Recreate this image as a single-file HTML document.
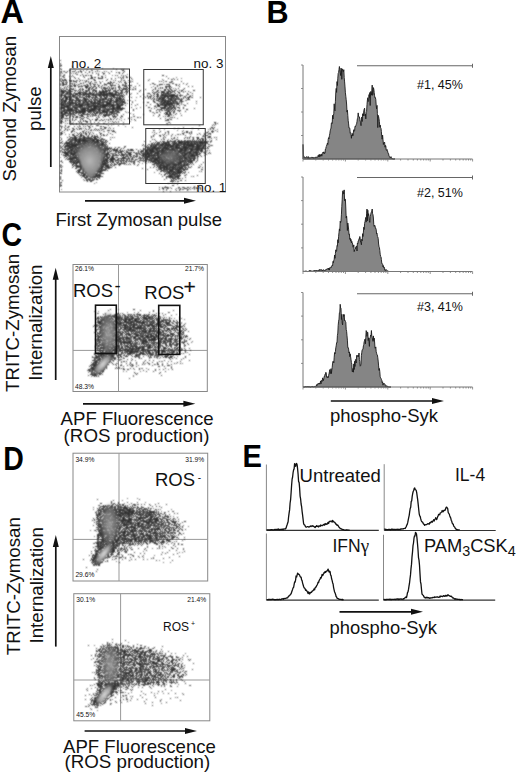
<!DOCTYPE html>
<html><head><meta charset="utf-8"><style>
html,body{margin:0;padding:0;background:#fff;}
svg{display:block;font-family:"Liberation Sans", sans-serif;}
</style></head><body>
<svg width="520" height="777" viewBox="0 0 520 777">
<rect x="59.5" y="36.5" width="166" height="155.5" stroke="#888" stroke-width="1" fill="none"/>
<rect x="73" y="264.5" width="134.3" height="127" stroke="#888" stroke-width="1" fill="none"/>
<line x1="118.5" y1="264.5" x2="118.5" y2="391.5" stroke="#999" stroke-width="1"/>
<line x1="73" y1="350.4" x2="207.3" y2="350.4" stroke="#999" stroke-width="1"/>
<rect x="73" y="453.2" width="134.7" height="127.8" stroke="#888" stroke-width="1" fill="none"/>
<line x1="119" y1="453.2" x2="119" y2="581.0" stroke="#999" stroke-width="1"/>
<line x1="73" y1="539.4" x2="207.7" y2="539.4" stroke="#999" stroke-width="1"/>
<rect x="73.8" y="593.7" width="136" height="127.1" stroke="#888" stroke-width="1" fill="none"/>
<line x1="120.6" y1="593.7" x2="120.6" y2="720.8000000000001" stroke="#999" stroke-width="1"/>
<line x1="73.8" y1="680" x2="209.8" y2="680" stroke="#999" stroke-width="1"/>
<defs><filter id="b25" x="-50%" y="-50%" width="200%" height="200%"><feGaussianBlur stdDeviation="2.5"/></filter><filter id="b2" x="-50%" y="-50%" width="200%" height="200%"><feGaussianBlur stdDeviation="2"/></filter><filter id="b15" x="-50%" y="-50%" width="200%" height="200%"><feGaussianBlur stdDeviation="1.5"/></filter><filter id="b1" x="-50%" y="-50%" width="200%" height="200%"><feGaussianBlur stdDeviation="0.8"/></filter><filter id="bdot" x="-5%" y="-5%" width="110%" height="110%"><feConvolveMatrix order="3" kernelMatrix="1 2 1 2 6 2 1 2 1" divisor="18" preserveAlpha="false"/></filter><radialGradient id="g0" cx="0.5" cy="0.5" r="0.5"><stop offset="0" stop-color="#b6b6b6"/><stop offset="0.65" stop-color="#8c8c8c" stop-opacity="0.95"/><stop offset="1" stop-color="#8c8c8c" stop-opacity="0"/></radialGradient><radialGradient id="g1" cx="0.5" cy="0.5" r="0.5"><stop offset="0" stop-color="#8a8a8a"/><stop offset="0.65" stop-color="#666666" stop-opacity="0.7"/><stop offset="1" stop-color="#666666" stop-opacity="0"/></radialGradient><radialGradient id="g2" cx="0.5" cy="0.5" r="0.5"><stop offset="0" stop-color="#a4a4a4"/><stop offset="0.65" stop-color="#7a7a7a" stop-opacity="0.8"/><stop offset="1" stop-color="#7a7a7a" stop-opacity="0"/></radialGradient><radialGradient id="g3" cx="0.5" cy="0.5" r="0.5"><stop offset="0" stop-color="#e0e0e0"/><stop offset="0.65" stop-color="#9a9a9a" stop-opacity="0.95"/><stop offset="1" stop-color="#9a9a9a" stop-opacity="0"/></radialGradient><radialGradient id="g4" cx="0.5" cy="0.5" r="0.5"><stop offset="0" stop-color="#a2a2a2"/><stop offset="0.65" stop-color="#7c7c7c" stop-opacity="0.75"/><stop offset="1" stop-color="#7c7c7c" stop-opacity="0"/></radialGradient><radialGradient id="g5" cx="0.5" cy="0.5" r="0.5"><stop offset="0" stop-color="#e0e0e0"/><stop offset="0.65" stop-color="#a0a0a0" stop-opacity="0.95"/><stop offset="1" stop-color="#a0a0a0" stop-opacity="0"/></radialGradient></defs>
<g filter="url(#bdot)"><path d="M60 64.5h1M99 65.5h1M73 68.5h1M102 68.5h1M113 68.5h1M60 69.5h1M87 69.5h1M91 69.5h1M86 70.5h1M91 70.5h1M63 71.5h1M73 71.5h1M97 71.5h1M99 71.5h1M106 71.5h1M60 72.5h2M65 72.5h1M70 72.5h1M78 72.5h1M108 72.5h1M118 72.5h1M62 73.5h1M71 73.5h1M73 73.5h1M87 73.5h1M92 73.5h1M98 73.5h1M60 74.5h1M64 74.5h1M76 74.5h1M103 74.5h1M127 74.5h1M63 75.5h1M72 75.5h1M83 75.5h1M105 75.5h1M112 75.5h1M123 75.5h1M125 75.5h1M60 76.5h1M63 76.5h1M69 76.5h1M73 76.5h1M129 76.5h1M63 77.5h1M122 77.5h2M176 77.5h1M60 78.5h2M88 78.5h1M173 78.5h1M181 78.5h1M79 79.5h1M93 79.5h1M111 79.5h1M121 79.5h1M132 79.5h1M149 79.5h1M162 79.5h1M172 79.5h1M64 80.5h1M76 80.5h2M84 80.5h1M113 80.5h1M121 80.5h1M123 80.5h1M130 80.5h1M60 81.5h1M63 81.5h1M66 81.5h1M76 81.5h1M85 81.5h1M99 81.5h1M102 81.5h1M125 81.5h1M165 81.5h1M66 82.5h2M83 82.5h1M85 82.5h1M88 82.5h1M94 82.5h2M114 82.5h1M119 82.5h1M121 82.5h1M128 82.5h1M163 82.5h1M171 82.5h1M71 83.5h1M104 83.5h1M116 83.5h1M137 83.5h1M187 83.5h1M62 84.5h1M72 84.5h1M76 84.5h1M79 84.5h1M86 84.5h1M112 84.5h1M122 84.5h2M150 84.5h1M155 84.5h1M164 84.5h1M175 84.5h1M68 85.5h1M70 85.5h2M73 85.5h1M77 85.5h1M81 85.5h1M83 85.5h1M88 85.5h1M94 85.5h1M99 85.5h1M104 85.5h1M106 85.5h1M113 85.5h1M119 85.5h1M123 85.5h3M159 85.5h1M178 85.5h1M65 86.5h1M72 86.5h1M80 86.5h1M88 86.5h1M93 86.5h1M129 86.5h1M153 86.5h1M66 87.5h1M68 87.5h1M78 87.5h1M92 87.5h1M101 87.5h1M105 87.5h1M107 87.5h1M111 87.5h1M119 87.5h2M123 87.5h1M126 87.5h1M151 87.5h1M165 87.5h1M60 88.5h1M66 88.5h1M75 88.5h1M91 88.5h1M104 88.5h1M170 88.5h1M173 88.5h1M175 88.5h1M61 89.5h1M63 89.5h1M80 89.5h1M94 89.5h1M104 89.5h1M115 89.5h1M124 89.5h1M126 89.5h1M168 89.5h1M171 89.5h1M176 89.5h1M60 90.5h1M63 90.5h1M76 90.5h1M87 90.5h1M89 90.5h1M92 90.5h1M99 90.5h1M107 90.5h1M113 90.5h2M160 90.5h1M169 90.5h1M172 90.5h1M64 91.5h1M67 91.5h3M75 91.5h1M77 91.5h1M79 91.5h2M85 91.5h1M92 91.5h2M101 91.5h1M114 91.5h1M122 91.5h1M127 91.5h2M153 91.5h1M156 91.5h1M164 91.5h1M166 91.5h2M173 91.5h2M183 91.5h1M60 92.5h2M66 92.5h1M69 92.5h1M83 92.5h1M86 92.5h1M98 92.5h1M105 92.5h1M108 92.5h1M111 92.5h1M121 92.5h1M126 92.5h1M154 92.5h1M156 92.5h1M159 92.5h1M166 92.5h1M172 92.5h1M183 92.5h1M60 93.5h2M65 93.5h1M68 93.5h2M73 93.5h2M82 93.5h1M84 93.5h1M87 93.5h1M92 93.5h1M94 93.5h1M97 93.5h3M102 93.5h1M105 93.5h1M113 93.5h2M116 93.5h1M119 93.5h1M122 93.5h1M131 93.5h1M147 93.5h1M154 93.5h1M164 93.5h1M169 93.5h1M62 94.5h1M64 94.5h2M67 94.5h1M69 94.5h1M72 94.5h1M82 94.5h1M89 94.5h1M91 94.5h1M94 94.5h1M97 94.5h1M108 94.5h1M117 94.5h2M121 94.5h1M164 94.5h1M166 94.5h2M169 94.5h2M180 94.5h1M187 94.5h1M68 95.5h1M77 95.5h1M79 95.5h2M82 95.5h1M91 95.5h1M96 95.5h2M101 95.5h1M108 95.5h3M115 95.5h1M119 95.5h1M158 95.5h1M160 95.5h1M168 95.5h1M176 95.5h1M181 95.5h1M190 95.5h1M67 96.5h1M71 96.5h1M74 96.5h4M80 96.5h1M82 96.5h1M93 96.5h1M100 96.5h1M111 96.5h1M117 96.5h1M120 96.5h2M144 96.5h1M151 96.5h1M161 96.5h3M174 96.5h1M185 96.5h1M60 97.5h1M64 97.5h1M68 97.5h1M70 97.5h1M74 97.5h2M80 97.5h1M82 97.5h1M94 97.5h1M107 97.5h1M118 97.5h1M124 97.5h1M129 97.5h1M136 97.5h1M160 97.5h1M170 97.5h1M173 97.5h1M177 97.5h1M191 97.5h1M86 98.5h2M89 98.5h1M94 98.5h1M97 98.5h5M104 98.5h1M114 98.5h1M117 98.5h1M156 98.5h3M161 98.5h1M166 98.5h2M172 98.5h1M174 98.5h1M176 98.5h4M186 98.5h1M63 99.5h1M68 99.5h1M71 99.5h1M77 99.5h1M79 99.5h1M82 99.5h2M94 99.5h1M97 99.5h1M101 99.5h1M107 99.5h1M113 99.5h1M118 99.5h1M121 99.5h1M124 99.5h1M151 99.5h1M153 99.5h1M156 99.5h1M160 99.5h1M164 99.5h1M169 99.5h1M172 99.5h3M177 99.5h1M180 99.5h1M182 99.5h1M60 100.5h1M62 100.5h1M73 100.5h1M80 100.5h1M82 100.5h2M88 100.5h1M93 100.5h1M95 100.5h2M98 100.5h1M101 100.5h1M103 100.5h2M115 100.5h1M119 100.5h1M121 100.5h1M127 100.5h1M130 100.5h1M135 100.5h1M160 100.5h2M169 100.5h1M173 100.5h1M185 100.5h2M61 101.5h1M63 101.5h1M76 101.5h1M82 101.5h1M84 101.5h1M87 101.5h1M103 101.5h1M113 101.5h1M118 101.5h1M120 101.5h1M132 101.5h1M158 101.5h1M160 101.5h1M163 101.5h1M166 101.5h1M174 101.5h1M177 101.5h1M180 101.5h1M183 101.5h1M60 102.5h1M63 102.5h1M68 102.5h1M74 102.5h1M76 102.5h1M78 102.5h2M82 102.5h1M85 102.5h1M88 102.5h1M92 102.5h1M96 102.5h1M98 102.5h1M104 102.5h2M111 102.5h2M114 102.5h1M117 102.5h3M121 102.5h1M125 102.5h1M143 102.5h1M155 102.5h1M160 102.5h1M162 102.5h1M169 102.5h1M172 102.5h1M174 102.5h3M179 102.5h1M62 103.5h1M64 103.5h1M66 103.5h1M69 103.5h1M80 103.5h2M84 103.5h3M89 103.5h2M100 103.5h3M111 103.5h1M118 103.5h1M120 103.5h2M124 103.5h1M127 103.5h1M156 103.5h1M159 103.5h3M165 103.5h1M175 103.5h1M179 103.5h1M181 103.5h1M196 103.5h1M64 104.5h1M66 104.5h3M71 104.5h3M83 104.5h2M90 104.5h3M94 104.5h1M101 104.5h1M114 104.5h2M119 104.5h2M163 104.5h1M174 104.5h1M176 104.5h1M181 104.5h1M183 104.5h1M60 105.5h1M65 105.5h1M70 105.5h1M72 105.5h2M78 105.5h1M85 105.5h2M89 105.5h2M98 105.5h2M108 105.5h1M110 105.5h1M115 105.5h2M155 105.5h1M160 105.5h2M167 105.5h1M170 105.5h2M176 105.5h1M60 106.5h1M62 106.5h2M69 106.5h1M72 106.5h1M74 106.5h4M84 106.5h1M87 106.5h1M92 106.5h1M101 106.5h1M107 106.5h1M109 106.5h1M114 106.5h1M157 106.5h1M167 106.5h1M174 106.5h1M176 106.5h1M65 107.5h1M71 107.5h2M78 107.5h1M81 107.5h1M83 107.5h1M85 107.5h3M90 107.5h1M97 107.5h1M99 107.5h1M107 107.5h1M110 107.5h1M115 107.5h1M140 107.5h1M167 107.5h1M170 107.5h2M175 107.5h1M179 107.5h1M69 108.5h1M77 108.5h1M81 108.5h1M90 108.5h1M97 108.5h2M102 108.5h3M106 108.5h5M115 108.5h1M166 108.5h1M169 108.5h2M63 109.5h1M66 109.5h1M73 109.5h3M80 109.5h1M96 109.5h1M102 109.5h2M105 109.5h1M116 109.5h1M119 109.5h1M158 109.5h2M164 109.5h1M167 109.5h4M60 110.5h3M65 110.5h1M80 110.5h1M88 110.5h1M95 110.5h2M100 110.5h1M105 110.5h2M109 110.5h1M117 110.5h5M149 110.5h1M159 110.5h1M161 110.5h1M164 110.5h1M167 110.5h1M169 110.5h2M179 110.5h1M61 111.5h1M65 111.5h1M67 111.5h1M69 111.5h2M72 111.5h1M78 111.5h1M92 111.5h1M94 111.5h1M96 111.5h1M98 111.5h1M100 111.5h1M108 111.5h2M116 111.5h1M125 111.5h1M173 111.5h1M67 112.5h1M70 112.5h1M72 112.5h1M75 112.5h1M90 112.5h2M98 112.5h2M113 112.5h2M116 112.5h1M126 112.5h1M152 112.5h2M160 112.5h1M174 112.5h1M63 113.5h1M69 113.5h1M72 113.5h1M78 113.5h2M84 113.5h1M101 113.5h2M104 113.5h1M113 113.5h1M173 113.5h1M180 113.5h1M60 114.5h2M65 114.5h1M71 114.5h2M82 114.5h1M91 114.5h2M101 114.5h1M104 114.5h1M107 114.5h2M114 114.5h1M116 114.5h1M143 114.5h1M169 114.5h1M171 114.5h1M72 115.5h1M74 115.5h2M87 115.5h1M90 115.5h1M92 115.5h2M100 115.5h1M121 115.5h1M171 115.5h1M173 115.5h1M61 116.5h1M70 116.5h1M102 116.5h1M108 116.5h1M112 116.5h1M116 116.5h1M133 116.5h1M163 116.5h1M169 116.5h1M60 117.5h1M69 117.5h1M98 117.5h2M103 117.5h1M109 117.5h1M129 117.5h1M138 117.5h1M170 117.5h2M62 118.5h1M64 118.5h1M68 118.5h1M82 118.5h1M88 118.5h1M114 118.5h1M117 118.5h1M121 118.5h1M169 118.5h1M177 118.5h1M76 119.5h1M119 119.5h1M124 119.5h1M80 120.5h1M100 120.5h1M103 120.5h1M121 120.5h1M167 120.5h1M65 121.5h1M90 121.5h1M110 121.5h1M115 121.5h1M118 121.5h1M130 121.5h1M63 122.5h1M70 122.5h1M73 122.5h1M86 122.5h1M114 122.5h1M118 122.5h1M168 122.5h1M65 123.5h1M79 123.5h1M91 123.5h1M97 123.5h1M99 123.5h1M111 123.5h1M166 123.5h2M170 123.5h1M73 124.5h1M76 124.5h1M113 124.5h1M167 124.5h1M213 124.5h1M90 125.5h1M111 125.5h1M214 125.5h1M61 126.5h2M65 126.5h1M69 126.5h1M77 126.5h1M79 126.5h2M125 126.5h1M64 127.5h1M68 127.5h1M78 127.5h1M89 127.5h2M106 127.5h1M109 127.5h1M61 128.5h1M83 128.5h1M95 128.5h1M104 128.5h1M108 128.5h1M212 128.5h1M73 129.5h1M81 129.5h1M91 129.5h1M102 129.5h1M164 129.5h1M208 129.5h1M213 129.5h1M217 129.5h1M73 130.5h1M93 130.5h1M95 130.5h1M154 130.5h1M177 130.5h1M183 130.5h1M212 130.5h1M88 131.5h1M103 131.5h2M167 131.5h1M64 132.5h1M76 132.5h1M92 132.5h1M152 132.5h1M159 132.5h1M60 133.5h1M74 133.5h1M165 133.5h1M168 133.5h1M206 133.5h1M208 133.5h1M65 134.5h1M85 134.5h1M91 134.5h1M96 134.5h1M162 134.5h1M168 134.5h1M177 134.5h1M190 134.5h1M200 134.5h1M208 134.5h1M60 135.5h1M72 135.5h1M82 135.5h1M86 135.5h1M97 135.5h1M166 135.5h1M171 135.5h1M175 135.5h1M78 136.5h2M87 136.5h1M100 136.5h1M164 136.5h1M171 136.5h1M202 136.5h1M204 136.5h1M208 136.5h1M73 137.5h1M77 137.5h1M79 137.5h2M82 137.5h1M86 137.5h2M89 137.5h3M100 137.5h1M110 137.5h1M114 137.5h1M192 137.5h1M196 137.5h1M205 137.5h1M207 137.5h1M210 137.5h1M61 138.5h1M69 138.5h2M73 138.5h1M78 138.5h1M82 138.5h1M85 138.5h1M99 138.5h1M101 138.5h1M163 138.5h1M173 138.5h1M203 138.5h1M70 139.5h1M73 139.5h1M81 139.5h1M86 139.5h4M91 139.5h1M100 139.5h1M102 139.5h1M163 139.5h1M168 139.5h1M176 139.5h1M192 139.5h1M209 139.5h1M67 140.5h1M71 140.5h1M73 140.5h1M77 140.5h1M90 140.5h1M101 140.5h1M103 140.5h1M155 140.5h1M174 140.5h1M179 140.5h1M188 140.5h2M72 141.5h1M74 141.5h1M81 141.5h1M88 141.5h2M91 141.5h1M103 141.5h1M169 141.5h2M185 141.5h1M189 141.5h1M197 141.5h1M203 141.5h1M207 141.5h1M211 141.5h1M65 142.5h1M70 142.5h1M72 142.5h2M83 142.5h1M86 142.5h1M90 142.5h1M93 142.5h1M102 142.5h1M105 142.5h1M153 142.5h1M161 142.5h1M164 142.5h1M169 142.5h1M172 142.5h2M175 142.5h1M183 142.5h1M190 142.5h1M192 142.5h2M195 142.5h1M198 142.5h1M207 142.5h1M210 142.5h1M70 143.5h1M73 143.5h1M75 143.5h1M77 143.5h1M79 143.5h1M87 143.5h1M89 143.5h1M92 143.5h1M96 143.5h1M98 143.5h3M105 143.5h1M156 143.5h1M158 143.5h1M161 143.5h1M167 143.5h1M171 143.5h2M177 143.5h1M182 143.5h1M186 143.5h1M189 143.5h1M193 143.5h1M196 143.5h1M198 143.5h1M204 143.5h1M206 143.5h1M66 144.5h1M68 144.5h1M81 144.5h2M85 144.5h2M89 144.5h3M98 144.5h1M100 144.5h1M105 144.5h1M148 144.5h1M152 144.5h2M155 144.5h1M159 144.5h1M164 144.5h1M172 144.5h1M175 144.5h1M179 144.5h2M199 144.5h1M201 144.5h1M203 144.5h2M209 144.5h1M70 145.5h1M78 145.5h3M83 145.5h1M87 145.5h1M93 145.5h1M103 145.5h2M107 145.5h1M144 145.5h1M152 145.5h1M154 145.5h1M157 145.5h3M163 145.5h1M174 145.5h1M181 145.5h1M185 145.5h1M194 145.5h1M202 145.5h1M210 145.5h1M212 145.5h1M64 146.5h1M78 146.5h1M80 146.5h1M84 146.5h1M101 146.5h2M104 146.5h1M106 146.5h1M124 146.5h1M152 146.5h1M158 146.5h1M160 146.5h2M163 146.5h1M166 146.5h1M169 146.5h1M174 146.5h1M178 146.5h1M187 146.5h1M201 146.5h2M206 146.5h1M60 147.5h1M67 147.5h2M73 147.5h1M75 147.5h1M90 147.5h1M92 147.5h2M96 147.5h1M102 147.5h1M105 147.5h2M111 147.5h1M149 147.5h1M151 147.5h1M156 147.5h1M159 147.5h1M161 147.5h2M168 147.5h1M172 147.5h1M174 147.5h1M180 147.5h3M189 147.5h3M194 147.5h2M200 147.5h2M204 147.5h1M65 148.5h2M71 148.5h1M74 148.5h1M76 148.5h1M85 148.5h1M91 148.5h1M94 148.5h1M101 148.5h3M148 148.5h1M150 148.5h1M161 148.5h1M169 148.5h1M174 148.5h1M188 148.5h1M193 148.5h2M206 148.5h2M63 149.5h1M66 149.5h1M73 149.5h2M77 149.5h1M79 149.5h1M81 149.5h1M87 149.5h1M97 149.5h1M104 149.5h1M106 149.5h1M110 149.5h1M115 149.5h1M127 149.5h1M140 149.5h1M154 149.5h1M158 149.5h1M164 149.5h1M175 149.5h2M179 149.5h1M183 149.5h1M187 149.5h1M189 149.5h1M200 149.5h1M204 149.5h1M61 150.5h1M67 150.5h2M73 150.5h1M75 150.5h1M80 150.5h1M83 150.5h3M89 150.5h1M92 150.5h1M94 150.5h3M98 150.5h1M102 150.5h1M106 150.5h1M126 150.5h1M129 150.5h1M142 150.5h1M148 150.5h1M154 150.5h2M158 150.5h1M166 150.5h1M168 150.5h1M176 150.5h1M178 150.5h1M187 150.5h2M193 150.5h3M199 150.5h1M206 150.5h2M209 150.5h1M64 151.5h1M67 151.5h1M70 151.5h1M72 151.5h1M75 151.5h1M81 151.5h1M84 151.5h1M90 151.5h3M97 151.5h1M101 151.5h3M109 151.5h1M111 151.5h1M113 151.5h1M116 151.5h2M123 151.5h1M127 151.5h1M148 151.5h1M155 151.5h2M160 151.5h1M165 151.5h1M168 151.5h4M176 151.5h2M182 151.5h2M186 151.5h3M192 151.5h1M194 151.5h1M197 151.5h1M204 151.5h1M206 151.5h1M60 152.5h1M69 152.5h1M72 152.5h2M78 152.5h1M81 152.5h1M87 152.5h1M90 152.5h2M95 152.5h1M102 152.5h1M105 152.5h1M109 152.5h1M115 152.5h1M129 152.5h1M136 152.5h1M140 152.5h1M143 152.5h3M149 152.5h1M154 152.5h1M159 152.5h1M172 152.5h6M181 152.5h1M185 152.5h2M191 152.5h2M199 152.5h1M201 152.5h1M203 152.5h1M206 152.5h1M68 153.5h2M76 153.5h2M80 153.5h1M83 153.5h1M95 153.5h1M104 153.5h2M110 153.5h1M112 153.5h4M122 153.5h1M137 153.5h2M141 153.5h1M145 153.5h1M152 153.5h1M168 153.5h1M171 153.5h1M173 153.5h2M183 153.5h1M188 153.5h1M192 153.5h1M194 153.5h1M204 153.5h1M63 154.5h1M75 154.5h3M81 154.5h1M85 154.5h1M88 154.5h1M93 154.5h1M98 154.5h1M100 154.5h1M102 154.5h2M112 154.5h2M115 154.5h1M125 154.5h1M127 154.5h2M137 154.5h1M142 154.5h1M150 154.5h1M152 154.5h1M155 154.5h2M159 154.5h1M163 154.5h1M165 154.5h1M168 154.5h1M171 154.5h1M173 154.5h3M178 154.5h2M181 154.5h1M183 154.5h1M187 154.5h2M190 154.5h1M194 154.5h2M66 155.5h1M69 155.5h1M74 155.5h1M77 155.5h1M82 155.5h2M95 155.5h1M97 155.5h2M100 155.5h1M102 155.5h4M110 155.5h1M121 155.5h1M124 155.5h1M126 155.5h2M136 155.5h2M144 155.5h1M147 155.5h1M159 155.5h1M161 155.5h5M167 155.5h1M179 155.5h1M181 155.5h1M186 155.5h2M189 155.5h1M68 156.5h2M71 156.5h3M75 156.5h1M79 156.5h1M81 156.5h2M84 156.5h1M86 156.5h3M90 156.5h1M94 156.5h1M100 156.5h1M102 156.5h2M111 156.5h1M113 156.5h1M121 156.5h1M128 156.5h1M133 156.5h1M142 156.5h1M145 156.5h1M150 156.5h1M152 156.5h1M154 156.5h1M160 156.5h3M165 156.5h2M170 156.5h1M177 156.5h1M182 156.5h1M185 156.5h3M189 156.5h1M195 156.5h1M60 157.5h1M69 157.5h1M71 157.5h1M80 157.5h1M84 157.5h1M87 157.5h1M94 157.5h1M96 157.5h2M102 157.5h1M106 157.5h1M115 157.5h1M125 157.5h1M130 157.5h1M133 157.5h1M136 157.5h1M139 157.5h1M145 157.5h1M150 157.5h2M154 157.5h1M156 157.5h1M162 157.5h2M167 157.5h1M171 157.5h1M175 157.5h1M181 157.5h1M183 157.5h1M187 157.5h1M190 157.5h4M195 157.5h1M68 158.5h1M77 158.5h1M79 158.5h1M84 158.5h2M88 158.5h2M96 158.5h3M100 158.5h1M102 158.5h1M104 158.5h1M106 158.5h1M119 158.5h1M126 158.5h2M131 158.5h1M139 158.5h1M142 158.5h1M144 158.5h2M149 158.5h1M160 158.5h1M162 158.5h3M166 158.5h2M169 158.5h1M178 158.5h1M183 158.5h1M187 158.5h2M65 159.5h1M73 159.5h2M89 159.5h1M94 159.5h1M96 159.5h1M99 159.5h1M102 159.5h1M104 159.5h1M115 159.5h1M126 159.5h1M133 159.5h1M137 159.5h1M140 159.5h1M143 159.5h1M150 159.5h1M152 159.5h2M158 159.5h1M163 159.5h1M165 159.5h1M169 159.5h1M175 159.5h1M181 159.5h1M185 159.5h1M188 159.5h2M191 159.5h1M197 159.5h1M61 160.5h1M71 160.5h1M73 160.5h1M77 160.5h1M84 160.5h2M91 160.5h1M95 160.5h1M99 160.5h1M102 160.5h1M108 160.5h1M113 160.5h1M118 160.5h2M121 160.5h1M127 160.5h1M131 160.5h1M134 160.5h2M143 160.5h1M145 160.5h1M148 160.5h1M152 160.5h1M160 160.5h1M164 160.5h1M169 160.5h1M171 160.5h2M176 160.5h3M181 160.5h1M186 160.5h2M60 161.5h1M72 161.5h1M74 161.5h1M76 161.5h1M83 161.5h2M88 161.5h1M92 161.5h1M95 161.5h1M105 161.5h1M109 161.5h1M111 161.5h1M129 161.5h1M132 161.5h1M137 161.5h1M148 161.5h1M150 161.5h1M156 161.5h1M160 161.5h1M166 161.5h3M174 161.5h1M176 161.5h3M184 161.5h1M186 161.5h1M189 161.5h1M192 161.5h1M71 162.5h1M75 162.5h1M83 162.5h1M88 162.5h3M100 162.5h1M103 162.5h1M106 162.5h1M123 162.5h2M131 162.5h1M133 162.5h1M148 162.5h1M154 162.5h1M157 162.5h1M166 162.5h1M169 162.5h1M174 162.5h1M176 162.5h1M182 162.5h2M185 162.5h1M195 162.5h1M71 163.5h1M81 163.5h1M83 163.5h1M89 163.5h1M96 163.5h2M100 163.5h2M107 163.5h1M125 163.5h1M129 163.5h1M134 163.5h1M142 163.5h1M146 163.5h1M160 163.5h1M164 163.5h1M167 163.5h1M176 163.5h2M183 163.5h1M185 163.5h2M188 163.5h1M192 163.5h1M60 164.5h1M75 164.5h1M79 164.5h1M82 164.5h1M91 164.5h1M94 164.5h4M99 164.5h1M106 164.5h2M124 164.5h1M157 164.5h1M159 164.5h1M162 164.5h1M164 164.5h2M171 164.5h1M180 164.5h1M182 164.5h1M185 164.5h1M188 164.5h1M191 164.5h1M61 165.5h1M75 165.5h1M78 165.5h2M85 165.5h2M88 165.5h1M92 165.5h1M100 165.5h1M102 165.5h1M104 165.5h1M113 165.5h1M154 165.5h1M157 165.5h2M165 165.5h1M170 165.5h3M177 165.5h1M179 165.5h1M182 165.5h1M188 165.5h1M199 165.5h1M62 166.5h1M75 166.5h1M83 166.5h1M88 166.5h1M91 166.5h1M95 166.5h1M98 166.5h2M109 166.5h1M112 166.5h1M158 166.5h1M161 166.5h2M168 166.5h2M171 166.5h1M174 166.5h1M176 166.5h3M180 166.5h1M184 166.5h2M200 166.5h1M60 167.5h1M77 167.5h1M79 167.5h1M82 167.5h1M85 167.5h1M87 167.5h1M92 167.5h1M94 167.5h1M98 167.5h1M100 167.5h1M103 167.5h1M105 167.5h2M168 167.5h1M176 167.5h1M189 167.5h1M82 168.5h1M89 168.5h1M93 168.5h2M106 168.5h2M109 168.5h1M158 168.5h2M162 168.5h1M165 168.5h1M168 168.5h1M170 168.5h2M174 168.5h1M176 168.5h1M178 168.5h1M78 169.5h1M81 169.5h2M85 169.5h1M90 169.5h1M93 169.5h1M95 169.5h1M97 169.5h1M100 169.5h1M102 169.5h1M104 169.5h1M106 169.5h1M156 169.5h1M158 169.5h1M181 169.5h2M60 170.5h1M82 170.5h1M84 170.5h3M99 170.5h1M164 170.5h3M173 170.5h1M176 170.5h1M180 170.5h1M82 171.5h1M84 171.5h1M90 171.5h4M102 171.5h1M164 171.5h1M166 171.5h1M175 171.5h1M199 171.5h1M82 172.5h1M91 172.5h1M98 172.5h1M101 172.5h1M154 172.5h1M164 172.5h1M166 172.5h2M170 172.5h1M172 172.5h1M176 172.5h1M184 172.5h2M78 173.5h1M84 173.5h1M86 173.5h1M91 173.5h1M99 173.5h2M165 173.5h1M167 173.5h1M171 173.5h1M174 173.5h1M81 174.5h1M87 174.5h1M89 174.5h1M94 174.5h1M97 174.5h1M100 174.5h1M167 174.5h1M170 174.5h1M176 174.5h1M81 175.5h1M85 175.5h1M87 175.5h1M89 175.5h4M94 175.5h1M168 175.5h1M172 175.5h2M175 175.5h2M184 175.5h1M82 176.5h1M88 176.5h1M91 176.5h1M98 176.5h1M101 176.5h1M173 176.5h2M191 176.5h1M81 177.5h1M168 177.5h1M173 177.5h2M176 177.5h1M86 178.5h1M89 178.5h2M94 178.5h1M170 178.5h1M175 178.5h1M180 178.5h1M83 179.5h1M87 179.5h1M93 179.5h1M178 179.5h1M90 180.5h1M93 180.5h1M172 180.5h3M172 181.5h1M96 182.5h1M172 182.5h1M60 183.5h1M94 183.5h1M177 184.5h1M165 186.5h1M168 187.5h1M170 187.5h1M184 187.5h1M193 187.5h1M200 187.5h1M168 188.5h1M176 188.5h1M178 188.5h1M189 188.5h1M198 188.5h1M61 189.5h1M175 189.5h1M179 189.5h1M183 189.5h1M188 189.5h1M190 189.5h1M194 189.5h1M166 190.5h1" stroke="#6a6a6a" stroke-width="1" fill="none"/><path d="M60 60.5h1M60 63.5h1M60 65.5h2M60 66.5h1M72 66.5h1M60 68.5h1M61 69.5h1M116 69.5h1M121 69.5h1M123 69.5h1M69 70.5h2M75 70.5h1M80 70.5h1M83 70.5h1M92 70.5h1M97 70.5h1M122 70.5h2M60 71.5h2M64 71.5h1M67 71.5h1M72 71.5h1M74 71.5h1M78 71.5h1M80 71.5h2M89 71.5h1M95 71.5h1M104 71.5h1M111 71.5h1M124 71.5h1M66 72.5h1M76 72.5h1M81 72.5h1M85 72.5h1M89 72.5h1M92 72.5h1M102 72.5h1M116 72.5h1M119 72.5h1M123 72.5h1M60 73.5h1M75 73.5h1M96 73.5h1M103 73.5h2M109 73.5h1M119 73.5h1M122 73.5h1M77 74.5h1M82 74.5h1M98 74.5h1M60 75.5h1M64 75.5h1M80 75.5h1M85 75.5h2M88 75.5h1M90 75.5h2M98 75.5h1M115 75.5h1M117 75.5h1M121 75.5h1M162 75.5h2M62 76.5h1M71 76.5h1M83 76.5h1M91 76.5h1M101 76.5h2M123 76.5h1M126 76.5h1M166 76.5h1M64 77.5h1M74 77.5h1M84 77.5h1M91 77.5h2M94 77.5h2M98 77.5h1M102 77.5h1M105 77.5h1M118 77.5h1M120 77.5h1M126 77.5h2M130 77.5h1M70 78.5h1M75 78.5h1M78 78.5h1M90 78.5h3M98 78.5h5M111 78.5h1M115 78.5h1M121 78.5h1M123 78.5h1M131 78.5h1M168 78.5h1M60 79.5h1M62 79.5h1M64 79.5h2M88 79.5h1M94 79.5h1M107 79.5h1M171 79.5h1M174 79.5h1M177 79.5h1M60 80.5h1M62 80.5h2M65 80.5h2M69 80.5h3M73 80.5h1M80 80.5h1M82 80.5h1M86 80.5h1M94 80.5h2M106 80.5h1M115 80.5h1M124 80.5h1M128 80.5h1M148 80.5h1M163 80.5h1M61 81.5h1M70 81.5h2M73 81.5h3M79 81.5h1M86 81.5h1M88 81.5h1M91 81.5h1M110 81.5h1M118 81.5h1M120 81.5h1M130 81.5h1M132 81.5h1M159 81.5h1M161 81.5h1M166 81.5h1M171 81.5h2M181 81.5h1M62 82.5h2M65 82.5h1M76 82.5h1M90 82.5h1M96 82.5h1M100 82.5h1M108 82.5h1M110 82.5h2M113 82.5h1M124 82.5h2M130 82.5h1M169 82.5h2M60 83.5h1M62 83.5h2M66 83.5h1M70 83.5h1M72 83.5h1M74 83.5h1M80 83.5h2M83 83.5h1M89 83.5h2M92 83.5h1M100 83.5h1M107 83.5h4M112 83.5h1M125 83.5h2M152 83.5h2M172 83.5h2M183 83.5h1M60 84.5h1M63 84.5h4M74 84.5h1M78 84.5h1M87 84.5h1M90 84.5h1M93 84.5h3M97 84.5h1M104 84.5h3M110 84.5h1M118 84.5h1M125 84.5h1M154 84.5h1M159 84.5h4M166 84.5h4M176 84.5h1M179 84.5h1M186 84.5h1M60 85.5h1M62 85.5h2M74 85.5h2M84 85.5h2M87 85.5h1M90 85.5h1M98 85.5h1M102 85.5h1M110 85.5h3M114 85.5h2M122 85.5h1M126 85.5h1M128 85.5h4M139 85.5h1M157 85.5h1M169 85.5h1M176 85.5h1M67 86.5h1M70 86.5h2M74 86.5h2M78 86.5h2M81 86.5h2M85 86.5h3M91 86.5h1M94 86.5h2M98 86.5h1M101 86.5h1M108 86.5h1M111 86.5h1M118 86.5h2M124 86.5h3M135 86.5h1M157 86.5h1M165 86.5h6M179 86.5h1M188 86.5h1M192 86.5h1M60 87.5h1M64 87.5h1M85 87.5h3M89 87.5h2M93 87.5h1M96 87.5h1M99 87.5h1M103 87.5h2M109 87.5h1M113 87.5h1M115 87.5h1M118 87.5h1M127 87.5h1M130 87.5h1M133 87.5h1M155 87.5h1M160 87.5h1M162 87.5h1M166 87.5h1M169 87.5h1M171 87.5h1M62 88.5h1M64 88.5h1M70 88.5h2M73 88.5h1M80 88.5h1M82 88.5h1M86 88.5h1M88 88.5h2M92 88.5h1M95 88.5h2M101 88.5h1M103 88.5h1M105 88.5h3M109 88.5h1M111 88.5h3M115 88.5h1M119 88.5h1M121 88.5h1M123 88.5h4M128 88.5h2M135 88.5h1M155 88.5h1M158 88.5h1M160 88.5h1M162 88.5h1M166 88.5h1M169 88.5h1M178 88.5h1M184 88.5h1M60 89.5h1M66 89.5h2M69 89.5h1M71 89.5h3M79 89.5h1M82 89.5h2M88 89.5h2M91 89.5h1M93 89.5h1M102 89.5h1M105 89.5h1M108 89.5h1M110 89.5h1M112 89.5h1M119 89.5h1M122 89.5h2M125 89.5h1M127 89.5h1M130 89.5h1M132 89.5h2M135 89.5h1M145 89.5h1M153 89.5h1M155 89.5h1M164 89.5h2M167 89.5h1M170 89.5h1M183 89.5h1M61 90.5h2M64 90.5h2M68 90.5h3M74 90.5h2M78 90.5h1M80 90.5h1M82 90.5h1M85 90.5h2M88 90.5h1M93 90.5h4M102 90.5h2M105 90.5h2M108 90.5h3M115 90.5h1M117 90.5h2M120 90.5h3M126 90.5h1M128 90.5h1M140 90.5h1M152 90.5h1M157 90.5h2M164 90.5h2M168 90.5h1M171 90.5h1M174 90.5h2M179 90.5h1M181 90.5h2M193 90.5h2M60 91.5h4M65 91.5h2M70 91.5h3M83 91.5h1M86 91.5h2M89 91.5h1M95 91.5h2M99 91.5h2M102 91.5h6M109 91.5h1M113 91.5h1M115 91.5h2M121 91.5h1M125 91.5h2M139 91.5h1M157 91.5h1M161 91.5h3M168 91.5h3M172 91.5h1M177 91.5h1M181 91.5h1M185 91.5h1M188 91.5h1M62 92.5h3M67 92.5h2M70 92.5h1M74 92.5h1M78 92.5h5M84 92.5h2M89 92.5h2M92 92.5h1M94 92.5h1M96 92.5h1M99 92.5h6M106 92.5h1M109 92.5h2M112 92.5h1M115 92.5h4M120 92.5h1M122 92.5h1M124 92.5h1M127 92.5h1M152 92.5h1M155 92.5h1M158 92.5h1M161 92.5h4M167 92.5h2M170 92.5h2M174 92.5h1M178 92.5h2M190 92.5h1M62 93.5h2M66 93.5h2M70 93.5h2M75 93.5h6M83 93.5h1M85 93.5h2M88 93.5h4M93 93.5h1M96 93.5h1M100 93.5h2M103 93.5h2M106 93.5h7M115 93.5h1M118 93.5h1M120 93.5h2M126 93.5h1M129 93.5h1M137 93.5h1M148 93.5h2M153 93.5h1M157 93.5h1M161 93.5h1M163 93.5h1M165 93.5h4M170 93.5h1M175 93.5h1M179 93.5h1M187 93.5h1M192 93.5h1M60 94.5h2M66 94.5h1M68 94.5h1M70 94.5h2M73 94.5h1M75 94.5h3M79 94.5h3M83 94.5h6M90 94.5h1M92 94.5h2M95 94.5h2M98 94.5h10M109 94.5h8M119 94.5h1M123 94.5h1M126 94.5h1M130 94.5h1M143 94.5h1M150 94.5h1M154 94.5h1M156 94.5h3M161 94.5h3M165 94.5h1M168 94.5h1M171 94.5h4M177 94.5h1M188 94.5h1M60 95.5h6M70 95.5h1M72 95.5h4M78 95.5h1M83 95.5h2M86 95.5h1M88 95.5h2M92 95.5h4M98 95.5h3M102 95.5h6M111 95.5h4M116 95.5h3M120 95.5h3M124 95.5h1M147 95.5h1M151 95.5h1M153 95.5h1M157 95.5h1M161 95.5h7M169 95.5h7M177 95.5h1M179 95.5h2M182 95.5h1M186 95.5h1M192 95.5h1M60 96.5h2M64 96.5h3M68 96.5h3M72 96.5h2M79 96.5h1M85 96.5h6M95 96.5h2M99 96.5h1M101 96.5h1M103 96.5h2M106 96.5h2M109 96.5h2M112 96.5h3M119 96.5h1M122 96.5h2M129 96.5h1M140 96.5h1M147 96.5h1M149 96.5h2M154 96.5h1M156 96.5h3M160 96.5h1M164 96.5h10M175 96.5h3M180 96.5h1M184 96.5h1M189 96.5h2M61 97.5h1M63 97.5h1M65 97.5h3M69 97.5h1M71 97.5h1M73 97.5h1M76 97.5h2M79 97.5h1M81 97.5h1M83 97.5h2M86 97.5h1M88 97.5h2M91 97.5h3M95 97.5h3M100 97.5h2M104 97.5h3M111 97.5h1M113 97.5h5M119 97.5h2M122 97.5h1M131 97.5h1M145 97.5h1M148 97.5h1M150 97.5h1M153 97.5h1M157 97.5h1M159 97.5h1M161 97.5h5M167 97.5h2M171 97.5h2M174 97.5h1M176 97.5h1M178 97.5h1M183 97.5h1M185 97.5h1M187 97.5h3M192 97.5h1M200 97.5h1M60 98.5h1M62 98.5h2M65 98.5h3M69 98.5h3M75 98.5h4M83 98.5h3M92 98.5h1M95 98.5h1M102 98.5h2M105 98.5h2M108 98.5h5M116 98.5h1M118 98.5h4M123 98.5h1M143 98.5h1M148 98.5h1M150 98.5h1M152 98.5h1M154 98.5h1M159 98.5h2M162 98.5h3M168 98.5h4M173 98.5h1M175 98.5h1M181 98.5h1M183 98.5h1M188 98.5h1M60 99.5h3M65 99.5h3M69 99.5h2M72 99.5h2M76 99.5h1M78 99.5h1M80 99.5h1M84 99.5h5M90 99.5h2M93 99.5h1M95 99.5h2M99 99.5h2M102 99.5h5M108 99.5h1M110 99.5h2M115 99.5h3M119 99.5h2M122 99.5h2M154 99.5h1M158 99.5h2M161 99.5h3M165 99.5h1M168 99.5h1M170 99.5h2M175 99.5h2M178 99.5h2M181 99.5h1M187 99.5h3M61 100.5h1M63 100.5h4M69 100.5h4M74 100.5h6M81 100.5h1M84 100.5h3M89 100.5h1M91 100.5h1M94 100.5h1M97 100.5h1M99 100.5h2M102 100.5h1M107 100.5h7M116 100.5h3M120 100.5h1M122 100.5h1M124 100.5h1M129 100.5h1M153 100.5h1M156 100.5h3M162 100.5h7M170 100.5h3M174 100.5h2M180 100.5h2M60 101.5h1M62 101.5h1M64 101.5h3M68 101.5h2M71 101.5h2M75 101.5h1M78 101.5h3M83 101.5h1M85 101.5h2M88 101.5h5M94 101.5h2M97 101.5h4M102 101.5h1M104 101.5h4M109 101.5h3M114 101.5h4M119 101.5h1M121 101.5h4M153 101.5h2M159 101.5h1M161 101.5h2M164 101.5h2M167 101.5h4M172 101.5h2M175 101.5h2M179 101.5h1M181 101.5h2M196 101.5h1M61 102.5h2M64 102.5h2M67 102.5h1M69 102.5h5M75 102.5h1M77 102.5h1M80 102.5h1M83 102.5h2M86 102.5h2M90 102.5h2M93 102.5h3M97 102.5h1M99 102.5h5M106 102.5h5M113 102.5h1M115 102.5h2M120 102.5h1M122 102.5h3M132 102.5h1M147 102.5h2M154 102.5h1M161 102.5h1M163 102.5h6M170 102.5h2M173 102.5h1M177 102.5h1M181 102.5h1M60 103.5h2M63 103.5h1M65 103.5h1M67 103.5h2M70 103.5h7M78 103.5h2M82 103.5h2M87 103.5h2M91 103.5h9M103 103.5h1M106 103.5h5M113 103.5h1M116 103.5h2M119 103.5h1M122 103.5h1M125 103.5h1M157 103.5h1M162 103.5h3M166 103.5h9M176 103.5h3M187 103.5h1M60 104.5h4M65 104.5h1M69 104.5h2M75 104.5h8M85 104.5h5M93 104.5h1M95 104.5h1M97 104.5h4M102 104.5h12M116 104.5h3M121 104.5h3M131 104.5h1M137 104.5h1M150 104.5h1M157 104.5h2M160 104.5h3M164 104.5h9M177 104.5h2M61 105.5h4M66 105.5h4M71 105.5h1M74 105.5h4M79 105.5h6M87 105.5h2M91 105.5h7M100 105.5h8M109 105.5h1M111 105.5h4M117 105.5h6M125 105.5h1M135 105.5h1M146 105.5h1M157 105.5h3M162 105.5h5M168 105.5h2M172 105.5h3M179 105.5h1M184 105.5h2M61 106.5h1M64 106.5h5M73 106.5h1M78 106.5h5M86 106.5h1M88 106.5h4M93 106.5h8M102 106.5h5M108 106.5h1M110 106.5h4M116 106.5h5M154 106.5h2M158 106.5h2M164 106.5h3M169 106.5h3M173 106.5h1M60 107.5h5M66 107.5h4M73 107.5h5M79 107.5h2M82 107.5h1M84 107.5h1M88 107.5h2M91 107.5h1M93 107.5h4M98 107.5h1M100 107.5h6M109 107.5h1M112 107.5h3M116 107.5h5M122 107.5h1M131 107.5h1M148 107.5h2M156 107.5h1M160 107.5h6M168 107.5h2M172 107.5h3M177 107.5h2M183 107.5h1M60 108.5h5M67 108.5h2M70 108.5h3M74 108.5h3M80 108.5h1M82 108.5h7M91 108.5h6M99 108.5h2M105 108.5h1M111 108.5h4M116 108.5h9M136 108.5h1M151 108.5h1M154 108.5h1M161 108.5h5M167 108.5h2M171 108.5h2M174 108.5h2M179 108.5h1M183 108.5h1M194 108.5h1M60 109.5h2M64 109.5h2M67 109.5h6M76 109.5h3M81 109.5h5M87 109.5h9M97 109.5h4M104 109.5h1M106 109.5h10M117 109.5h2M120 109.5h3M133 109.5h1M157 109.5h1M160 109.5h2M166 109.5h1M171 109.5h1M173 109.5h1M175 109.5h1M186 109.5h2M63 110.5h2M66 110.5h11M78 110.5h2M81 110.5h7M89 110.5h6M98 110.5h2M101 110.5h4M107 110.5h2M112 110.5h2M115 110.5h2M133 110.5h1M150 110.5h1M156 110.5h1M162 110.5h1M165 110.5h2M168 110.5h1M172 110.5h1M174 110.5h1M177 110.5h2M180 110.5h1M60 111.5h1M62 111.5h3M66 111.5h1M68 111.5h1M71 111.5h1M73 111.5h1M75 111.5h3M79 111.5h7M87 111.5h5M93 111.5h1M95 111.5h1M97 111.5h1M99 111.5h1M102 111.5h6M110 111.5h6M117 111.5h2M150 111.5h1M159 111.5h1M167 111.5h3M171 111.5h1M174 111.5h1M179 111.5h1M185 111.5h1M60 112.5h3M64 112.5h3M69 112.5h1M73 112.5h2M76 112.5h10M88 112.5h2M93 112.5h2M96 112.5h2M100 112.5h8M109 112.5h4M117 112.5h3M128 112.5h1M156 112.5h2M165 112.5h3M169 112.5h2M173 112.5h1M60 113.5h3M64 113.5h5M70 113.5h2M73 113.5h1M75 113.5h2M80 113.5h1M82 113.5h2M87 113.5h1M90 113.5h1M92 113.5h1M94 113.5h4M99 113.5h2M106 113.5h2M109 113.5h1M111 113.5h2M114 113.5h3M130 113.5h1M154 113.5h1M164 113.5h1M166 113.5h2M169 113.5h2M176 113.5h1M62 114.5h3M68 114.5h1M70 114.5h1M73 114.5h2M78 114.5h1M81 114.5h1M83 114.5h7M93 114.5h1M95 114.5h1M99 114.5h1M103 114.5h1M105 114.5h2M109 114.5h3M113 114.5h1M117 114.5h1M123 114.5h1M133 114.5h1M159 114.5h1M165 114.5h4M170 114.5h1M175 114.5h1M60 115.5h4M65 115.5h4M70 115.5h1M79 115.5h4M94 115.5h3M98 115.5h1M103 115.5h7M112 115.5h1M114 115.5h1M117 115.5h1M153 115.5h1M159 115.5h1M168 115.5h2M181 115.5h1M60 116.5h1M62 116.5h2M66 116.5h1M72 116.5h2M76 116.5h2M81 116.5h3M87 116.5h2M90 116.5h1M92 116.5h1M98 116.5h1M104 116.5h2M113 116.5h3M121 116.5h2M134 116.5h1M158 116.5h1M165 116.5h1M167 116.5h2M61 117.5h3M73 117.5h1M75 117.5h3M79 117.5h2M84 117.5h1M86 117.5h1M96 117.5h1M113 117.5h1M115 117.5h1M120 117.5h1M131 117.5h1M137 117.5h1M140 117.5h1M172 117.5h1M174 117.5h1M60 118.5h2M65 118.5h3M72 118.5h1M81 118.5h1M83 118.5h1M87 118.5h1M97 118.5h1M110 118.5h1M128 118.5h2M160 118.5h1M165 118.5h1M60 119.5h1M62 119.5h1M72 119.5h1M75 119.5h1M80 119.5h1M82 119.5h1M89 119.5h1M92 119.5h1M95 119.5h3M101 119.5h1M104 119.5h1M106 119.5h1M108 119.5h1M110 119.5h2M113 119.5h1M116 119.5h1M131 119.5h1M134 119.5h1M167 119.5h2M170 119.5h2M60 120.5h2M65 120.5h1M67 120.5h1M69 120.5h1M72 120.5h1M74 120.5h1M83 120.5h1M85 120.5h1M90 120.5h1M95 120.5h2M99 120.5h1M102 120.5h1M108 120.5h1M135 120.5h1M165 120.5h2M168 120.5h1M60 121.5h3M70 121.5h1M78 121.5h1M80 121.5h1M83 121.5h1M85 121.5h3M105 121.5h1M112 121.5h1M60 122.5h2M79 122.5h1M81 122.5h1M87 122.5h1M90 122.5h1M94 122.5h1M98 122.5h1M108 122.5h1M113 122.5h1M116 122.5h1M123 122.5h1M169 122.5h1M214 122.5h2M60 123.5h2M67 123.5h1M69 123.5h1M71 123.5h2M76 123.5h1M81 123.5h1M103 123.5h2M215 123.5h1M217 123.5h1M70 124.5h1M82 124.5h2M85 124.5h1M91 124.5h1M106 124.5h1M123 124.5h1M215 124.5h1M60 125.5h1M65 125.5h1M79 125.5h1M87 125.5h1M96 125.5h3M108 125.5h1M118 125.5h1M199 125.5h1M212 125.5h1M60 126.5h1M68 126.5h1M74 126.5h1M83 126.5h1M85 126.5h1M88 126.5h2M92 126.5h1M100 126.5h2M103 126.5h1M61 127.5h1M67 127.5h1M104 127.5h2M132 127.5h1M183 127.5h1M211 127.5h2M214 127.5h1M65 128.5h1M72 128.5h2M76 128.5h1M79 128.5h3M85 128.5h1M89 128.5h1M100 128.5h2M105 128.5h1M110 128.5h1M113 128.5h1M174 128.5h1M178 128.5h1M192 128.5h1M210 128.5h1M213 128.5h1M60 129.5h1M65 129.5h1M67 129.5h1M69 129.5h1M74 129.5h1M77 129.5h1M79 129.5h1M86 129.5h1M88 129.5h1M94 129.5h1M96 129.5h1M98 129.5h1M103 129.5h1M159 129.5h1M198 129.5h1M210 129.5h1M60 130.5h1M64 130.5h1M67 130.5h1M72 130.5h1M84 130.5h1M90 130.5h2M97 130.5h1M99 130.5h1M101 130.5h1M107 130.5h3M111 130.5h1M113 130.5h1M153 130.5h1M215 130.5h1M62 131.5h1M71 131.5h2M74 131.5h1M82 131.5h2M86 131.5h1M112 131.5h3M160 131.5h1M168 131.5h1M182 131.5h1M186 131.5h2M191 131.5h1M208 131.5h1M211 131.5h3M217 131.5h1M60 132.5h2M71 132.5h1M80 132.5h1M83 132.5h1M85 132.5h1M88 132.5h1M90 132.5h1M99 132.5h1M108 132.5h1M115 132.5h1M154 132.5h1M165 132.5h1M168 132.5h1M184 132.5h1M186 132.5h2M189 132.5h1M191 132.5h1M206 132.5h2M212 132.5h1M61 133.5h2M77 133.5h1M79 133.5h1M81 133.5h1M83 133.5h1M85 133.5h2M89 133.5h1M93 133.5h1M100 133.5h2M110 133.5h1M156 133.5h1M182 133.5h2M189 133.5h1M191 133.5h1M199 133.5h1M204 133.5h1M209 133.5h2M60 134.5h2M69 134.5h1M72 134.5h2M78 134.5h1M80 134.5h2M86 134.5h1M89 134.5h1M100 134.5h1M103 134.5h1M107 134.5h1M112 134.5h1M154 134.5h1M164 134.5h1M172 134.5h1M178 134.5h1M180 134.5h1M183 134.5h1M197 134.5h1M204 134.5h1M210 134.5h1M73 135.5h2M76 135.5h2M80 135.5h2M83 135.5h1M88 135.5h1M92 135.5h1M94 135.5h1M101 135.5h1M103 135.5h2M106 135.5h1M153 135.5h1M159 135.5h2M163 135.5h1M185 135.5h1M203 135.5h1M205 135.5h3M69 136.5h1M74 136.5h2M80 136.5h2M83 136.5h2M88 136.5h1M91 136.5h2M94 136.5h4M151 136.5h1M153 136.5h1M160 136.5h1M190 136.5h1M203 136.5h1M209 136.5h2M60 137.5h1M67 137.5h1M70 137.5h3M74 137.5h3M83 137.5h3M88 137.5h1M93 137.5h3M97 137.5h2M112 137.5h1M151 137.5h1M163 137.5h1M165 137.5h1M174 137.5h1M177 137.5h1M185 137.5h1M187 137.5h1M189 137.5h1M193 137.5h1M197 137.5h2M208 137.5h2M214 137.5h1M216 137.5h1M72 138.5h1M74 138.5h3M79 138.5h3M83 138.5h2M86 138.5h7M94 138.5h3M102 138.5h1M171 138.5h1M174 138.5h1M184 138.5h1M187 138.5h1M189 138.5h1M193 138.5h1M197 138.5h2M201 138.5h2M205 138.5h1M211 138.5h1M61 139.5h1M68 139.5h2M71 139.5h2M74 139.5h7M82 139.5h4M90 139.5h1M92 139.5h7M101 139.5h1M103 139.5h2M110 139.5h1M152 139.5h1M154 139.5h1M161 139.5h1M164 139.5h1M172 139.5h1M177 139.5h1M193 139.5h1M197 139.5h1M199 139.5h2M202 139.5h2M206 139.5h1M216 139.5h1M60 140.5h1M68 140.5h1M70 140.5h1M72 140.5h1M74 140.5h3M78 140.5h12M91 140.5h4M96 140.5h5M105 140.5h2M167 140.5h1M170 140.5h1M175 140.5h1M178 140.5h1M181 140.5h1M184 140.5h2M187 140.5h1M190 140.5h1M192 140.5h1M194 140.5h1M196 140.5h1M198 140.5h1M200 140.5h1M202 140.5h2M205 140.5h1M211 140.5h1M62 141.5h1M66 141.5h1M69 141.5h3M75 141.5h6M82 141.5h6M90 141.5h1M92 141.5h7M100 141.5h3M105 141.5h1M107 141.5h1M144 141.5h1M150 141.5h1M156 141.5h1M160 141.5h1M162 141.5h3M167 141.5h2M171 141.5h5M177 141.5h8M186 141.5h3M190 141.5h7M198 141.5h5M204 141.5h3M208 141.5h1M210 141.5h1M60 142.5h2M66 142.5h4M71 142.5h1M74 142.5h2M77 142.5h4M82 142.5h1M84 142.5h2M87 142.5h3M91 142.5h2M94 142.5h6M101 142.5h1M103 142.5h2M106 142.5h1M155 142.5h1M157 142.5h3M163 142.5h1M165 142.5h4M174 142.5h1M176 142.5h1M178 142.5h5M184 142.5h6M191 142.5h1M194 142.5h1M196 142.5h2M199 142.5h8M60 143.5h1M62 143.5h1M64 143.5h6M71 143.5h2M74 143.5h1M76 143.5h1M78 143.5h1M80 143.5h7M88 143.5h1M90 143.5h2M93 143.5h3M97 143.5h1M101 143.5h3M109 143.5h1M151 143.5h2M154 143.5h1M157 143.5h1M159 143.5h1M162 143.5h5M168 143.5h2M173 143.5h4M178 143.5h4M183 143.5h3M187 143.5h2M190 143.5h3M194 143.5h2M197 143.5h1M199 143.5h5M205 143.5h1M207 143.5h1M64 144.5h1M67 144.5h1M69 144.5h12M83 144.5h2M87 144.5h2M92 144.5h3M96 144.5h2M99 144.5h1M101 144.5h4M106 144.5h1M143 144.5h1M149 144.5h1M151 144.5h1M154 144.5h1M156 144.5h3M160 144.5h4M165 144.5h6M173 144.5h2M176 144.5h3M181 144.5h18M200 144.5h1M202 144.5h1M205 144.5h1M208 144.5h1M60 145.5h1M63 145.5h1M65 145.5h5M71 145.5h7M81 145.5h2M84 145.5h3M88 145.5h5M94 145.5h9M105 145.5h1M142 145.5h1M147 145.5h1M150 145.5h2M153 145.5h1M155 145.5h2M160 145.5h3M164 145.5h10M175 145.5h6M183 145.5h2M186 145.5h8M196 145.5h6M203 145.5h3M211 145.5h1M60 146.5h1M62 146.5h1M65 146.5h12M79 146.5h1M81 146.5h3M85 146.5h5M91 146.5h9M103 146.5h1M105 146.5h1M107 146.5h1M125 146.5h1M144 146.5h1M146 146.5h1M148 146.5h1M150 146.5h2M153 146.5h4M159 146.5h1M162 146.5h1M164 146.5h2M167 146.5h2M170 146.5h4M175 146.5h3M179 146.5h1M181 146.5h6M188 146.5h13M203 146.5h2M208 146.5h2M61 147.5h1M64 147.5h2M69 147.5h4M74 147.5h1M76 147.5h12M91 147.5h1M94 147.5h2M97 147.5h5M104 147.5h1M107 147.5h1M109 147.5h1M115 147.5h1M118 147.5h2M124 147.5h1M146 147.5h3M150 147.5h1M152 147.5h4M157 147.5h2M160 147.5h1M163 147.5h5M169 147.5h3M173 147.5h1M175 147.5h5M183 147.5h6M192 147.5h2M196 147.5h4M202 147.5h2M207 147.5h1M60 148.5h1M62 148.5h1M67 148.5h4M72 148.5h2M75 148.5h1M77 148.5h4M82 148.5h3M86 148.5h5M92 148.5h2M95 148.5h1M97 148.5h4M104 148.5h8M114 148.5h1M117 148.5h1M121 148.5h1M123 148.5h1M143 148.5h2M147 148.5h1M149 148.5h1M151 148.5h10M162 148.5h7M171 148.5h3M175 148.5h13M189 148.5h4M195 148.5h11M208 148.5h1M62 149.5h1M64 149.5h2M67 149.5h2M70 149.5h3M75 149.5h2M78 149.5h1M80 149.5h1M82 149.5h5M88 149.5h6M95 149.5h2M98 149.5h6M105 149.5h1M107 149.5h2M112 149.5h3M116 149.5h2M120 149.5h1M128 149.5h1M130 149.5h3M136 149.5h1M143 149.5h2M146 149.5h8M155 149.5h3M159 149.5h1M161 149.5h3M165 149.5h10M177 149.5h1M180 149.5h3M184 149.5h3M188 149.5h1M190 149.5h10M201 149.5h2M60 150.5h1M64 150.5h1M66 150.5h1M69 150.5h4M74 150.5h1M76 150.5h4M81 150.5h2M86 150.5h3M90 150.5h2M93 150.5h1M97 150.5h1M99 150.5h3M103 150.5h3M107 150.5h1M109 150.5h1M111 150.5h1M113 150.5h5M119 150.5h2M122 150.5h1M124 150.5h1M128 150.5h1M130 150.5h4M138 150.5h1M141 150.5h1M143 150.5h1M145 150.5h3M149 150.5h5M156 150.5h2M159 150.5h7M167 150.5h1M169 150.5h7M177 150.5h1M179 150.5h8M190 150.5h3M196 150.5h3M200 150.5h3M60 151.5h1M62 151.5h1M65 151.5h1M68 151.5h2M71 151.5h1M73 151.5h2M76 151.5h5M82 151.5h2M86 151.5h4M93 151.5h4M98 151.5h3M104 151.5h2M107 151.5h1M110 151.5h1M115 151.5h1M118 151.5h1M120 151.5h3M126 151.5h1M138 151.5h1M140 151.5h4M145 151.5h3M149 151.5h6M157 151.5h3M161 151.5h4M166 151.5h1M172 151.5h1M174 151.5h2M178 151.5h4M184 151.5h2M189 151.5h3M193 151.5h1M195 151.5h2M198 151.5h1M200 151.5h3M62 152.5h7M70 152.5h2M74 152.5h4M79 152.5h2M82 152.5h5M92 152.5h3M98 152.5h4M103 152.5h2M107 152.5h2M116 152.5h1M118 152.5h4M124 152.5h1M126 152.5h3M130 152.5h2M133 152.5h2M138 152.5h1M141 152.5h1M146 152.5h3M150 152.5h4M155 152.5h4M160 152.5h12M178 152.5h3M182 152.5h3M187 152.5h4M193 152.5h6M204 152.5h1M209 152.5h1M64 153.5h4M70 153.5h6M78 153.5h1M81 153.5h2M84 153.5h1M86 153.5h9M96 153.5h4M101 153.5h3M106 153.5h3M111 153.5h1M118 153.5h1M121 153.5h1M125 153.5h1M128 153.5h3M135 153.5h2M139 153.5h1M142 153.5h3M146 153.5h6M154 153.5h6M161 153.5h7M169 153.5h2M172 153.5h1M175 153.5h4M180 153.5h3M184 153.5h4M189 153.5h3M193 153.5h1M195 153.5h3M199 153.5h2M205 153.5h1M208 153.5h1M210 153.5h1M61 154.5h1M65 154.5h4M70 154.5h5M78 154.5h3M83 154.5h2M86 154.5h2M89 154.5h1M91 154.5h2M94 154.5h4M99 154.5h1M101 154.5h1M104 154.5h6M116 154.5h1M119 154.5h1M121 154.5h4M126 154.5h1M129 154.5h3M136 154.5h1M139 154.5h2M143 154.5h7M151 154.5h1M153 154.5h2M157 154.5h2M160 154.5h3M164 154.5h1M166 154.5h2M169 154.5h2M172 154.5h1M176 154.5h2M182 154.5h1M184 154.5h3M189 154.5h1M191 154.5h3M196 154.5h4M206 154.5h1M63 155.5h3M67 155.5h2M70 155.5h1M72 155.5h2M75 155.5h2M78 155.5h4M84 155.5h11M99 155.5h1M101 155.5h1M106 155.5h2M109 155.5h1M112 155.5h7M120 155.5h1M122 155.5h2M129 155.5h2M133 155.5h2M141 155.5h3M145 155.5h2M148 155.5h11M160 155.5h1M166 155.5h1M168 155.5h11M180 155.5h1M182 155.5h4M188 155.5h1M190 155.5h8M200 155.5h1M204 155.5h1M65 156.5h2M70 156.5h1M74 156.5h1M76 156.5h1M78 156.5h1M80 156.5h1M83 156.5h1M85 156.5h1M89 156.5h1M91 156.5h3M95 156.5h4M101 156.5h1M104 156.5h4M109 156.5h1M112 156.5h1M123 156.5h1M125 156.5h3M130 156.5h2M135 156.5h3M139 156.5h1M143 156.5h2M146 156.5h4M151 156.5h1M153 156.5h1M155 156.5h1M157 156.5h3M163 156.5h2M167 156.5h3M171 156.5h6M178 156.5h4M183 156.5h2M188 156.5h1M190 156.5h5M197 156.5h2M201 156.5h1M64 157.5h1M67 157.5h1M70 157.5h1M72 157.5h8M82 157.5h2M85 157.5h2M88 157.5h6M95 157.5h1M98 157.5h4M103 157.5h2M107 157.5h3M111 157.5h3M116 157.5h2M122 157.5h3M128 157.5h1M132 157.5h1M134 157.5h1M140 157.5h1M142 157.5h1M144 157.5h1M146 157.5h4M152 157.5h2M155 157.5h1M157 157.5h5M164 157.5h2M168 157.5h3M172 157.5h3M176 157.5h5M182 157.5h1M184 157.5h3M188 157.5h2M194 157.5h1M197 157.5h1M66 158.5h1M69 158.5h8M78 158.5h1M80 158.5h4M86 158.5h2M90 158.5h1M92 158.5h4M99 158.5h1M101 158.5h1M103 158.5h1M105 158.5h1M107 158.5h2M110 158.5h5M118 158.5h1M120 158.5h6M128 158.5h2M132 158.5h1M138 158.5h1M140 158.5h2M143 158.5h1M146 158.5h2M150 158.5h10M161 158.5h1M165 158.5h1M170 158.5h1M172 158.5h6M179 158.5h4M184 158.5h3M189 158.5h7M197 158.5h1M67 159.5h6M76 159.5h9M86 159.5h3M90 159.5h4M95 159.5h1M97 159.5h2M100 159.5h2M103 159.5h1M105 159.5h3M109 159.5h6M117 159.5h2M121 159.5h1M123 159.5h1M127 159.5h1M129 159.5h1M131 159.5h2M135 159.5h2M145 159.5h5M151 159.5h1M154 159.5h4M159 159.5h4M164 159.5h1M166 159.5h3M170 159.5h5M176 159.5h5M182 159.5h1M184 159.5h1M186 159.5h2M190 159.5h1M193 159.5h2M70 160.5h1M72 160.5h1M74 160.5h3M78 160.5h6M86 160.5h5M92 160.5h3M96 160.5h2M100 160.5h2M103 160.5h5M110 160.5h3M115 160.5h3M120 160.5h1M122 160.5h3M126 160.5h1M129 160.5h1M139 160.5h4M144 160.5h1M146 160.5h1M149 160.5h3M153 160.5h7M161 160.5h3M165 160.5h4M170 160.5h1M173 160.5h3M179 160.5h2M182 160.5h4M188 160.5h7M197 160.5h1M61 161.5h1M69 161.5h3M73 161.5h1M75 161.5h1M77 161.5h6M85 161.5h1M87 161.5h1M90 161.5h2M93 161.5h2M96 161.5h2M99 161.5h1M101 161.5h4M106 161.5h2M110 161.5h1M112 161.5h2M115 161.5h1M118 161.5h1M120 161.5h2M123 161.5h1M125 161.5h2M128 161.5h1M130 161.5h2M133 161.5h2M138 161.5h1M143 161.5h1M145 161.5h2M151 161.5h5M157 161.5h3M161 161.5h5M169 161.5h5M175 161.5h1M179 161.5h5M185 161.5h1M187 161.5h2M190 161.5h2M196 161.5h1M62 162.5h1M70 162.5h1M72 162.5h3M76 162.5h7M84 162.5h4M91 162.5h9M101 162.5h2M104 162.5h2M107 162.5h2M110 162.5h1M112 162.5h2M116 162.5h3M121 162.5h1M126 162.5h1M134 162.5h1M139 162.5h1M145 162.5h1M150 162.5h1M152 162.5h2M155 162.5h2M158 162.5h8M167 162.5h2M170 162.5h4M177 162.5h5M184 162.5h1M186 162.5h1M188 162.5h5M203 162.5h1M73 163.5h5M79 163.5h2M82 163.5h1M84 163.5h5M90 163.5h6M98 163.5h2M102 163.5h5M111 163.5h1M114 163.5h1M117 163.5h1M119 163.5h6M133 163.5h1M154 163.5h6M161 163.5h3M165 163.5h2M168 163.5h8M178 163.5h4M184 163.5h1M187 163.5h1M190 163.5h1M72 164.5h2M76 164.5h1M80 164.5h2M83 164.5h8M92 164.5h2M100 164.5h6M108 164.5h1M110 164.5h1M112 164.5h1M114 164.5h3M118 164.5h3M126 164.5h1M128 164.5h1M130 164.5h1M134 164.5h1M138 164.5h1M152 164.5h3M156 164.5h1M158 164.5h1M160 164.5h2M163 164.5h1M166 164.5h5M172 164.5h8M181 164.5h1M183 164.5h2M186 164.5h2M189 164.5h1M193 164.5h1M201 164.5h1M60 165.5h1M72 165.5h1M74 165.5h1M76 165.5h2M80 165.5h5M87 165.5h1M89 165.5h3M94 165.5h4M99 165.5h1M101 165.5h1M103 165.5h1M105 165.5h4M110 165.5h2M114 165.5h1M119 165.5h1M137 165.5h1M156 165.5h1M159 165.5h6M166 165.5h4M173 165.5h4M178 165.5h1M180 165.5h2M183 165.5h5M60 166.5h1M73 166.5h1M76 166.5h7M84 166.5h4M89 166.5h2M92 166.5h3M96 166.5h2M100 166.5h4M105 166.5h4M154 166.5h1M157 166.5h1M159 166.5h2M163 166.5h5M170 166.5h1M172 166.5h2M175 166.5h1M179 166.5h1M181 166.5h3M188 166.5h1M191 166.5h1M61 167.5h1M72 167.5h1M76 167.5h1M78 167.5h1M80 167.5h2M83 167.5h2M86 167.5h1M88 167.5h3M93 167.5h1M95 167.5h3M99 167.5h1M101 167.5h2M104 167.5h1M107 167.5h5M115 167.5h1M150 167.5h1M153 167.5h1M156 167.5h1M158 167.5h10M169 167.5h7M177 167.5h6M184 167.5h3M188 167.5h1M190 167.5h1M198 167.5h2M202 167.5h1M75 168.5h2M80 168.5h2M83 168.5h6M90 168.5h2M95 168.5h8M105 168.5h1M108 168.5h1M142 168.5h1M160 168.5h2M163 168.5h2M166 168.5h2M169 168.5h1M172 168.5h2M175 168.5h1M177 168.5h1M179 168.5h5M185 168.5h1M187 168.5h1M61 169.5h1M79 169.5h2M83 169.5h2M86 169.5h2M89 169.5h1M91 169.5h2M94 169.5h1M96 169.5h1M98 169.5h2M101 169.5h1M103 169.5h1M105 169.5h1M147 169.5h1M159 169.5h3M163 169.5h18M183 169.5h5M201 169.5h2M61 170.5h1M77 170.5h4M83 170.5h1M87 170.5h12M100 170.5h6M107 170.5h1M157 170.5h1M161 170.5h3M167 170.5h1M169 170.5h4M175 170.5h1M177 170.5h3M181 170.5h1M183 170.5h2M61 171.5h1M76 171.5h1M78 171.5h2M83 171.5h1M85 171.5h5M94 171.5h8M160 171.5h2M163 171.5h1M165 171.5h1M167 171.5h8M176 171.5h7M185 171.5h1M201 171.5h1M60 172.5h1M77 172.5h5M83 172.5h1M85 172.5h6M92 172.5h3M97 172.5h1M99 172.5h2M168 172.5h2M171 172.5h1M173 172.5h3M177 172.5h5M183 172.5h1M188 172.5h1M60 173.5h2M81 173.5h3M85 173.5h1M87 173.5h4M92 173.5h6M101 173.5h3M159 173.5h1M166 173.5h1M168 173.5h3M172 173.5h2M175 173.5h6M182 173.5h1M184 173.5h1M79 174.5h1M83 174.5h3M88 174.5h1M90 174.5h4M95 174.5h2M98 174.5h2M161 174.5h1M164 174.5h2M169 174.5h1M171 174.5h5M177 174.5h1M179 174.5h1M186 174.5h1M80 175.5h1M82 175.5h3M86 175.5h1M88 175.5h1M93 175.5h1M95 175.5h6M164 175.5h1M169 175.5h3M174 175.5h1M177 175.5h4M185 175.5h1M197 175.5h1M60 176.5h1M83 176.5h2M86 176.5h2M89 176.5h2M92 176.5h6M99 176.5h2M102 176.5h1M162 176.5h1M166 176.5h7M175 176.5h5M193 176.5h1M60 177.5h1M84 177.5h4M90 177.5h6M97 177.5h3M166 177.5h1M169 177.5h4M175 177.5h1M177 177.5h2M185 177.5h1M60 178.5h1M85 178.5h1M88 178.5h1M92 178.5h1M96 178.5h1M99 178.5h1M166 178.5h1M172 178.5h3M177 178.5h3M182 178.5h1M60 179.5h1M86 179.5h1M88 179.5h3M92 179.5h1M94 179.5h1M96 179.5h2M164 179.5h1M171 179.5h1M173 179.5h1M175 179.5h2M62 180.5h1M84 180.5h1M86 180.5h2M89 180.5h1M91 180.5h2M171 180.5h1M180 180.5h2M185 180.5h1M87 181.5h1M90 181.5h2M170 181.5h2M173 181.5h1M175 181.5h1M177 181.5h2M60 182.5h2M168 183.5h1M174 183.5h1M177 183.5h1M60 184.5h1M60 185.5h2M172 185.5h2M199 185.5h1M60 186.5h1M194 186.5h1M159 187.5h1M162 187.5h1M164 187.5h4M178 187.5h2M182 187.5h2M187 187.5h2M190 187.5h1M194 187.5h1M196 187.5h1M199 187.5h1M162 188.5h2M167 188.5h1M171 188.5h1M180 188.5h1M184 188.5h3M192 188.5h1M194 188.5h1M196 188.5h2M200 188.5h1M159 189.5h1M163 189.5h1M166 189.5h1M180 189.5h1M182 189.5h1M187 189.5h1M200 189.5h1M176 190.5h1M179 190.5h1M187 190.5h1M197 190.5h1M163 191.5h1M170 191.5h1" stroke="#323232" stroke-width="1" fill="none"/></g>
<polygon points="72.0,140.5 107.5,140.5 100.0,167.0 91.0,181.5 82.0,167.0" fill="url(#g0)" opacity="1.0" filter="url(#b1)"/>
<ellipse cx="170.5" cy="157" rx="13" ry="9" transform="rotate(0 170.5 157)" fill="url(#g1)" opacity="0.8" filter="url(#b1)"/>
<g filter="url(#bdot)"><path d="M118 309.5h1M94 311.5h1M98 311.5h1M127 312.5h1M134 312.5h1M169 312.5h1M98 313.5h1M120 313.5h1M137 313.5h1M105 314.5h1M110 314.5h1M114 314.5h1M124 314.5h1M127 314.5h1M129 314.5h2M133 314.5h1M146 314.5h1M176 314.5h1M105 315.5h1M107 315.5h1M110 315.5h1M113 315.5h1M117 315.5h1M120 315.5h1M137 315.5h1M142 315.5h1M146 315.5h1M148 315.5h1M151 315.5h1M155 315.5h1M98 316.5h1M102 316.5h1M105 316.5h1M107 316.5h1M115 316.5h1M119 316.5h1M122 316.5h1M124 316.5h1M126 316.5h1M128 316.5h2M134 316.5h1M138 316.5h1M143 316.5h1M149 316.5h3M153 316.5h1M160 316.5h1M102 317.5h2M105 317.5h1M113 317.5h1M121 317.5h1M125 317.5h2M130 317.5h2M137 317.5h1M151 317.5h1M156 317.5h1M162 317.5h1M166 317.5h1M96 318.5h1M99 318.5h1M101 318.5h3M105 318.5h1M108 318.5h1M120 318.5h1M122 318.5h1M127 318.5h2M130 318.5h1M134 318.5h1M138 318.5h1M150 318.5h2M156 318.5h1M158 318.5h1M174 318.5h1M101 319.5h1M105 319.5h1M108 319.5h1M120 319.5h1M124 319.5h1M137 319.5h1M143 319.5h2M149 319.5h1M152 319.5h1M158 319.5h1M161 319.5h1M164 319.5h1M166 319.5h1M184 319.5h1M97 320.5h1M100 320.5h1M114 320.5h1M116 320.5h2M119 320.5h2M133 320.5h1M137 320.5h2M144 320.5h1M146 320.5h1M148 320.5h1M154 320.5h1M157 320.5h1M164 320.5h1M166 320.5h2M169 320.5h1M97 321.5h1M102 321.5h1M112 321.5h1M118 321.5h1M122 321.5h1M127 321.5h1M129 321.5h1M133 321.5h1M144 321.5h1M146 321.5h2M149 321.5h1M153 321.5h1M159 321.5h1M165 321.5h1M96 322.5h1M101 322.5h1M108 322.5h1M111 322.5h2M115 322.5h1M119 322.5h1M122 322.5h1M129 322.5h1M134 322.5h1M145 322.5h2M150 322.5h1M152 322.5h1M154 322.5h2M161 322.5h1M164 322.5h1M171 322.5h2M175 322.5h1M177 322.5h1M181 322.5h1M107 323.5h1M112 323.5h1M122 323.5h1M127 323.5h1M135 323.5h1M138 323.5h3M146 323.5h1M149 323.5h1M151 323.5h1M154 323.5h1M159 323.5h1M165 323.5h1M181 323.5h1M185 323.5h1M97 324.5h1M99 324.5h1M101 324.5h1M111 324.5h2M117 324.5h1M121 324.5h1M129 324.5h2M135 324.5h1M141 324.5h1M146 324.5h3M154 324.5h1M162 324.5h2M168 324.5h2M174 324.5h1M97 325.5h1M99 325.5h1M105 325.5h1M107 325.5h2M113 325.5h2M116 325.5h2M119 325.5h2M132 325.5h1M137 325.5h2M144 325.5h2M150 325.5h1M157 325.5h2M161 325.5h1M163 325.5h1M172 325.5h1M97 326.5h1M102 326.5h2M106 326.5h2M114 326.5h2M117 326.5h3M122 326.5h1M126 326.5h1M129 326.5h1M139 326.5h1M143 326.5h1M145 326.5h1M151 326.5h1M157 326.5h1M172 326.5h1M96 327.5h1M98 327.5h1M101 327.5h1M104 327.5h1M111 327.5h1M121 327.5h1M128 327.5h1M142 327.5h1M144 327.5h1M147 327.5h1M153 327.5h1M156 327.5h1M165 327.5h1M167 327.5h1M171 327.5h1M177 327.5h1M180 327.5h2M98 328.5h1M101 328.5h1M108 328.5h1M112 328.5h1M117 328.5h1M126 328.5h1M128 328.5h1M134 328.5h1M144 328.5h1M149 328.5h1M156 328.5h1M179 328.5h1M183 328.5h1M95 329.5h1M98 329.5h2M101 329.5h1M110 329.5h1M112 329.5h3M117 329.5h1M127 329.5h1M134 329.5h3M140 329.5h1M147 329.5h1M151 329.5h1M161 329.5h1M104 330.5h1M107 330.5h1M113 330.5h1M117 330.5h1M123 330.5h2M127 330.5h1M131 330.5h1M144 330.5h1M147 330.5h2M151 330.5h1M154 330.5h1M156 330.5h1M161 330.5h1M163 330.5h2M174 330.5h1M180 330.5h1M182 330.5h1M184 330.5h1M101 331.5h1M105 331.5h1M107 331.5h1M109 331.5h1M112 331.5h2M119 331.5h3M126 331.5h1M133 331.5h1M135 331.5h1M137 331.5h2M141 331.5h1M156 331.5h1M158 331.5h1M165 331.5h1M170 331.5h1M99 332.5h1M101 332.5h1M112 332.5h1M115 332.5h2M126 332.5h1M136 332.5h1M142 332.5h2M147 332.5h1M150 332.5h1M152 332.5h1M162 332.5h1M167 332.5h1M170 332.5h1M177 332.5h1M101 333.5h1M105 333.5h1M116 333.5h1M119 333.5h1M133 333.5h1M136 333.5h2M142 333.5h1M144 333.5h3M148 333.5h3M157 333.5h1M159 333.5h1M161 333.5h1M166 333.5h1M177 333.5h1M179 333.5h2M97 334.5h1M101 334.5h1M104 334.5h1M108 334.5h2M121 334.5h1M127 334.5h1M131 334.5h1M133 334.5h1M141 334.5h2M147 334.5h1M153 334.5h2M161 334.5h1M173 334.5h1M183 334.5h1M103 335.5h1M105 335.5h1M108 335.5h1M111 335.5h2M121 335.5h1M135 335.5h1M141 335.5h1M143 335.5h1M161 335.5h1M165 335.5h1M170 335.5h1M176 335.5h1M178 335.5h1M181 335.5h1M97 336.5h1M101 336.5h1M103 336.5h3M110 336.5h1M114 336.5h2M124 336.5h1M127 336.5h1M131 336.5h1M133 336.5h1M138 336.5h1M145 336.5h1M149 336.5h1M155 336.5h1M163 336.5h1M165 336.5h2M174 336.5h1M178 336.5h1M180 336.5h1M97 337.5h1M100 337.5h1M102 337.5h1M105 337.5h1M107 337.5h1M110 337.5h2M113 337.5h1M119 337.5h1M121 337.5h1M129 337.5h2M140 337.5h2M143 337.5h1M156 337.5h1M177 337.5h1M100 338.5h1M102 338.5h1M110 338.5h2M113 338.5h1M117 338.5h1M122 338.5h1M125 338.5h1M130 338.5h2M136 338.5h1M138 338.5h1M142 338.5h1M145 338.5h1M148 338.5h2M163 338.5h1M172 338.5h1M177 338.5h2M187 338.5h1M96 339.5h1M101 339.5h1M103 339.5h1M106 339.5h1M110 339.5h2M114 339.5h1M125 339.5h1M127 339.5h2M130 339.5h2M133 339.5h1M136 339.5h1M138 339.5h1M142 339.5h1M144 339.5h1M157 339.5h1M164 339.5h1M169 339.5h1M172 339.5h1M96 340.5h2M99 340.5h2M108 340.5h2M112 340.5h2M119 340.5h1M124 340.5h1M127 340.5h4M136 340.5h1M141 340.5h1M161 340.5h1M164 340.5h2M168 340.5h2M171 340.5h1M173 340.5h3M178 340.5h1M96 341.5h1M98 341.5h1M100 341.5h1M102 341.5h1M104 341.5h3M113 341.5h1M116 341.5h1M121 341.5h2M126 341.5h2M132 341.5h2M140 341.5h2M149 341.5h1M154 341.5h1M158 341.5h1M161 341.5h2M174 341.5h1M176 341.5h1M180 341.5h1M182 341.5h1M185 341.5h1M192 341.5h1M98 342.5h1M104 342.5h2M107 342.5h2M110 342.5h2M115 342.5h1M118 342.5h2M134 342.5h2M139 342.5h1M141 342.5h1M144 342.5h1M148 342.5h4M153 342.5h1M157 342.5h1M159 342.5h1M164 342.5h1M166 342.5h1M169 342.5h2M174 342.5h2M191 342.5h1M98 343.5h2M101 343.5h1M103 343.5h1M107 343.5h1M109 343.5h1M112 343.5h1M125 343.5h1M128 343.5h1M133 343.5h2M136 343.5h2M145 343.5h2M152 343.5h1M157 343.5h1M164 343.5h1M166 343.5h1M97 344.5h1M101 344.5h1M105 344.5h1M114 344.5h1M118 344.5h1M122 344.5h1M127 344.5h1M134 344.5h1M136 344.5h3M144 344.5h2M149 344.5h1M152 344.5h5M158 344.5h1M172 344.5h4M178 344.5h1M180 344.5h1M95 345.5h3M99 345.5h2M105 345.5h2M110 345.5h1M114 345.5h1M123 345.5h2M130 345.5h1M132 345.5h2M135 345.5h1M140 345.5h1M142 345.5h1M147 345.5h2M151 345.5h3M159 345.5h1M161 345.5h1M165 345.5h1M167 345.5h1M170 345.5h1M184 345.5h1M101 346.5h1M105 346.5h1M109 346.5h1M112 346.5h2M124 346.5h2M140 346.5h1M147 346.5h1M154 346.5h1M159 346.5h1M163 346.5h1M106 347.5h1M108 347.5h1M115 347.5h1M117 347.5h1M124 347.5h1M133 347.5h1M137 347.5h1M141 347.5h1M144 347.5h1M156 347.5h1M160 347.5h1M167 347.5h1M180 347.5h1M96 348.5h1M105 348.5h2M119 348.5h1M123 348.5h1M126 348.5h2M135 348.5h1M140 348.5h2M144 348.5h1M147 348.5h1M150 348.5h1M153 348.5h1M155 348.5h1M157 348.5h2M161 348.5h1M168 348.5h1M172 348.5h1M99 349.5h2M104 349.5h4M112 349.5h1M117 349.5h2M122 349.5h1M130 349.5h1M134 349.5h1M137 349.5h1M148 349.5h1M150 349.5h1M152 349.5h1M158 349.5h1M164 349.5h2M167 349.5h1M169 349.5h1M171 349.5h1M174 349.5h1M177 349.5h1M185 349.5h1M105 350.5h1M118 350.5h1M126 350.5h1M129 350.5h1M133 350.5h2M136 350.5h1M144 350.5h1M173 350.5h1M176 350.5h1M184 350.5h1M99 351.5h1M103 351.5h1M107 351.5h2M110 351.5h1M116 351.5h2M119 351.5h1M124 351.5h2M138 351.5h1M142 351.5h1M144 351.5h1M146 351.5h1M152 351.5h1M154 351.5h1M168 351.5h1M171 351.5h2M95 352.5h1M97 352.5h1M104 352.5h1M106 352.5h1M112 352.5h1M117 352.5h2M125 352.5h2M133 352.5h1M135 352.5h1M138 352.5h1M142 352.5h1M145 352.5h1M155 352.5h1M163 352.5h1M167 352.5h1M176 352.5h1M187 352.5h1M98 353.5h1M103 353.5h1M108 353.5h1M111 353.5h1M116 353.5h2M122 353.5h1M132 353.5h1M136 353.5h1M144 353.5h1M147 353.5h1M151 353.5h3M158 353.5h1M166 353.5h1M168 353.5h2M171 353.5h1M173 353.5h1M95 354.5h1M97 354.5h1M99 354.5h1M104 354.5h2M113 354.5h2M124 354.5h1M128 354.5h1M132 354.5h1M135 354.5h1M149 354.5h1M155 354.5h1M157 354.5h1M163 354.5h1M171 354.5h1M99 355.5h1M102 355.5h1M105 355.5h1M114 355.5h1M116 355.5h1M119 355.5h1M128 355.5h1M137 355.5h2M146 355.5h1M151 355.5h1M154 355.5h1M156 355.5h2M159 355.5h4M166 355.5h1M92 356.5h1M95 356.5h1M100 356.5h1M102 356.5h1M104 356.5h1M109 356.5h1M135 356.5h1M138 356.5h2M156 356.5h2M162 356.5h1M177 356.5h1M93 357.5h2M98 357.5h1M103 357.5h2M109 357.5h1M112 357.5h1M114 357.5h1M117 357.5h1M123 357.5h1M138 357.5h1M150 357.5h1M157 357.5h1M95 358.5h1M97 358.5h2M105 358.5h1M108 358.5h1M110 358.5h4M124 358.5h1M131 358.5h1M149 358.5h1M157 358.5h1M159 358.5h1M95 359.5h1M97 359.5h1M101 359.5h1M103 359.5h1M105 359.5h3M112 359.5h1M115 359.5h1M120 359.5h1M95 360.5h1M99 360.5h1M105 360.5h1M109 360.5h2M112 360.5h1M135 360.5h1M94 361.5h1M97 361.5h1M101 361.5h1M105 361.5h2M108 361.5h1M113 361.5h1M117 361.5h1M121 361.5h1M144 361.5h1M161 361.5h2M168 361.5h1M91 362.5h1M98 362.5h1M104 362.5h1M107 362.5h1M92 363.5h1M94 363.5h1M101 363.5h1M103 363.5h4M116 363.5h1M136 363.5h1M143 363.5h1M145 363.5h1M149 363.5h1M162 363.5h1M176 363.5h1M182 363.5h1M102 364.5h1M105 364.5h1M121 364.5h1M129 364.5h1M131 364.5h1M136 364.5h1M144 364.5h1M155 364.5h1M91 365.5h2M98 365.5h2M101 365.5h1M133 365.5h1M138 365.5h1M97 366.5h2M101 366.5h2M104 366.5h1M131 366.5h2M171 366.5h1M94 367.5h1M96 367.5h1M98 367.5h3M105 367.5h1M119 367.5h1M102 368.5h2M141 368.5h2M146 368.5h1M171 368.5h1M90 369.5h2M95 369.5h2M102 369.5h1M134 369.5h1M168 369.5h1M87 370.5h2M90 370.5h2M93 370.5h1M90 371.5h2M94 371.5h1M98 371.5h1M101 371.5h1M123 371.5h1M126 371.5h1M140 371.5h1M88 372.5h1M92 372.5h2M98 372.5h1M92 373.5h2M97 373.5h1M100 373.5h1M93 374.5h1M96 374.5h2M102 374.5h1M98 375.5h1M133 375.5h1M91 376.5h1M133 376.5h1" stroke="#6a6a6a" stroke-width="1" fill="none"/><path d="M110 309.5h1M133 309.5h2M108 310.5h1M140 310.5h1M153 310.5h1M173 310.5h1M153 311.5h1M138 312.5h1M149 312.5h1M168 312.5h1M97 313.5h1M105 313.5h1M117 313.5h2M122 313.5h1M156 313.5h1M159 313.5h1M162 313.5h1M103 314.5h1M115 314.5h3M119 314.5h1M123 314.5h1M128 314.5h1M131 314.5h1M134 314.5h1M136 314.5h5M144 314.5h1M148 314.5h2M152 314.5h1M154 314.5h1M165 314.5h1M108 315.5h2M112 315.5h1M114 315.5h3M119 315.5h1M122 315.5h1M124 315.5h2M128 315.5h1M130 315.5h1M132 315.5h1M134 315.5h1M139 315.5h2M143 315.5h3M147 315.5h1M153 315.5h2M156 315.5h1M163 315.5h1M171 315.5h1M100 316.5h1M104 316.5h1M106 316.5h1M108 316.5h7M116 316.5h3M120 316.5h1M125 316.5h1M127 316.5h1M130 316.5h3M135 316.5h3M141 316.5h1M144 316.5h1M146 316.5h3M152 316.5h1M155 316.5h1M158 316.5h2M97 317.5h2M100 317.5h2M104 317.5h1M106 317.5h3M111 317.5h1M114 317.5h7M122 317.5h1M124 317.5h1M127 317.5h2M132 317.5h2M138 317.5h1M140 317.5h1M142 317.5h5M148 317.5h3M152 317.5h1M154 317.5h1M158 317.5h1M160 317.5h1M164 317.5h1M169 317.5h1M179 317.5h1M97 318.5h2M104 318.5h1M106 318.5h2M109 318.5h4M115 318.5h5M121 318.5h1M124 318.5h3M129 318.5h1M131 318.5h3M135 318.5h3M139 318.5h1M141 318.5h1M143 318.5h7M152 318.5h2M155 318.5h1M157 318.5h1M159 318.5h2M163 318.5h1M169 318.5h1M171 318.5h1M181 318.5h1M96 319.5h1M98 319.5h1M100 319.5h1M102 319.5h3M106 319.5h2M109 319.5h2M112 319.5h2M115 319.5h5M121 319.5h3M125 319.5h8M134 319.5h3M138 319.5h2M142 319.5h1M145 319.5h3M150 319.5h2M154 319.5h1M156 319.5h2M159 319.5h1M163 319.5h1M165 319.5h1M167 319.5h1M169 319.5h1M179 319.5h1M98 320.5h1M101 320.5h9M111 320.5h1M115 320.5h1M118 320.5h1M121 320.5h1M123 320.5h4M128 320.5h3M132 320.5h1M134 320.5h3M140 320.5h2M143 320.5h1M147 320.5h1M149 320.5h1M152 320.5h2M156 320.5h1M158 320.5h2M161 320.5h3M165 320.5h1M168 320.5h1M170 320.5h1M173 320.5h1M176 320.5h1M98 321.5h4M104 321.5h8M113 321.5h5M119 321.5h2M124 321.5h3M128 321.5h1M130 321.5h3M134 321.5h7M142 321.5h2M145 321.5h1M148 321.5h1M150 321.5h3M154 321.5h1M157 321.5h2M160 321.5h4M166 321.5h1M169 321.5h2M173 321.5h2M177 321.5h1M97 322.5h4M102 322.5h1M104 322.5h4M109 322.5h2M113 322.5h1M116 322.5h3M120 322.5h2M123 322.5h6M130 322.5h4M136 322.5h9M147 322.5h1M149 322.5h1M151 322.5h1M153 322.5h1M157 322.5h4M163 322.5h1M165 322.5h5M176 322.5h1M178 322.5h1M98 323.5h8M108 323.5h2M111 323.5h1M113 323.5h2M116 323.5h6M123 323.5h1M126 323.5h1M128 323.5h4M133 323.5h2M136 323.5h1M141 323.5h4M147 323.5h1M150 323.5h1M152 323.5h2M156 323.5h3M160 323.5h1M162 323.5h1M166 323.5h4M172 323.5h2M176 323.5h2M179 323.5h1M96 324.5h1M100 324.5h1M102 324.5h6M109 324.5h1M113 324.5h4M118 324.5h3M123 324.5h4M128 324.5h1M131 324.5h4M136 324.5h2M139 324.5h1M142 324.5h1M144 324.5h2M149 324.5h4M155 324.5h7M164 324.5h1M166 324.5h2M170 324.5h1M177 324.5h1M180 324.5h1M184 324.5h1M94 325.5h3M98 325.5h1M101 325.5h4M106 325.5h1M109 325.5h1M112 325.5h1M115 325.5h1M118 325.5h1M121 325.5h7M129 325.5h3M133 325.5h4M139 325.5h5M146 325.5h4M151 325.5h4M156 325.5h1M159 325.5h2M164 325.5h2M167 325.5h5M175 325.5h3M179 325.5h1M183 325.5h1M93 326.5h1M96 326.5h1M99 326.5h3M105 326.5h1M108 326.5h1M110 326.5h1M113 326.5h1M116 326.5h1M120 326.5h1M124 326.5h2M127 326.5h2M130 326.5h1M132 326.5h3M137 326.5h2M140 326.5h2M144 326.5h1M147 326.5h3M152 326.5h5M159 326.5h5M165 326.5h2M173 326.5h2M176 326.5h7M184 326.5h1M99 327.5h2M102 327.5h1M105 327.5h1M109 327.5h2M112 327.5h7M120 327.5h1M122 327.5h6M129 327.5h13M143 327.5h1M145 327.5h1M150 327.5h1M152 327.5h1M154 327.5h1M160 327.5h3M164 327.5h1M173 327.5h1M175 327.5h2M178 327.5h1M100 328.5h1M102 328.5h1M104 328.5h1M107 328.5h1M109 328.5h2M113 328.5h4M120 328.5h2M124 328.5h2M127 328.5h1M129 328.5h3M133 328.5h1M135 328.5h9M145 328.5h2M148 328.5h1M150 328.5h6M157 328.5h1M159 328.5h1M163 328.5h2M166 328.5h4M171 328.5h6M182 328.5h1M185 328.5h1M96 329.5h2M100 329.5h1M102 329.5h4M107 329.5h1M109 329.5h1M115 329.5h2M118 329.5h3M122 329.5h5M128 329.5h6M137 329.5h1M139 329.5h1M141 329.5h1M143 329.5h3M149 329.5h2M153 329.5h2M156 329.5h1M158 329.5h3M164 329.5h1M167 329.5h3M171 329.5h2M174 329.5h1M176 329.5h2M179 329.5h1M183 329.5h1M186 329.5h1M96 330.5h1M100 330.5h4M105 330.5h2M108 330.5h1M110 330.5h3M114 330.5h2M119 330.5h1M126 330.5h1M128 330.5h3M132 330.5h4M137 330.5h1M139 330.5h1M141 330.5h3M145 330.5h2M149 330.5h2M152 330.5h2M155 330.5h1M157 330.5h1M159 330.5h1M162 330.5h1M165 330.5h3M169 330.5h2M173 330.5h1M175 330.5h1M177 330.5h2M181 330.5h1M185 330.5h1M96 331.5h1M99 331.5h2M102 331.5h1M104 331.5h1M106 331.5h1M108 331.5h1M110 331.5h2M116 331.5h3M122 331.5h1M124 331.5h2M127 331.5h2M130 331.5h3M134 331.5h1M136 331.5h1M139 331.5h2M142 331.5h5M148 331.5h8M157 331.5h1M159 331.5h2M162 331.5h2M166 331.5h1M168 331.5h1M171 331.5h1M175 331.5h1M179 331.5h3M183 331.5h1M188 331.5h1M94 332.5h1M97 332.5h1M100 332.5h1M102 332.5h3M106 332.5h2M109 332.5h3M114 332.5h1M117 332.5h4M122 332.5h2M125 332.5h1M128 332.5h1M131 332.5h1M133 332.5h1M135 332.5h1M137 332.5h3M141 332.5h1M144 332.5h3M148 332.5h2M154 332.5h1M156 332.5h6M163 332.5h1M169 332.5h1M174 332.5h1M176 332.5h1M178 332.5h3M182 332.5h2M97 333.5h4M102 333.5h3M107 333.5h8M117 333.5h1M120 333.5h3M124 333.5h1M126 333.5h4M131 333.5h2M134 333.5h2M139 333.5h3M143 333.5h1M147 333.5h1M151 333.5h4M156 333.5h1M158 333.5h1M160 333.5h1M163 333.5h3M170 333.5h4M178 333.5h1M181 333.5h1M183 333.5h1M96 334.5h1M99 334.5h1M102 334.5h2M105 334.5h1M107 334.5h1M112 334.5h1M114 334.5h5M120 334.5h1M122 334.5h1M125 334.5h2M128 334.5h3M134 334.5h5M140 334.5h1M143 334.5h1M145 334.5h1M148 334.5h4M155 334.5h2M158 334.5h3M162 334.5h2M165 334.5h1M167 334.5h2M170 334.5h3M174 334.5h1M178 334.5h2M181 334.5h2M97 335.5h2M100 335.5h3M104 335.5h1M110 335.5h1M113 335.5h5M119 335.5h2M122 335.5h1M124 335.5h1M126 335.5h1M128 335.5h3M132 335.5h1M136 335.5h5M142 335.5h1M144 335.5h5M150 335.5h4M155 335.5h3M160 335.5h1M162 335.5h3M166 335.5h4M172 335.5h2M175 335.5h1M177 335.5h1M179 335.5h1M184 335.5h1M186 335.5h1M96 336.5h1M98 336.5h3M102 336.5h1M106 336.5h4M112 336.5h2M116 336.5h4M122 336.5h1M126 336.5h1M130 336.5h1M132 336.5h1M134 336.5h4M140 336.5h4M146 336.5h3M150 336.5h5M156 336.5h3M160 336.5h1M164 336.5h1M167 336.5h2M170 336.5h3M175 336.5h1M177 336.5h1M181 336.5h1M183 336.5h1M185 336.5h3M98 337.5h2M101 337.5h1M104 337.5h1M106 337.5h1M108 337.5h2M115 337.5h4M120 337.5h1M122 337.5h7M131 337.5h1M133 337.5h3M138 337.5h2M142 337.5h1M144 337.5h8M153 337.5h3M157 337.5h1M160 337.5h1M162 337.5h2M165 337.5h2M171 337.5h1M175 337.5h1M179 337.5h3M183 337.5h1M185 337.5h1M97 338.5h2M103 338.5h1M106 338.5h4M112 338.5h1M115 338.5h2M118 338.5h4M123 338.5h1M126 338.5h4M133 338.5h3M137 338.5h1M139 338.5h2M143 338.5h2M147 338.5h1M151 338.5h5M157 338.5h6M164 338.5h3M168 338.5h4M173 338.5h1M175 338.5h1M179 338.5h4M190 338.5h1M95 339.5h1M97 339.5h4M104 339.5h2M107 339.5h3M112 339.5h2M115 339.5h6M122 339.5h3M126 339.5h1M129 339.5h1M135 339.5h1M137 339.5h1M139 339.5h3M143 339.5h1M145 339.5h2M148 339.5h9M160 339.5h3M165 339.5h2M168 339.5h1M170 339.5h2M174 339.5h4M181 339.5h1M184 339.5h1M189 339.5h1M98 340.5h1M101 340.5h5M111 340.5h1M114 340.5h5M120 340.5h2M123 340.5h1M126 340.5h1M131 340.5h1M134 340.5h2M137 340.5h1M140 340.5h1M142 340.5h5M148 340.5h8M159 340.5h2M163 340.5h1M166 340.5h2M170 340.5h1M176 340.5h1M180 340.5h1M184 340.5h1M186 340.5h1M97 341.5h1M99 341.5h1M108 341.5h5M115 341.5h1M117 341.5h4M123 341.5h3M128 341.5h4M135 341.5h1M138 341.5h1M142 341.5h6M151 341.5h1M153 341.5h1M159 341.5h2M163 341.5h3M167 341.5h5M175 341.5h1M177 341.5h2M184 341.5h1M186 341.5h1M96 342.5h1M99 342.5h2M102 342.5h2M109 342.5h1M114 342.5h1M117 342.5h1M120 342.5h11M132 342.5h1M136 342.5h2M142 342.5h2M145 342.5h3M152 342.5h1M154 342.5h3M158 342.5h1M160 342.5h2M163 342.5h1M165 342.5h1M167 342.5h1M171 342.5h1M173 342.5h1M176 342.5h1M181 342.5h4M96 343.5h2M102 343.5h1M104 343.5h3M108 343.5h1M111 343.5h1M113 343.5h1M115 343.5h1M117 343.5h2M120 343.5h2M123 343.5h2M126 343.5h2M129 343.5h4M135 343.5h1M139 343.5h1M141 343.5h4M148 343.5h1M151 343.5h1M153 343.5h2M156 343.5h1M158 343.5h3M162 343.5h2M165 343.5h1M169 343.5h2M172 343.5h2M176 343.5h4M183 343.5h1M187 343.5h1M96 344.5h1M99 344.5h2M102 344.5h3M108 344.5h5M115 344.5h1M117 344.5h1M120 344.5h2M124 344.5h1M128 344.5h1M130 344.5h2M133 344.5h1M135 344.5h1M139 344.5h1M141 344.5h1M143 344.5h1M146 344.5h3M150 344.5h1M159 344.5h2M165 344.5h2M169 344.5h3M176 344.5h2M184 344.5h1M188 344.5h1M98 345.5h1M101 345.5h4M107 345.5h2M112 345.5h2M116 345.5h4M121 345.5h1M125 345.5h3M129 345.5h1M131 345.5h1M134 345.5h1M136 345.5h1M144 345.5h1M146 345.5h1M149 345.5h2M154 345.5h1M156 345.5h1M158 345.5h1M160 345.5h1M162 345.5h1M166 345.5h1M169 345.5h1M171 345.5h1M174 345.5h4M179 345.5h1M185 345.5h1M95 346.5h1M97 346.5h3M103 346.5h2M106 346.5h3M110 346.5h1M114 346.5h6M121 346.5h2M126 346.5h3M130 346.5h8M139 346.5h1M141 346.5h6M148 346.5h3M152 346.5h1M155 346.5h1M157 346.5h2M160 346.5h1M162 346.5h1M166 346.5h1M168 346.5h1M170 346.5h2M176 346.5h1M179 346.5h1M184 346.5h1M95 347.5h1M97 347.5h1M100 347.5h6M107 347.5h1M109 347.5h6M116 347.5h1M118 347.5h2M121 347.5h2M125 347.5h1M127 347.5h4M132 347.5h1M135 347.5h2M138 347.5h3M142 347.5h2M147 347.5h6M154 347.5h2M157 347.5h1M159 347.5h1M163 347.5h3M171 347.5h1M174 347.5h2M177 347.5h3M97 348.5h8M107 348.5h2M111 348.5h2M114 348.5h5M120 348.5h3M125 348.5h1M129 348.5h6M136 348.5h4M142 348.5h2M148 348.5h2M159 348.5h1M163 348.5h4M169 348.5h1M174 348.5h1M176 348.5h2M181 348.5h1M184 348.5h1M189 348.5h1M95 349.5h1M97 349.5h1M103 349.5h1M108 349.5h4M113 349.5h4M119 349.5h2M123 349.5h7M131 349.5h3M135 349.5h2M138 349.5h2M141 349.5h7M153 349.5h4M161 349.5h1M163 349.5h1M168 349.5h1M170 349.5h1M172 349.5h1M175 349.5h2M178 349.5h2M181 349.5h2M97 350.5h7M106 350.5h5M112 350.5h6M119 350.5h4M124 350.5h2M127 350.5h2M130 350.5h3M135 350.5h1M137 350.5h2M141 350.5h3M145 350.5h1M147 350.5h6M154 350.5h2M157 350.5h3M161 350.5h4M166 350.5h1M168 350.5h1M170 350.5h3M174 350.5h1M178 350.5h4M185 350.5h1M190 350.5h1M100 351.5h1M102 351.5h1M105 351.5h2M109 351.5h1M111 351.5h2M114 351.5h2M118 351.5h1M120 351.5h1M122 351.5h1M126 351.5h12M139 351.5h2M143 351.5h1M145 351.5h1M147 351.5h3M155 351.5h3M159 351.5h1M161 351.5h5M167 351.5h1M169 351.5h1M173 351.5h2M176 351.5h1M178 351.5h1M185 351.5h1M96 352.5h1M98 352.5h1M100 352.5h4M105 352.5h1M107 352.5h5M114 352.5h3M121 352.5h2M124 352.5h1M127 352.5h1M129 352.5h4M134 352.5h1M136 352.5h2M140 352.5h2M143 352.5h1M146 352.5h1M148 352.5h3M152 352.5h2M156 352.5h4M161 352.5h2M164 352.5h2M169 352.5h6M177 352.5h1M179 352.5h1M185 352.5h1M94 353.5h1M97 353.5h1M99 353.5h4M104 353.5h4M109 353.5h2M112 353.5h4M118 353.5h1M121 353.5h1M123 353.5h1M125 353.5h1M127 353.5h5M133 353.5h2M139 353.5h5M146 353.5h1M148 353.5h3M155 353.5h2M161 353.5h2M167 353.5h1M172 353.5h1M176 353.5h3M181 353.5h1M183 353.5h1M94 354.5h1M98 354.5h1M100 354.5h4M106 354.5h7M116 354.5h1M118 354.5h4M127 354.5h1M129 354.5h2M136 354.5h5M142 354.5h4M147 354.5h1M150 354.5h4M156 354.5h1M158 354.5h2M161 354.5h1M164 354.5h2M167 354.5h2M172 354.5h1M176 354.5h1M189 354.5h1M95 355.5h2M98 355.5h1M100 355.5h2M103 355.5h2M106 355.5h1M108 355.5h6M117 355.5h2M120 355.5h1M123 355.5h2M126 355.5h1M131 355.5h1M135 355.5h2M139 355.5h1M148 355.5h1M150 355.5h1M152 355.5h1M155 355.5h1M158 355.5h1M165 355.5h1M167 355.5h2M170 355.5h1M173 355.5h1M96 356.5h4M101 356.5h1M103 356.5h1M105 356.5h4M110 356.5h4M117 356.5h1M120 356.5h2M125 356.5h3M132 356.5h1M134 356.5h1M136 356.5h2M143 356.5h1M148 356.5h1M150 356.5h1M154 356.5h1M158 356.5h1M164 356.5h4M170 356.5h3M185 356.5h1M92 357.5h1M95 357.5h3M99 357.5h1M101 357.5h2M105 357.5h4M110 357.5h2M113 357.5h1M115 357.5h1M118 357.5h2M121 357.5h1M135 357.5h1M139 357.5h1M149 357.5h1M151 357.5h1M154 357.5h1M156 357.5h1M160 357.5h1M163 357.5h1M165 357.5h2M168 357.5h4M174 357.5h1M185 357.5h1M94 358.5h1M96 358.5h1M99 358.5h2M102 358.5h3M106 358.5h2M109 358.5h1M114 358.5h2M123 358.5h1M139 358.5h1M141 358.5h1M169 358.5h1M172 358.5h1M176 358.5h1M183 358.5h1M94 359.5h1M98 359.5h3M102 359.5h1M104 359.5h1M108 359.5h4M114 359.5h1M117 359.5h1M119 359.5h1M121 359.5h1M127 359.5h1M132 359.5h1M170 359.5h1M181 359.5h1M92 360.5h3M96 360.5h3M100 360.5h1M102 360.5h3M106 360.5h2M113 360.5h1M119 360.5h1M131 360.5h1M145 360.5h1M149 360.5h1M153 360.5h1M164 360.5h1M189 360.5h1M95 361.5h2M99 361.5h2M102 361.5h3M109 361.5h2M123 361.5h2M126 361.5h1M159 361.5h1M171 361.5h1M180 361.5h1M93 362.5h5M99 362.5h1M101 362.5h3M105 362.5h2M108 362.5h2M111 362.5h1M121 362.5h1M130 362.5h1M136 362.5h1M143 362.5h1M147 362.5h1M152 362.5h1M157 362.5h1M177 362.5h1M93 363.5h1M95 363.5h2M98 363.5h3M102 363.5h1M107 363.5h1M112 363.5h1M117 363.5h1M126 363.5h1M130 363.5h1M148 363.5h1M157 363.5h1M167 363.5h1M174 363.5h1M180 363.5h1M91 364.5h11M103 364.5h2M106 364.5h3M113 364.5h1M115 364.5h1M132 364.5h1M142 364.5h1M149 364.5h1M154 364.5h1M157 364.5h2M162 364.5h1M171 364.5h1M90 365.5h1M93 365.5h5M100 365.5h1M102 365.5h1M104 365.5h3M116 365.5h1M120 365.5h2M127 365.5h1M130 365.5h1M132 365.5h1M152 365.5h1M162 365.5h1M167 365.5h3M89 366.5h1M91 366.5h1M93 366.5h4M99 366.5h2M103 366.5h1M105 366.5h2M123 366.5h1M136 366.5h1M158 366.5h2M164 366.5h1M91 367.5h3M95 367.5h1M97 367.5h1M101 367.5h4M106 367.5h1M116 367.5h1M118 367.5h1M171 367.5h1M90 368.5h12M104 368.5h1M106 368.5h1M115 368.5h1M117 368.5h1M119 368.5h1M121 368.5h1M123 368.5h1M130 368.5h1M133 368.5h1M139 368.5h1M165 368.5h1M88 369.5h2M92 369.5h3M97 369.5h5M103 369.5h2M123 369.5h2M127 369.5h2M139 369.5h1M148 369.5h1M155 369.5h1M159 369.5h1M163 369.5h1M172 369.5h1M89 370.5h1M92 370.5h1M94 370.5h10M143 370.5h1M155 370.5h1M89 371.5h1M92 371.5h1M95 371.5h3M100 371.5h1M102 371.5h2M146 371.5h1M153 371.5h1M165 371.5h1M91 372.5h1M94 372.5h1M96 372.5h2M99 372.5h2M102 372.5h1M134 372.5h1M160 372.5h1M91 373.5h1M94 373.5h3M98 373.5h2M101 373.5h1M135 373.5h1M137 373.5h1M159 373.5h1M90 374.5h3M94 374.5h2M99 374.5h2M136 374.5h1M88 375.5h1M92 375.5h5M161 375.5h1M94 376.5h1M96 376.5h1M98 376.5h1M129 378.5h1" stroke="#323232" stroke-width="1" fill="none"/></g>
<ellipse cx="108.5" cy="333.5" rx="9.5" ry="23" transform="rotate(0 108.5 333.5)" fill="url(#g2)" opacity="0.9" filter="url(#b1)"/>
<ellipse cx="102.8" cy="364.2" rx="13.5" ry="5" transform="rotate(-50 102.8 364.2)" fill="url(#g3)" opacity="1.0" filter="url(#b1)"/>
<g filter="url(#bdot)"><path d="M127 498.5h1M137 498.5h1M122 500.5h1M145 502.5h1M113 503.5h1M124 503.5h1M112 504.5h1M117 504.5h1M129 504.5h1M135 504.5h1M138 504.5h1M98 505.5h1M107 505.5h2M117 505.5h1M120 505.5h1M100 506.5h1M107 506.5h2M117 506.5h1M119 506.5h1M121 506.5h1M127 506.5h1M93 507.5h1M100 507.5h1M106 507.5h1M113 507.5h1M117 507.5h1M119 507.5h1M127 507.5h3M141 507.5h1M106 508.5h1M111 508.5h1M118 508.5h4M131 508.5h1M133 508.5h1M136 508.5h1M145 508.5h1M151 508.5h1M153 508.5h1M93 509.5h1M99 509.5h3M104 509.5h1M111 509.5h2M124 509.5h2M131 509.5h3M136 509.5h1M141 509.5h2M146 509.5h1M150 509.5h1M156 509.5h1M160 509.5h1M171 509.5h1M97 510.5h1M101 510.5h1M107 510.5h1M110 510.5h1M118 510.5h1M125 510.5h2M131 510.5h1M139 510.5h1M145 510.5h1M148 510.5h1M150 510.5h1M154 510.5h1M156 510.5h1M96 511.5h1M102 511.5h1M112 511.5h1M123 511.5h1M127 511.5h1M137 511.5h2M140 511.5h1M142 511.5h1M145 511.5h1M161 511.5h1M172 511.5h1M96 512.5h1M99 512.5h1M101 512.5h1M106 512.5h2M109 512.5h1M118 512.5h1M123 512.5h1M137 512.5h1M142 512.5h1M144 512.5h3M155 512.5h1M165 512.5h1M100 513.5h3M104 513.5h1M106 513.5h1M109 513.5h1M113 513.5h1M119 513.5h1M130 513.5h1M136 513.5h1M140 513.5h1M142 513.5h1M144 513.5h2M148 513.5h1M150 513.5h1M154 513.5h1M97 514.5h1M101 514.5h1M106 514.5h1M110 514.5h1M114 514.5h1M121 514.5h1M124 514.5h1M126 514.5h1M141 514.5h1M146 514.5h2M153 514.5h1M162 514.5h2M98 515.5h1M100 515.5h1M104 515.5h1M112 515.5h1M123 515.5h1M125 515.5h1M127 515.5h1M130 515.5h3M139 515.5h1M142 515.5h2M147 515.5h1M151 515.5h3M160 515.5h1M167 515.5h1M100 516.5h1M105 516.5h4M118 516.5h1M124 516.5h1M126 516.5h2M130 516.5h1M133 516.5h3M137 516.5h1M141 516.5h1M145 516.5h1M154 516.5h1M158 516.5h2M173 516.5h1M105 517.5h2M112 517.5h1M117 517.5h1M121 517.5h1M128 517.5h1M131 517.5h1M133 517.5h1M149 517.5h1M162 517.5h3M105 518.5h1M112 518.5h3M118 518.5h2M125 518.5h1M134 518.5h1M143 518.5h1M148 518.5h2M162 518.5h2M166 518.5h1M174 518.5h1M97 519.5h1M101 519.5h2M104 519.5h1M107 519.5h1M117 519.5h2M120 519.5h2M127 519.5h1M133 519.5h1M137 519.5h1M142 519.5h1M146 519.5h1M172 519.5h2M99 520.5h3M106 520.5h1M114 520.5h1M117 520.5h1M133 520.5h2M136 520.5h1M145 520.5h1M147 520.5h2M151 520.5h1M154 520.5h1M164 520.5h1M171 520.5h1M103 521.5h1M114 521.5h1M117 521.5h1M120 521.5h1M124 521.5h1M126 521.5h1M130 521.5h1M134 521.5h1M137 521.5h1M140 521.5h1M142 521.5h1M147 521.5h1M152 521.5h2M157 521.5h1M159 521.5h2M168 521.5h1M174 521.5h1M96 522.5h1M98 522.5h2M108 522.5h1M111 522.5h1M114 522.5h2M119 522.5h3M123 522.5h1M125 522.5h1M132 522.5h1M134 522.5h1M140 522.5h1M144 522.5h1M150 522.5h1M154 522.5h1M160 522.5h1M164 522.5h3M96 523.5h1M99 523.5h1M110 523.5h2M118 523.5h1M125 523.5h1M127 523.5h3M132 523.5h1M140 523.5h1M143 523.5h1M154 523.5h2M159 523.5h1M168 523.5h2M180 523.5h1M102 524.5h1M107 524.5h4M113 524.5h2M117 524.5h1M121 524.5h1M131 524.5h1M133 524.5h1M144 524.5h4M149 524.5h1M153 524.5h1M155 524.5h1M157 524.5h1M162 524.5h1M99 525.5h1M102 525.5h3M106 525.5h1M110 525.5h2M113 525.5h1M115 525.5h1M117 525.5h1M119 525.5h3M127 525.5h1M132 525.5h1M139 525.5h1M142 525.5h2M147 525.5h1M149 525.5h1M155 525.5h1M157 525.5h1M160 525.5h1M162 525.5h3M168 525.5h1M171 525.5h1M183 525.5h1M104 526.5h1M116 526.5h1M118 526.5h1M120 526.5h1M123 526.5h1M129 526.5h1M134 526.5h1M137 526.5h1M148 526.5h1M153 526.5h2M157 526.5h2M160 526.5h1M163 526.5h1M165 526.5h1M167 526.5h1M180 526.5h1M188 526.5h1M98 527.5h1M106 527.5h1M109 527.5h2M115 527.5h1M121 527.5h1M138 527.5h1M142 527.5h1M144 527.5h1M146 527.5h1M149 527.5h1M158 527.5h1M162 527.5h1M164 527.5h1M167 527.5h1M169 527.5h1M171 527.5h1M174 527.5h1M177 527.5h1M100 528.5h1M111 528.5h1M113 528.5h2M125 528.5h1M128 528.5h2M137 528.5h1M140 528.5h1M144 528.5h2M149 528.5h1M153 528.5h1M155 528.5h1M161 528.5h1M167 528.5h1M96 529.5h1M99 529.5h1M110 529.5h1M114 529.5h1M118 529.5h1M120 529.5h1M123 529.5h3M134 529.5h1M139 529.5h2M143 529.5h1M145 529.5h1M147 529.5h1M149 529.5h1M153 529.5h1M182 529.5h1M90 530.5h1M94 530.5h1M98 530.5h1M105 530.5h1M115 530.5h1M117 530.5h2M121 530.5h2M133 530.5h1M138 530.5h1M142 530.5h2M145 530.5h1M148 530.5h1M162 530.5h1M164 530.5h1M177 530.5h1M96 531.5h1M100 531.5h1M105 531.5h1M109 531.5h2M112 531.5h3M117 531.5h1M120 531.5h1M122 531.5h1M128 531.5h1M136 531.5h4M147 531.5h1M152 531.5h1M155 531.5h1M161 531.5h1M167 531.5h1M173 531.5h1M178 531.5h1M104 532.5h1M107 532.5h1M110 532.5h2M114 532.5h1M117 532.5h1M119 532.5h1M131 532.5h1M138 532.5h2M152 532.5h1M156 532.5h2M160 532.5h1M163 532.5h1M173 532.5h1M175 532.5h1M98 533.5h1M110 533.5h2M116 533.5h1M122 533.5h1M128 533.5h3M132 533.5h1M134 533.5h2M138 533.5h2M145 533.5h2M159 533.5h1M163 533.5h3M167 533.5h1M169 533.5h3M174 533.5h1M99 534.5h1M110 534.5h1M113 534.5h1M117 534.5h1M119 534.5h1M122 534.5h1M135 534.5h2M139 534.5h1M145 534.5h1M148 534.5h2M156 534.5h1M164 534.5h1M170 534.5h1M104 535.5h1M109 535.5h1M111 535.5h1M117 535.5h1M132 535.5h1M137 535.5h1M139 535.5h2M142 535.5h1M152 535.5h2M158 535.5h1M162 535.5h1M170 535.5h1M174 535.5h1M176 535.5h1M178 535.5h1M94 536.5h1M101 536.5h1M111 536.5h1M113 536.5h1M121 536.5h1M126 536.5h1M128 536.5h1M130 536.5h1M137 536.5h1M140 536.5h1M142 536.5h1M147 536.5h1M151 536.5h1M154 536.5h1M156 536.5h3M161 536.5h1M165 536.5h1M168 536.5h1M171 536.5h2M174 536.5h2M97 537.5h1M113 537.5h1M117 537.5h1M120 537.5h1M123 537.5h2M130 537.5h1M133 537.5h1M135 537.5h1M144 537.5h2M148 537.5h1M160 537.5h1M167 537.5h1M171 537.5h1M110 538.5h1M112 538.5h1M120 538.5h2M129 538.5h1M131 538.5h1M137 538.5h1M139 538.5h2M144 538.5h1M153 538.5h1M173 538.5h1M104 539.5h1M108 539.5h1M110 539.5h1M112 539.5h1M116 539.5h1M119 539.5h1M123 539.5h1M139 539.5h3M143 539.5h1M151 539.5h2M154 539.5h1M157 539.5h1M159 539.5h1M161 539.5h1M164 539.5h1M168 539.5h1M176 539.5h1M97 540.5h2M101 540.5h1M111 540.5h1M129 540.5h1M132 540.5h1M145 540.5h1M149 540.5h1M163 540.5h1M169 540.5h1M98 541.5h1M100 541.5h1M104 541.5h1M107 541.5h1M110 541.5h1M118 541.5h1M123 541.5h1M128 541.5h1M132 541.5h1M135 541.5h1M140 541.5h1M153 541.5h1M157 541.5h1M161 541.5h1M166 541.5h1M174 541.5h1M95 542.5h2M99 542.5h1M102 542.5h1M105 542.5h2M108 542.5h1M111 542.5h1M120 542.5h2M136 542.5h1M149 542.5h1M152 542.5h1M158 542.5h1M164 542.5h1M167 542.5h1M93 543.5h1M99 543.5h1M102 543.5h1M107 543.5h1M109 543.5h1M116 543.5h1M121 543.5h1M126 543.5h1M128 543.5h1M133 543.5h1M138 543.5h1M141 543.5h1M149 543.5h1M157 543.5h1M159 543.5h1M163 543.5h1M171 543.5h1M99 544.5h1M101 544.5h1M109 544.5h1M114 544.5h1M117 544.5h2M130 544.5h1M140 544.5h1M161 544.5h1M168 544.5h1M174 544.5h1M99 545.5h1M102 545.5h2M108 545.5h1M110 545.5h1M115 545.5h1M118 545.5h2M128 545.5h2M134 545.5h1M137 545.5h1M159 545.5h1M101 546.5h1M107 546.5h1M109 546.5h1M112 546.5h1M114 546.5h1M116 546.5h1M118 546.5h1M127 546.5h1M164 546.5h1M97 547.5h1M99 547.5h1M108 547.5h1M111 547.5h1M116 547.5h1M121 547.5h1M147 547.5h1M159 547.5h1M165 547.5h1M95 548.5h1M98 548.5h1M110 548.5h1M114 548.5h1M130 548.5h1M152 548.5h1M162 548.5h1M173 548.5h1M183 548.5h1M117 549.5h1M121 549.5h1M125 549.5h1M94 550.5h2M99 550.5h3M104 550.5h1M106 550.5h1M108 550.5h2M111 550.5h1M98 551.5h1M105 551.5h1M110 551.5h1M121 551.5h1M125 551.5h1M143 551.5h1M95 552.5h3M105 552.5h1M108 552.5h2M111 552.5h1M115 552.5h1M179 552.5h1M182 552.5h1M100 553.5h1M103 553.5h1M112 553.5h1M117 553.5h1M101 554.5h2M104 554.5h1M113 554.5h1M119 554.5h1M121 554.5h1M131 554.5h1M97 555.5h2M101 555.5h2M133 555.5h1M143 555.5h1M154 555.5h1M105 556.5h1M109 556.5h1M114 556.5h1M116 556.5h1M97 557.5h1M101 557.5h1M103 557.5h2M107 557.5h2M112 557.5h1M123 557.5h1M139 557.5h1M143 557.5h1M153 557.5h1M98 558.5h1M100 558.5h1M104 558.5h2M107 558.5h1M119 558.5h1M95 559.5h1M98 559.5h1M114 559.5h1M147 559.5h1M94 560.5h1M97 560.5h1M99 560.5h2M159 560.5h1M93 561.5h1M99 561.5h3M116 561.5h1M91 562.5h2M94 562.5h1M96 562.5h1M99 562.5h1M102 562.5h1M163 562.5h1M170 562.5h1M94 563.5h1M96 563.5h1M98 563.5h1M100 563.5h1M94 564.5h1M97 564.5h1M93 565.5h1" stroke="#6a6a6a" stroke-width="1" fill="none"/><path d="M97 499.5h1M139 499.5h1M113 500.5h1M111 501.5h1M111 502.5h1M118 502.5h1M127 502.5h1M137 502.5h1M100 503.5h2M111 503.5h1M114 503.5h1M118 503.5h1M131 503.5h1M158 503.5h1M113 504.5h1M115 504.5h1M119 504.5h2M122 504.5h2M133 504.5h2M137 504.5h1M141 504.5h1M144 504.5h1M149 504.5h1M155 504.5h1M166 504.5h1M99 505.5h1M103 505.5h1M105 505.5h1M109 505.5h1M111 505.5h2M116 505.5h1M118 505.5h1M122 505.5h2M125 505.5h1M127 505.5h1M132 505.5h1M134 505.5h2M150 505.5h1M101 506.5h6M110 506.5h3M114 506.5h2M118 506.5h1M120 506.5h1M124 506.5h2M130 506.5h1M132 506.5h1M137 506.5h1M141 506.5h1M152 506.5h1M156 506.5h1M159 506.5h1M99 507.5h1M103 507.5h2M107 507.5h1M109 507.5h4M114 507.5h2M118 507.5h1M120 507.5h7M131 507.5h1M133 507.5h3M137 507.5h2M142 507.5h2M148 507.5h1M161 507.5h1M97 508.5h1M99 508.5h1M101 508.5h3M105 508.5h1M107 508.5h4M112 508.5h1M114 508.5h2M117 508.5h1M123 508.5h5M129 508.5h2M132 508.5h1M137 508.5h1M139 508.5h3M144 508.5h1M146 508.5h1M148 508.5h1M150 508.5h1M98 509.5h1M102 509.5h2M105 509.5h4M110 509.5h1M113 509.5h11M126 509.5h5M138 509.5h2M143 509.5h3M147 509.5h1M155 509.5h1M158 509.5h1M98 510.5h3M103 510.5h4M108 510.5h2M111 510.5h6M119 510.5h6M127 510.5h4M132 510.5h3M136 510.5h2M140 510.5h1M142 510.5h2M147 510.5h1M149 510.5h1M98 511.5h1M100 511.5h2M103 511.5h9M113 511.5h1M115 511.5h6M122 511.5h1M124 511.5h3M128 511.5h7M136 511.5h1M139 511.5h1M141 511.5h1M143 511.5h2M146 511.5h2M149 511.5h6M156 511.5h1M158 511.5h1M168 511.5h1M173 511.5h1M95 512.5h1M98 512.5h1M100 512.5h1M103 512.5h3M108 512.5h1M110 512.5h8M119 512.5h4M124 512.5h10M135 512.5h2M138 512.5h3M143 512.5h1M147 512.5h8M156 512.5h1M158 512.5h1M164 512.5h1M96 513.5h1M98 513.5h2M105 513.5h1M107 513.5h2M111 513.5h2M114 513.5h3M118 513.5h1M120 513.5h10M131 513.5h5M137 513.5h1M139 513.5h1M141 513.5h1M143 513.5h1M146 513.5h2M149 513.5h1M151 513.5h1M153 513.5h1M156 513.5h1M158 513.5h1M160 513.5h2M164 513.5h1M174 513.5h1M177 513.5h1M96 514.5h1M98 514.5h3M103 514.5h1M111 514.5h3M115 514.5h6M122 514.5h2M125 514.5h1M127 514.5h6M134 514.5h1M136 514.5h5M142 514.5h2M145 514.5h1M148 514.5h5M154 514.5h2M157 514.5h3M165 514.5h1M169 514.5h1M96 515.5h2M99 515.5h1M102 515.5h2M105 515.5h7M113 515.5h10M124 515.5h1M126 515.5h1M128 515.5h2M133 515.5h1M135 515.5h1M138 515.5h1M140 515.5h2M144 515.5h3M148 515.5h3M155 515.5h2M159 515.5h1M165 515.5h1M97 516.5h2M101 516.5h2M104 516.5h1M109 516.5h2M112 516.5h4M117 516.5h1M119 516.5h3M123 516.5h1M125 516.5h1M128 516.5h2M131 516.5h1M136 516.5h1M140 516.5h1M143 516.5h1M146 516.5h3M150 516.5h4M155 516.5h1M160 516.5h1M162 516.5h1M164 516.5h5M170 516.5h1M96 517.5h2M99 517.5h3M104 517.5h1M107 517.5h3M111 517.5h1M113 517.5h4M118 517.5h1M120 517.5h1M122 517.5h3M126 517.5h2M129 517.5h1M132 517.5h1M136 517.5h12M150 517.5h3M154 517.5h1M156 517.5h3M167 517.5h2M177 517.5h1M93 518.5h1M97 518.5h2M100 518.5h1M103 518.5h2M106 518.5h4M111 518.5h1M115 518.5h3M120 518.5h1M122 518.5h3M128 518.5h4M136 518.5h1M138 518.5h5M144 518.5h2M150 518.5h2M153 518.5h5M159 518.5h2M164 518.5h2M170 518.5h1M173 518.5h1M94 519.5h1M96 519.5h1M98 519.5h3M103 519.5h1M105 519.5h1M108 519.5h8M119 519.5h1M122 519.5h5M128 519.5h5M134 519.5h3M138 519.5h3M143 519.5h1M147 519.5h12M160 519.5h3M166 519.5h4M175 519.5h1M178 519.5h1M92 520.5h1M94 520.5h1M98 520.5h1M102 520.5h2M105 520.5h1M107 520.5h1M109 520.5h5M115 520.5h2M118 520.5h14M135 520.5h1M137 520.5h2M140 520.5h5M146 520.5h1M149 520.5h2M152 520.5h1M155 520.5h4M161 520.5h1M163 520.5h1M166 520.5h2M170 520.5h1M173 520.5h1M96 521.5h7M104 521.5h8M113 521.5h1M115 521.5h1M121 521.5h3M125 521.5h1M127 521.5h3M131 521.5h1M136 521.5h1M139 521.5h1M141 521.5h1M143 521.5h4M148 521.5h4M154 521.5h3M158 521.5h1M161 521.5h2M164 521.5h1M167 521.5h1M171 521.5h3M175 521.5h2M178 521.5h1M184 521.5h2M94 522.5h1M102 522.5h6M113 522.5h1M116 522.5h3M122 522.5h1M124 522.5h1M126 522.5h6M133 522.5h1M135 522.5h1M137 522.5h3M143 522.5h1M145 522.5h5M151 522.5h3M155 522.5h2M159 522.5h1M161 522.5h1M163 522.5h1M167 522.5h3M172 522.5h4M182 522.5h1M97 523.5h2M100 523.5h1M102 523.5h2M105 523.5h1M107 523.5h3M112 523.5h6M119 523.5h1M121 523.5h4M126 523.5h1M130 523.5h2M133 523.5h1M135 523.5h5M141 523.5h2M146 523.5h4M151 523.5h3M156 523.5h3M161 523.5h3M165 523.5h1M170 523.5h1M174 523.5h2M177 523.5h1M96 524.5h1M98 524.5h4M103 524.5h4M112 524.5h1M115 524.5h1M118 524.5h1M120 524.5h1M123 524.5h8M132 524.5h1M134 524.5h2M137 524.5h3M141 524.5h3M148 524.5h1M150 524.5h2M154 524.5h1M158 524.5h4M163 524.5h1M165 524.5h1M168 524.5h2M171 524.5h2M174 524.5h1M176 524.5h1M178 524.5h2M93 525.5h1M97 525.5h2M100 525.5h2M105 525.5h1M107 525.5h3M112 525.5h1M114 525.5h1M116 525.5h1M118 525.5h1M122 525.5h5M128 525.5h1M131 525.5h1M134 525.5h5M140 525.5h2M145 525.5h2M148 525.5h1M150 525.5h5M156 525.5h1M158 525.5h1M161 525.5h1M165 525.5h3M173 525.5h4M179 525.5h1M98 526.5h4M103 526.5h1M106 526.5h1M108 526.5h1M110 526.5h6M117 526.5h1M119 526.5h1M121 526.5h1M124 526.5h1M126 526.5h2M130 526.5h4M135 526.5h1M138 526.5h8M147 526.5h1M149 526.5h2M155 526.5h2M159 526.5h1M161 526.5h1M164 526.5h1M168 526.5h2M176 526.5h3M182 526.5h1M96 527.5h2M99 527.5h7M108 527.5h1M112 527.5h3M116 527.5h2M119 527.5h2M122 527.5h1M125 527.5h11M137 527.5h1M139 527.5h1M141 527.5h1M143 527.5h1M145 527.5h1M147 527.5h2M150 527.5h1M153 527.5h1M155 527.5h1M157 527.5h1M159 527.5h1M161 527.5h1M163 527.5h1M166 527.5h1M170 527.5h1M172 527.5h2M176 527.5h1M179 527.5h1M182 527.5h1M98 528.5h1M101 528.5h10M112 528.5h1M116 528.5h5M123 528.5h2M126 528.5h2M131 528.5h1M133 528.5h4M141 528.5h3M146 528.5h3M151 528.5h2M154 528.5h1M156 528.5h4M163 528.5h1M165 528.5h2M168 528.5h2M171 528.5h1M173 528.5h1M175 528.5h2M178 528.5h1M180 528.5h1M97 529.5h2M100 529.5h7M109 529.5h1M113 529.5h1M115 529.5h2M119 529.5h1M122 529.5h1M126 529.5h1M128 529.5h2M131 529.5h3M135 529.5h1M137 529.5h1M142 529.5h1M144 529.5h1M150 529.5h3M154 529.5h7M162 529.5h1M164 529.5h2M168 529.5h2M171 529.5h1M173 529.5h2M179 529.5h1M181 529.5h1M185 529.5h1M95 530.5h1M99 530.5h4M106 530.5h1M110 530.5h3M114 530.5h1M116 530.5h1M119 530.5h1M124 530.5h2M127 530.5h1M129 530.5h4M134 530.5h3M139 530.5h3M144 530.5h1M146 530.5h1M149 530.5h1M151 530.5h2M154 530.5h2M157 530.5h1M160 530.5h1M165 530.5h2M169 530.5h3M173 530.5h3M178 530.5h1M182 530.5h1M98 531.5h2M101 531.5h4M106 531.5h3M111 531.5h1M115 531.5h2M118 531.5h1M121 531.5h1M123 531.5h5M130 531.5h6M140 531.5h3M144 531.5h3M148 531.5h4M154 531.5h1M156 531.5h1M158 531.5h1M160 531.5h1M162 531.5h1M164 531.5h1M166 531.5h1M168 531.5h2M177 531.5h1M99 532.5h5M105 532.5h2M108 532.5h1M112 532.5h2M115 532.5h2M118 532.5h1M120 532.5h6M127 532.5h4M132 532.5h2M136 532.5h1M141 532.5h1M143 532.5h1M146 532.5h1M148 532.5h3M153 532.5h3M159 532.5h1M162 532.5h1M164 532.5h2M167 532.5h2M170 532.5h3M174 532.5h1M179 532.5h1M99 533.5h10M112 533.5h1M114 533.5h2M118 533.5h3M123 533.5h3M127 533.5h1M133 533.5h1M136 533.5h1M140 533.5h4M147 533.5h1M150 533.5h9M160 533.5h3M168 533.5h1M172 533.5h1M175 533.5h1M179 533.5h2M183 533.5h1M97 534.5h2M100 534.5h10M111 534.5h2M115 534.5h2M118 534.5h1M121 534.5h1M123 534.5h2M126 534.5h9M137 534.5h1M140 534.5h4M146 534.5h2M150 534.5h1M153 534.5h1M155 534.5h1M157 534.5h1M159 534.5h2M162 534.5h1M166 534.5h1M173 534.5h1M178 534.5h1M181 534.5h1M97 535.5h7M107 535.5h2M110 535.5h1M112 535.5h5M119 535.5h10M131 535.5h1M133 535.5h4M143 535.5h9M154 535.5h4M160 535.5h2M163 535.5h3M167 535.5h2M171 535.5h2M97 536.5h2M100 536.5h1M102 536.5h3M106 536.5h4M114 536.5h4M119 536.5h2M123 536.5h3M129 536.5h1M131 536.5h5M138 536.5h2M141 536.5h1M143 536.5h2M146 536.5h1M148 536.5h3M152 536.5h1M155 536.5h1M159 536.5h2M162 536.5h3M169 536.5h1M173 536.5h1M98 537.5h2M101 537.5h3M105 537.5h8M114 537.5h2M118 537.5h2M121 537.5h2M125 537.5h1M127 537.5h1M131 537.5h1M134 537.5h1M136 537.5h4M141 537.5h3M147 537.5h1M149 537.5h3M153 537.5h1M155 537.5h3M159 537.5h1M161 537.5h2M164 537.5h3M169 537.5h1M172 537.5h3M176 537.5h2M184 537.5h1M97 538.5h2M102 538.5h7M113 538.5h3M117 538.5h3M122 538.5h7M132 538.5h5M138 538.5h1M141 538.5h2M145 538.5h8M154 538.5h4M159 538.5h1M161 538.5h1M163 538.5h1M165 538.5h1M167 538.5h1M171 538.5h2M178 538.5h1M97 539.5h2M100 539.5h4M105 539.5h1M107 539.5h1M109 539.5h1M111 539.5h1M114 539.5h2M117 539.5h2M121 539.5h2M124 539.5h3M128 539.5h5M134 539.5h3M138 539.5h1M142 539.5h1M144 539.5h3M148 539.5h3M156 539.5h1M158 539.5h1M160 539.5h1M163 539.5h1M166 539.5h2M169 539.5h2M172 539.5h1M184 539.5h1M102 540.5h7M112 540.5h9M122 540.5h3M126 540.5h3M130 540.5h2M134 540.5h3M138 540.5h5M144 540.5h1M146 540.5h2M150 540.5h9M162 540.5h1M166 540.5h3M182 540.5h1M97 541.5h1M99 541.5h1M101 541.5h3M105 541.5h2M108 541.5h2M111 541.5h3M115 541.5h3M120 541.5h2M124 541.5h4M129 541.5h3M134 541.5h1M136 541.5h4M141 541.5h1M143 541.5h3M147 541.5h1M149 541.5h4M155 541.5h1M159 541.5h1M162 541.5h3M168 541.5h3M176 541.5h1M97 542.5h2M100 542.5h2M103 542.5h2M107 542.5h1M109 542.5h2M112 542.5h6M119 542.5h1M122 542.5h3M126 542.5h1M128 542.5h1M130 542.5h1M132 542.5h1M134 542.5h1M138 542.5h1M140 542.5h2M143 542.5h1M145 542.5h2M150 542.5h1M153 542.5h3M160 542.5h4M172 542.5h1M94 543.5h1M96 543.5h3M100 543.5h2M103 543.5h1M105 543.5h2M108 543.5h1M110 543.5h5M117 543.5h4M122 543.5h4M127 543.5h1M129 543.5h2M132 543.5h1M135 543.5h1M137 543.5h1M139 543.5h1M143 543.5h1M146 543.5h2M154 543.5h3M161 543.5h1M166 543.5h1M174 543.5h1M178 543.5h1M97 544.5h2M100 544.5h1M102 544.5h7M110 544.5h1M112 544.5h2M115 544.5h2M119 544.5h1M122 544.5h1M129 544.5h1M131 544.5h3M135 544.5h1M138 544.5h1M142 544.5h1M147 544.5h1M156 544.5h2M162 544.5h1M178 544.5h1M181 544.5h2M97 545.5h2M100 545.5h2M104 545.5h1M106 545.5h2M109 545.5h1M111 545.5h4M116 545.5h2M122 545.5h2M125 545.5h1M130 545.5h1M141 545.5h1M173 545.5h1M95 546.5h6M102 546.5h5M108 546.5h1M110 546.5h2M113 546.5h1M115 546.5h1M117 546.5h1M124 546.5h1M147 546.5h1M159 546.5h1M162 546.5h1M175 546.5h1M93 547.5h1M98 547.5h1M100 547.5h4M105 547.5h3M109 547.5h2M112 547.5h4M124 547.5h1M126 547.5h1M129 547.5h1M131 547.5h1M171 547.5h1M97 548.5h1M99 548.5h8M108 548.5h2M111 548.5h3M115 548.5h2M118 548.5h1M120 548.5h3M124 548.5h1M126 548.5h1M138 548.5h1M145 548.5h1M157 548.5h1M159 548.5h1M172 548.5h1M177 548.5h1M95 549.5h1M98 549.5h4M104 549.5h11M120 549.5h1M123 549.5h2M127 549.5h1M131 549.5h2M144 549.5h1M183 549.5h1M96 550.5h3M102 550.5h2M105 550.5h1M107 550.5h1M110 550.5h1M112 550.5h3M117 550.5h2M120 550.5h1M122 550.5h1M125 550.5h1M127 550.5h1M146 550.5h1M169 550.5h1M176 550.5h1M91 551.5h1M95 551.5h3M100 551.5h5M106 551.5h4M111 551.5h4M117 551.5h1M124 551.5h1M126 551.5h1M184 551.5h1M98 552.5h6M106 552.5h2M110 552.5h1M112 552.5h2M118 552.5h2M125 552.5h2M134 552.5h1M162 552.5h1M167 552.5h1M91 553.5h1M95 553.5h3M99 553.5h1M101 553.5h2M104 553.5h5M111 553.5h1M118 553.5h1M140 553.5h1M144 553.5h1M165 553.5h1M177 553.5h1M93 554.5h1M95 554.5h4M100 554.5h1M103 554.5h1M105 554.5h4M110 554.5h3M117 554.5h2M128 554.5h1M130 554.5h1M161 554.5h1M173 554.5h1M89 555.5h1M92 555.5h5M104 555.5h2M107 555.5h2M111 555.5h1M116 555.5h1M122 555.5h1M132 555.5h1M92 556.5h1M94 556.5h11M107 556.5h2M110 556.5h1M113 556.5h1M115 556.5h1M117 556.5h1M122 556.5h1M133 556.5h1M138 556.5h1M142 556.5h1M179 556.5h1M92 557.5h5M98 557.5h3M102 557.5h1M105 557.5h2M109 557.5h1M119 557.5h3M125 557.5h1M130 557.5h1M169 557.5h1M91 558.5h1M93 558.5h5M99 558.5h1M101 558.5h3M115 558.5h2M125 558.5h1M151 558.5h1M153 558.5h1M163 558.5h1M83 559.5h1M91 559.5h4M96 559.5h1M99 559.5h5M112 559.5h1M122 559.5h1M131 559.5h1M135 559.5h1M143 559.5h1M90 560.5h1M92 560.5h2M95 560.5h2M98 560.5h1M103 560.5h1M107 560.5h1M129 560.5h1M156 560.5h1M172 560.5h1M92 561.5h1M94 561.5h5M102 561.5h1M105 561.5h1M107 561.5h1M93 562.5h1M95 562.5h1M97 562.5h2M100 562.5h2M119 562.5h1M92 563.5h1M95 563.5h1M97 563.5h1M99 563.5h1M93 564.5h1M95 564.5h2M98 564.5h2M94 565.5h1M96 565.5h1M98 565.5h2M86 567.5h1M97 569.5h1M96 571.5h1" stroke="#323232" stroke-width="1" fill="none"/></g>
<ellipse cx="109.5" cy="524" rx="10" ry="22" transform="rotate(0 109.5 524)" fill="url(#g4)" opacity="0.9" filter="url(#b1)"/>
<ellipse cx="103.8" cy="553.6" rx="13" ry="4.6" transform="rotate(-52 103.8 553.6)" fill="url(#g5)" opacity="1.0" filter="url(#b1)"/>
<g filter="url(#bdot)"><path d="M128 642.5h1M116 643.5h1M102 644.5h1M111 644.5h1M94 645.5h1M110 645.5h1M116 645.5h2M120 645.5h1M125 645.5h1M100 646.5h1M104 646.5h1M109 646.5h1M114 646.5h1M125 646.5h1M128 646.5h1M144 646.5h1M103 647.5h1M105 647.5h1M107 647.5h1M118 647.5h1M126 647.5h1M128 647.5h1M136 647.5h2M144 647.5h1M103 648.5h2M116 648.5h1M121 648.5h1M129 648.5h1M137 648.5h1M144 648.5h1M146 648.5h1M148 648.5h1M152 648.5h1M98 649.5h1M103 649.5h2M107 649.5h1M110 649.5h2M127 649.5h1M139 649.5h1M151 649.5h1M102 650.5h1M113 650.5h1M115 650.5h1M119 650.5h1M121 650.5h1M123 650.5h1M129 650.5h1M137 650.5h1M147 650.5h1M100 651.5h1M104 651.5h1M115 651.5h1M118 651.5h1M128 651.5h1M135 651.5h1M140 651.5h2M143 651.5h1M150 651.5h1M155 651.5h2M102 652.5h1M112 652.5h1M127 652.5h1M134 652.5h2M146 652.5h1M149 652.5h1M153 652.5h1M155 652.5h1M159 652.5h1M119 653.5h1M121 653.5h1M125 653.5h1M140 653.5h1M142 653.5h1M149 653.5h1M153 653.5h1M156 653.5h1M161 653.5h1M175 653.5h1M185 653.5h1M102 654.5h1M104 654.5h1M108 654.5h2M112 654.5h1M114 654.5h1M116 654.5h1M119 654.5h1M123 654.5h2M132 654.5h2M136 654.5h1M142 654.5h2M157 654.5h2M165 654.5h1M99 655.5h3M105 655.5h1M112 655.5h1M114 655.5h1M127 655.5h1M133 655.5h1M135 655.5h2M138 655.5h1M146 655.5h2M149 655.5h1M163 655.5h1M165 655.5h1M98 656.5h1M101 656.5h1M112 656.5h1M118 656.5h1M120 656.5h1M131 656.5h1M137 656.5h1M148 656.5h2M152 656.5h2M159 656.5h1M161 656.5h1M169 656.5h1M171 656.5h1M98 657.5h1M102 657.5h1M109 657.5h1M115 657.5h1M129 657.5h1M132 657.5h1M141 657.5h1M143 657.5h1M167 657.5h1M110 658.5h1M117 658.5h1M121 658.5h1M126 658.5h1M129 658.5h1M131 658.5h1M133 658.5h2M136 658.5h1M139 658.5h2M150 658.5h1M152 658.5h1M158 658.5h2M161 658.5h1M167 658.5h1M91 659.5h1M97 659.5h1M99 659.5h1M101 659.5h1M109 659.5h1M117 659.5h1M119 659.5h2M122 659.5h3M126 659.5h1M128 659.5h2M140 659.5h2M155 659.5h3M164 659.5h1M166 659.5h1M98 660.5h2M101 660.5h1M103 660.5h1M107 660.5h2M112 660.5h1M120 660.5h1M134 660.5h1M138 660.5h1M142 660.5h1M144 660.5h2M148 660.5h2M155 660.5h1M161 660.5h1M169 660.5h1M173 660.5h1M96 661.5h1M99 661.5h1M103 661.5h1M106 661.5h2M119 661.5h2M122 661.5h1M126 661.5h1M135 661.5h1M154 661.5h1M161 661.5h1M170 661.5h1M181 661.5h1M97 662.5h1M99 662.5h1M107 662.5h2M111 662.5h1M114 662.5h1M116 662.5h1M126 662.5h1M131 662.5h1M133 662.5h1M146 662.5h1M148 662.5h1M155 662.5h1M157 662.5h1M100 663.5h1M102 663.5h1M104 663.5h1M110 663.5h1M118 663.5h1M128 663.5h1M141 663.5h1M143 663.5h1M146 663.5h2M150 663.5h2M158 663.5h1M161 663.5h1M178 663.5h1M99 664.5h2M102 664.5h1M105 664.5h1M115 664.5h1M117 664.5h1M123 664.5h1M125 664.5h2M130 664.5h1M134 664.5h1M137 664.5h1M142 664.5h1M153 664.5h2M161 664.5h1M165 664.5h1M98 665.5h2M109 665.5h1M116 665.5h1M118 665.5h1M122 665.5h1M127 665.5h2M130 665.5h1M141 665.5h1M143 665.5h1M146 665.5h2M151 665.5h1M165 665.5h1M106 666.5h1M108 666.5h1M111 666.5h1M113 666.5h1M116 666.5h1M119 666.5h1M122 666.5h1M131 666.5h1M137 666.5h1M162 666.5h1M164 666.5h2M168 666.5h1M172 666.5h1M104 667.5h1M108 667.5h1M111 667.5h1M114 667.5h1M123 667.5h2M130 667.5h2M133 667.5h1M135 667.5h2M138 667.5h1M141 667.5h2M145 667.5h3M149 667.5h1M156 667.5h1M158 667.5h1M163 667.5h1M170 667.5h1M184 667.5h1M99 668.5h1M112 668.5h1M121 668.5h1M131 668.5h2M134 668.5h1M141 668.5h2M146 668.5h1M154 668.5h2M172 668.5h1M175 668.5h1M182 668.5h1M102 669.5h1M106 669.5h1M108 669.5h2M113 669.5h1M118 669.5h1M121 669.5h1M127 669.5h2M137 669.5h1M142 669.5h1M156 669.5h2M159 669.5h1M162 669.5h1M168 669.5h1M177 669.5h1M181 669.5h1M99 670.5h1M104 670.5h1M115 670.5h1M118 670.5h1M125 670.5h1M127 670.5h1M130 670.5h1M134 670.5h1M137 670.5h3M141 670.5h2M144 670.5h4M158 670.5h1M161 670.5h1M163 670.5h2M166 670.5h1M169 670.5h1M174 670.5h1M177 670.5h1M102 671.5h1M108 671.5h1M110 671.5h1M115 671.5h1M117 671.5h1M119 671.5h1M132 671.5h1M136 671.5h1M139 671.5h1M142 671.5h1M145 671.5h1M147 671.5h2M150 671.5h2M153 671.5h1M171 671.5h1M174 671.5h1M176 671.5h1M180 671.5h1M92 672.5h1M102 672.5h1M110 672.5h1M122 672.5h1M131 672.5h1M133 672.5h2M140 672.5h1M142 672.5h1M145 672.5h1M147 672.5h1M156 672.5h1M165 672.5h1M171 672.5h1M178 672.5h2M100 673.5h1M103 673.5h1M114 673.5h1M117 673.5h1M119 673.5h1M124 673.5h1M132 673.5h2M139 673.5h1M142 673.5h1M148 673.5h1M151 673.5h1M157 673.5h2M161 673.5h1M164 673.5h1M166 673.5h1M170 673.5h1M176 673.5h1M101 674.5h1M105 674.5h2M110 674.5h1M112 674.5h1M117 674.5h1M124 674.5h1M129 674.5h1M137 674.5h1M151 674.5h1M153 674.5h1M162 674.5h2M168 674.5h3M173 674.5h1M177 674.5h1M97 675.5h1M104 675.5h1M109 675.5h1M112 675.5h1M115 675.5h1M119 675.5h1M125 675.5h1M128 675.5h1M139 675.5h2M142 675.5h1M150 675.5h1M153 675.5h1M171 675.5h1M185 675.5h1M98 676.5h3M107 676.5h1M113 676.5h2M119 676.5h2M125 676.5h1M127 676.5h1M133 676.5h1M137 676.5h1M151 676.5h1M153 676.5h1M157 676.5h1M160 676.5h1M165 676.5h1M178 676.5h1M94 677.5h1M97 677.5h2M100 677.5h1M105 677.5h1M109 677.5h2M112 677.5h1M119 677.5h2M124 677.5h1M129 677.5h1M132 677.5h2M135 677.5h1M144 677.5h1M154 677.5h1M160 677.5h1M163 677.5h1M168 677.5h1M170 677.5h1M174 677.5h1M177 677.5h1M180 677.5h1M100 678.5h1M104 678.5h1M107 678.5h1M115 678.5h2M120 678.5h2M124 678.5h1M126 678.5h1M129 678.5h2M137 678.5h1M139 678.5h1M141 678.5h1M143 678.5h2M146 678.5h1M150 678.5h1M165 678.5h1M178 678.5h2M106 679.5h1M112 679.5h1M117 679.5h1M119 679.5h1M121 679.5h1M125 679.5h2M135 679.5h2M139 679.5h1M143 679.5h1M155 679.5h1M163 679.5h1M165 679.5h1M169 679.5h1M171 679.5h1M173 679.5h1M180 679.5h1M98 680.5h1M104 680.5h1M111 680.5h1M118 680.5h1M123 680.5h1M129 680.5h2M133 680.5h1M136 680.5h3M143 680.5h2M148 680.5h1M159 680.5h1M161 680.5h1M164 680.5h1M171 680.5h1M99 681.5h1M104 681.5h1M106 681.5h1M108 681.5h1M116 681.5h1M120 681.5h3M124 681.5h1M126 681.5h1M142 681.5h1M165 681.5h2M169 681.5h1M176 681.5h1M98 682.5h1M100 682.5h1M113 682.5h1M122 682.5h1M128 682.5h2M131 682.5h1M138 682.5h1M143 682.5h1M145 682.5h1M169 682.5h1M173 682.5h1M176 682.5h1M99 683.5h1M103 683.5h1M119 683.5h1M121 683.5h1M123 683.5h1M127 683.5h1M131 683.5h1M100 684.5h1M113 684.5h1M116 684.5h1M119 684.5h2M123 684.5h2M131 684.5h1M144 684.5h1M155 684.5h1M162 684.5h2M166 684.5h1M178 684.5h1M92 685.5h1M103 685.5h2M107 685.5h2M129 685.5h1M138 685.5h1M164 685.5h1M189 685.5h1M99 686.5h1M104 686.5h3M116 686.5h1M118 686.5h1M133 686.5h1M153 686.5h1M161 686.5h1M170 686.5h1M177 686.5h1M98 687.5h1M101 687.5h2M105 687.5h1M108 687.5h2M116 687.5h2M119 687.5h1M126 687.5h1M138 687.5h1M87 688.5h1M91 688.5h1M101 688.5h1M105 688.5h1M109 688.5h2M115 688.5h1M118 688.5h1M123 688.5h1M128 688.5h1M151 688.5h1M86 689.5h1M101 689.5h1M105 689.5h3M109 689.5h1M125 689.5h1M103 690.5h1M112 690.5h1M171 690.5h1M102 691.5h1M114 691.5h1M98 692.5h1M105 692.5h1M109 692.5h1M115 692.5h1M125 692.5h1M131 692.5h1M93 693.5h1M96 693.5h2M103 693.5h1M105 693.5h1M109 693.5h1M112 693.5h1M116 693.5h1M143 693.5h1M154 693.5h1M157 693.5h1M163 693.5h1M182 693.5h1M96 694.5h1M105 694.5h1M109 694.5h1M113 694.5h1M117 694.5h1M91 695.5h1M99 695.5h1M101 695.5h1M106 695.5h1M113 695.5h1M122 695.5h2M98 696.5h1M107 696.5h1M130 696.5h1M94 697.5h1M99 697.5h2M102 697.5h1M104 697.5h1M106 697.5h1M121 697.5h1M175 697.5h1M96 698.5h2M126 698.5h1M95 699.5h1M97 699.5h2M102 699.5h1M107 699.5h1M112 699.5h1M161 699.5h1M93 700.5h1M97 700.5h2M100 700.5h1M102 700.5h2M105 700.5h2M97 701.5h1M102 701.5h1M160 701.5h1M104 703.5h1M110 703.5h2M161 703.5h1M88 704.5h1M97 704.5h2M92 705.5h1M96 705.5h1M85 706.5h1M95 706.5h1M97 706.5h1M96 707.5h1M90 708.5h1M97 710.5h1" stroke="#6a6a6a" stroke-width="1" fill="none"/><path d="M112 639.5h1M125 640.5h1M107 642.5h1M112 642.5h1M107 643.5h1M109 643.5h1M121 643.5h1M107 644.5h1M109 644.5h1M115 644.5h2M118 644.5h1M120 644.5h1M137 644.5h1M88 645.5h1M103 645.5h1M105 645.5h1M107 645.5h3M119 645.5h1M122 645.5h2M127 645.5h1M133 645.5h1M140 645.5h2M101 646.5h1M103 646.5h1M107 646.5h1M111 646.5h1M115 646.5h1M117 646.5h1M122 646.5h2M127 646.5h1M129 646.5h1M133 646.5h1M145 646.5h1M162 646.5h1M101 647.5h1M106 647.5h1M108 647.5h10M120 647.5h1M122 647.5h2M130 647.5h2M133 647.5h1M140 647.5h2M148 647.5h1M154 647.5h1M96 648.5h1M100 648.5h1M102 648.5h1M106 648.5h1M108 648.5h2M111 648.5h1M113 648.5h1M115 648.5h1M117 648.5h2M125 648.5h1M131 648.5h1M136 648.5h1M139 648.5h5M153 648.5h1M99 649.5h2M102 649.5h1M105 649.5h1M108 649.5h2M112 649.5h4M117 649.5h2M120 649.5h3M124 649.5h1M126 649.5h1M128 649.5h3M132 649.5h1M134 649.5h2M138 649.5h1M140 649.5h1M149 649.5h2M161 649.5h1M96 650.5h1M98 650.5h2M101 650.5h1M105 650.5h2M109 650.5h2M112 650.5h1M114 650.5h1M117 650.5h2M120 650.5h1M122 650.5h1M124 650.5h2M127 650.5h1M132 650.5h5M138 650.5h1M142 650.5h2M148 650.5h4M156 650.5h1M96 651.5h2M99 651.5h1M101 651.5h1M103 651.5h1M105 651.5h5M111 651.5h4M116 651.5h2M121 651.5h7M130 651.5h3M134 651.5h1M136 651.5h4M142 651.5h1M145 651.5h3M149 651.5h1M151 651.5h1M153 651.5h1M160 651.5h1M162 651.5h1M168 651.5h1M100 652.5h2M103 652.5h3M107 652.5h2M110 652.5h2M116 652.5h6M123 652.5h3M128 652.5h1M130 652.5h1M133 652.5h1M136 652.5h2M140 652.5h6M148 652.5h1M150 652.5h1M96 653.5h1M99 653.5h1M102 653.5h1M104 653.5h1M106 653.5h1M108 653.5h5M114 653.5h3M118 653.5h1M120 653.5h1M123 653.5h2M126 653.5h1M129 653.5h1M131 653.5h2M134 653.5h2M137 653.5h3M141 653.5h1M144 653.5h2M151 653.5h2M154 653.5h1M157 653.5h1M159 653.5h2M162 653.5h1M165 653.5h1M171 653.5h1M95 654.5h1M98 654.5h4M103 654.5h1M107 654.5h1M110 654.5h2M113 654.5h1M117 654.5h2M120 654.5h3M125 654.5h6M137 654.5h1M139 654.5h3M144 654.5h2M147 654.5h1M150 654.5h6M91 655.5h1M95 655.5h1M97 655.5h1M104 655.5h1M110 655.5h2M113 655.5h1M116 655.5h3M120 655.5h1M123 655.5h4M128 655.5h5M134 655.5h1M139 655.5h2M143 655.5h3M148 655.5h1M150 655.5h1M152 655.5h1M154 655.5h1M158 655.5h1M160 655.5h3M164 655.5h1M170 655.5h1M183 655.5h1M95 656.5h1M97 656.5h1M99 656.5h2M102 656.5h3M106 656.5h1M110 656.5h2M114 656.5h2M122 656.5h3M127 656.5h2M132 656.5h1M135 656.5h2M138 656.5h5M144 656.5h1M146 656.5h2M150 656.5h2M154 656.5h1M156 656.5h2M163 656.5h2M168 656.5h1M170 656.5h1M172 656.5h1M176 656.5h1M187 656.5h1M99 657.5h1M103 657.5h2M110 657.5h1M112 657.5h1M114 657.5h1M116 657.5h9M127 657.5h1M133 657.5h3M138 657.5h3M142 657.5h1M144 657.5h2M147 657.5h1M149 657.5h2M153 657.5h2M157 657.5h3M163 657.5h1M165 657.5h2M171 657.5h2M176 657.5h3M182 657.5h1M93 658.5h1M97 658.5h1M101 658.5h2M104 658.5h3M108 658.5h2M111 658.5h1M113 658.5h4M118 658.5h1M120 658.5h1M123 658.5h2M127 658.5h1M130 658.5h1M135 658.5h1M137 658.5h1M141 658.5h1M143 658.5h1M145 658.5h2M149 658.5h1M153 658.5h1M155 658.5h3M162 658.5h2M166 658.5h1M172 658.5h1M180 658.5h1M96 659.5h1M103 659.5h4M108 659.5h1M110 659.5h2M114 659.5h3M118 659.5h1M121 659.5h1M125 659.5h1M127 659.5h1M130 659.5h3M134 659.5h4M139 659.5h1M142 659.5h5M148 659.5h2M152 659.5h3M158 659.5h5M168 659.5h1M172 659.5h3M176 659.5h1M178 659.5h2M182 659.5h1M188 659.5h1M190 659.5h1M100 660.5h1M102 660.5h1M105 660.5h1M109 660.5h2M113 660.5h4M118 660.5h1M121 660.5h1M123 660.5h2M128 660.5h1M131 660.5h3M135 660.5h1M140 660.5h2M143 660.5h1M146 660.5h1M150 660.5h1M157 660.5h3M163 660.5h1M167 660.5h2M171 660.5h2M175 660.5h2M179 660.5h1M189 660.5h1M95 661.5h1M97 661.5h2M101 661.5h2M104 661.5h2M108 661.5h4M113 661.5h1M117 661.5h1M121 661.5h1M123 661.5h1M125 661.5h1M127 661.5h1M129 661.5h3M134 661.5h1M136 661.5h1M139 661.5h3M143 661.5h4M148 661.5h1M150 661.5h4M157 661.5h4M163 661.5h1M166 661.5h1M171 661.5h2M177 661.5h1M94 662.5h2M98 662.5h1M100 662.5h1M103 662.5h1M105 662.5h1M109 662.5h2M112 662.5h2M115 662.5h1M117 662.5h5M123 662.5h3M127 662.5h4M132 662.5h1M134 662.5h1M136 662.5h2M139 662.5h1M141 662.5h2M144 662.5h1M149 662.5h2M152 662.5h3M156 662.5h1M161 662.5h2M165 662.5h1M167 662.5h1M169 662.5h1M171 662.5h2M174 662.5h1M176 662.5h1M99 663.5h1M101 663.5h1M106 663.5h1M112 663.5h3M116 663.5h2M120 663.5h5M126 663.5h1M129 663.5h1M133 663.5h2M136 663.5h5M142 663.5h1M144 663.5h2M148 663.5h1M152 663.5h6M162 663.5h2M168 663.5h2M172 663.5h2M175 663.5h1M179 663.5h1M182 663.5h1M193 663.5h1M96 664.5h1M101 664.5h1M106 664.5h2M110 664.5h1M112 664.5h1M116 664.5h1M122 664.5h1M124 664.5h1M127 664.5h2M131 664.5h3M135 664.5h1M138 664.5h4M143 664.5h7M151 664.5h1M155 664.5h2M158 664.5h3M162 664.5h3M166 664.5h2M172 664.5h1M175 664.5h1M177 664.5h2M181 664.5h1M94 665.5h1M97 665.5h1M104 665.5h5M110 665.5h1M112 665.5h4M117 665.5h1M120 665.5h2M123 665.5h2M129 665.5h1M133 665.5h3M139 665.5h2M142 665.5h1M152 665.5h2M156 665.5h2M160 665.5h1M162 665.5h1M167 665.5h5M173 665.5h4M178 665.5h1M181 665.5h1M184 665.5h1M96 666.5h1M98 666.5h4M103 666.5h3M107 666.5h1M109 666.5h1M114 666.5h2M118 666.5h1M121 666.5h1M123 666.5h1M126 666.5h1M132 666.5h1M134 666.5h1M140 666.5h5M146 666.5h1M149 666.5h3M153 666.5h9M163 666.5h1M167 666.5h1M169 666.5h1M174 666.5h1M177 666.5h2M181 666.5h2M97 667.5h2M100 667.5h2M105 667.5h2M109 667.5h2M117 667.5h1M120 667.5h1M122 667.5h1M125 667.5h3M129 667.5h1M132 667.5h1M139 667.5h2M143 667.5h1M150 667.5h1M152 667.5h3M162 667.5h1M164 667.5h1M166 667.5h1M168 667.5h1M171 667.5h3M179 667.5h1M181 667.5h1M98 668.5h1M100 668.5h1M103 668.5h3M107 668.5h1M109 668.5h3M113 668.5h1M115 668.5h2M119 668.5h2M123 668.5h2M126 668.5h1M128 668.5h3M133 668.5h1M135 668.5h3M139 668.5h2M143 668.5h1M145 668.5h1M148 668.5h1M150 668.5h1M152 668.5h1M158 668.5h2M161 668.5h3M167 668.5h1M169 668.5h1M171 668.5h1M173 668.5h2M180 668.5h1M183 668.5h1M96 669.5h1M98 669.5h3M104 669.5h2M110 669.5h2M114 669.5h3M119 669.5h2M122 669.5h1M124 669.5h3M130 669.5h2M135 669.5h2M139 669.5h3M143 669.5h7M153 669.5h3M161 669.5h1M164 669.5h1M167 669.5h1M170 669.5h6M179 669.5h1M192 669.5h1M96 670.5h3M100 670.5h4M105 670.5h9M116 670.5h1M119 670.5h1M121 670.5h1M123 670.5h2M126 670.5h1M128 670.5h2M131 670.5h2M135 670.5h2M140 670.5h1M148 670.5h1M150 670.5h1M153 670.5h1M155 670.5h2M159 670.5h1M162 670.5h1M165 670.5h1M167 670.5h1M171 670.5h3M176 670.5h1M183 670.5h1M96 671.5h1M98 671.5h2M104 671.5h4M109 671.5h1M112 671.5h3M116 671.5h1M120 671.5h4M125 671.5h1M129 671.5h3M134 671.5h2M138 671.5h1M140 671.5h2M143 671.5h2M149 671.5h1M154 671.5h3M158 671.5h1M163 671.5h1M168 671.5h1M170 671.5h1M172 671.5h1M175 671.5h1M177 671.5h1M182 671.5h1M185 671.5h2M94 672.5h1M96 672.5h3M100 672.5h2M103 672.5h3M108 672.5h1M112 672.5h4M117 672.5h2M121 672.5h1M123 672.5h8M132 672.5h1M136 672.5h4M141 672.5h1M144 672.5h1M148 672.5h3M153 672.5h1M155 672.5h1M157 672.5h5M164 672.5h1M166 672.5h1M170 672.5h1M172 672.5h1M177 672.5h1M180 672.5h1M184 672.5h1M96 673.5h1M98 673.5h2M104 673.5h1M108 673.5h2M111 673.5h1M113 673.5h1M116 673.5h1M121 673.5h1M123 673.5h1M125 673.5h5M131 673.5h1M135 673.5h3M141 673.5h1M144 673.5h1M146 673.5h2M149 673.5h2M154 673.5h1M156 673.5h1M160 673.5h1M167 673.5h1M169 673.5h1M175 673.5h1M179 673.5h1M185 673.5h1M95 674.5h1M97 674.5h3M107 674.5h2M111 674.5h1M113 674.5h2M116 674.5h1M118 674.5h4M123 674.5h1M125 674.5h2M128 674.5h1M130 674.5h1M132 674.5h2M136 674.5h1M139 674.5h4M144 674.5h1M146 674.5h2M150 674.5h1M155 674.5h2M158 674.5h4M165 674.5h1M167 674.5h1M174 674.5h1M178 674.5h1M182 674.5h2M186 674.5h1M98 675.5h5M105 675.5h4M110 675.5h2M116 675.5h3M121 675.5h4M126 675.5h2M129 675.5h5M135 675.5h2M138 675.5h1M141 675.5h1M144 675.5h4M149 675.5h1M151 675.5h2M154 675.5h2M157 675.5h4M162 675.5h2M165 675.5h1M169 675.5h1M173 675.5h2M177 675.5h2M181 675.5h1M183 675.5h1M101 676.5h5M108 676.5h1M110 676.5h1M112 676.5h1M117 676.5h2M121 676.5h1M123 676.5h2M126 676.5h1M128 676.5h1M130 676.5h3M134 676.5h1M136 676.5h1M138 676.5h1M140 676.5h2M143 676.5h1M145 676.5h1M148 676.5h1M152 676.5h1M154 676.5h2M161 676.5h2M164 676.5h1M167 676.5h2M172 676.5h3M179 676.5h4M99 677.5h1M102 677.5h1M104 677.5h1M106 677.5h3M111 677.5h1M113 677.5h6M121 677.5h3M125 677.5h2M128 677.5h1M130 677.5h1M136 677.5h1M139 677.5h3M143 677.5h1M145 677.5h5M151 677.5h1M153 677.5h1M155 677.5h4M161 677.5h1M165 677.5h1M167 677.5h1M171 677.5h1M173 677.5h1M179 677.5h1M182 677.5h1M94 678.5h1M99 678.5h1M101 678.5h2M105 678.5h1M110 678.5h4M122 678.5h2M125 678.5h1M127 678.5h2M131 678.5h6M138 678.5h1M142 678.5h1M145 678.5h1M147 678.5h3M152 678.5h2M155 678.5h1M158 678.5h3M162 678.5h2M166 678.5h1M95 679.5h1M98 679.5h1M105 679.5h1M107 679.5h4M120 679.5h1M122 679.5h3M127 679.5h2M130 679.5h2M133 679.5h1M137 679.5h2M140 679.5h3M144 679.5h4M150 679.5h1M152 679.5h3M156 679.5h1M158 679.5h1M160 679.5h2M164 679.5h1M167 679.5h1M170 679.5h1M176 679.5h1M181 679.5h1M99 680.5h1M101 680.5h1M103 680.5h1M105 680.5h2M108 680.5h1M110 680.5h1M112 680.5h6M119 680.5h4M126 680.5h3M131 680.5h1M139 680.5h1M142 680.5h1M145 680.5h3M149 680.5h1M151 680.5h1M153 680.5h1M155 680.5h1M158 680.5h1M163 680.5h1M165 680.5h2M170 680.5h1M173 680.5h1M176 680.5h1M182 680.5h1M98 681.5h1M100 681.5h1M102 681.5h2M107 681.5h1M109 681.5h1M114 681.5h2M117 681.5h1M123 681.5h1M125 681.5h1M128 681.5h2M131 681.5h3M136 681.5h6M143 681.5h4M149 681.5h1M151 681.5h1M153 681.5h1M156 681.5h3M161 681.5h1M163 681.5h1M171 681.5h1M173 681.5h1M184 681.5h1M99 682.5h1M101 682.5h2M104 682.5h2M108 682.5h2M111 682.5h2M114 682.5h2M117 682.5h2M120 682.5h2M126 682.5h1M130 682.5h1M132 682.5h1M137 682.5h1M139 682.5h1M142 682.5h1M144 682.5h1M147 682.5h2M150 682.5h5M156 682.5h4M162 682.5h2M166 682.5h1M170 682.5h3M174 682.5h1M177 682.5h1M96 683.5h3M100 683.5h3M105 683.5h14M120 683.5h1M122 683.5h1M124 683.5h1M126 683.5h1M128 683.5h2M134 683.5h1M136 683.5h1M138 683.5h2M144 683.5h2M147 683.5h4M153 683.5h1M156 683.5h1M158 683.5h1M163 683.5h2M171 683.5h1M175 683.5h1M185 683.5h1M94 684.5h1M97 684.5h3M101 684.5h2M104 684.5h9M114 684.5h2M117 684.5h2M121 684.5h2M125 684.5h1M127 684.5h1M129 684.5h1M132 684.5h2M135 684.5h2M138 684.5h1M141 684.5h3M145 684.5h4M150 684.5h1M153 684.5h1M157 684.5h3M164 684.5h1M90 685.5h1M97 685.5h5M105 685.5h2M109 685.5h11M123 685.5h1M125 685.5h1M128 685.5h1M134 685.5h1M139 685.5h1M143 685.5h2M152 685.5h1M158 685.5h1M161 685.5h1M170 685.5h1M190 685.5h1M98 686.5h1M100 686.5h3M107 686.5h9M117 686.5h1M119 686.5h1M121 686.5h1M123 686.5h1M126 686.5h1M128 686.5h1M131 686.5h1M149 686.5h1M164 686.5h1M171 686.5h1M95 687.5h1M99 687.5h2M106 687.5h2M110 687.5h6M121 687.5h1M125 687.5h1M127 687.5h1M132 687.5h1M142 687.5h1M150 687.5h1M97 688.5h1M100 688.5h1M102 688.5h3M106 688.5h3M111 688.5h4M116 688.5h1M127 688.5h1M97 689.5h1M99 689.5h2M103 689.5h2M108 689.5h1M110 689.5h7M126 689.5h1M130 689.5h1M132 689.5h1M165 689.5h1M87 690.5h1M97 690.5h4M102 690.5h1M106 690.5h1M108 690.5h1M110 690.5h2M113 690.5h1M118 690.5h1M120 690.5h2M131 690.5h1M96 691.5h1M99 691.5h3M103 691.5h4M109 691.5h5M115 691.5h2M141 691.5h1M158 691.5h1M162 691.5h1M97 692.5h1M99 692.5h3M103 692.5h1M106 692.5h2M110 692.5h4M116 692.5h2M120 692.5h4M151 692.5h1M95 693.5h1M99 693.5h4M104 693.5h1M106 693.5h1M108 693.5h1M110 693.5h2M128 693.5h1M168 693.5h1M175 693.5h1M89 694.5h1M93 694.5h1M97 694.5h3M101 694.5h3M106 694.5h3M110 694.5h2M145 694.5h1M183 694.5h1M85 695.5h1M94 695.5h3M98 695.5h1M100 695.5h1M102 695.5h1M104 695.5h2M107 695.5h2M111 695.5h2M125 695.5h2M140 695.5h1M154 695.5h1M97 696.5h1M99 696.5h3M103 696.5h1M106 696.5h1M110 696.5h2M123 696.5h1M132 696.5h1M92 697.5h1M95 697.5h4M101 697.5h1M103 697.5h1M109 697.5h1M115 697.5h1M126 697.5h1M142 697.5h1M155 697.5h1M177 697.5h1M91 698.5h1M94 698.5h2M98 698.5h2M101 698.5h1M103 698.5h6M131 698.5h1M170 698.5h1M85 699.5h1M90 699.5h1M92 699.5h1M94 699.5h1M96 699.5h1M100 699.5h1M105 699.5h1M110 699.5h1M123 699.5h1M126 699.5h2M137 699.5h1M146 699.5h1M91 700.5h2M94 700.5h3M99 700.5h1M104 700.5h1M110 700.5h1M120 700.5h1M130 700.5h1M160 700.5h1M180 700.5h1M91 701.5h1M93 701.5h4M98 701.5h2M101 701.5h1M103 701.5h1M105 701.5h1M115 701.5h1M127 701.5h1M144 701.5h1M91 702.5h1M93 702.5h8M104 702.5h2M116 702.5h1M121 702.5h1M152 702.5h1M166 702.5h1M90 703.5h1M93 703.5h2M96 703.5h3M100 703.5h2M103 703.5h1M145 703.5h1M91 704.5h6M102 704.5h1M110 704.5h1M89 705.5h1M94 705.5h1M97 705.5h2M100 705.5h1M152 705.5h1M86 706.5h1M88 706.5h1M95 707.5h1M97 707.5h1M91 709.5h1" stroke="#323232" stroke-width="1" fill="none"/></g>
<ellipse cx="110.285" cy="665" rx="10" ry="22" transform="rotate(0 110.285 665)" fill="url(#g4)" opacity="0.9" filter="url(#b1)"/>
<ellipse cx="104.414" cy="694.6" rx="13" ry="4.6" transform="rotate(-52 104.414 694.6)" fill="url(#g5)" opacity="1.0" filter="url(#b1)"/>
<text transform="translate(0.6,22.7) scale(1.08,1.09)" font-size="30" font-weight="bold" fill="#000">A</text>
<text transform="translate(266.6,23) scale(1.02,1.055)" font-size="30" font-weight="bold" fill="#000">B</text>
<text transform="translate(1.5,246) scale(0.95,1.1)" font-size="30" font-weight="bold" fill="#000">C</text>
<text transform="translate(3.2,470.4) scale(0.95,1.08)" font-size="30" font-weight="bold" fill="#000">D</text>
<text transform="translate(242.5,466.9) scale(0.97,1.07)" font-size="30" font-weight="bold" fill="#000">E</text>
<rect x="70" y="69" width="59.5" height="55" stroke="#333" stroke-width="1" fill="none"/>
<rect x="143.75" y="69.5" width="59.5" height="55.3" stroke="#333" stroke-width="1" fill="none"/>
<rect x="145.75" y="128.5" width="59.5" height="55" stroke="#333" stroke-width="1" fill="none"/>
<text x="71.3" y="67.5" font-size="13.4" font-weight="normal" text-anchor="start" fill="#111" >no. 2</text>
<text x="193.6" y="67.6" font-size="13.4" font-weight="normal" text-anchor="start" fill="#111" >no. 3</text>
<text x="196.5" y="192" font-size="13.4" font-weight="normal" text-anchor="start" fill="#111" >no. 1</text>
<line x1="50.8" y1="167" x2="50.8" y2="67" stroke="#111" stroke-width="1.7"/>
<path d="M50.8,56 L47.8,68 L53.8,68 Z" fill="#111"/>
<line x1="85" y1="200.8" x2="185" y2="200.8" stroke="#111" stroke-width="1.7"/>
<path d="M196,200.8 L184,197.8 L184,203.8 Z" fill="#111"/>
<text transform="translate(16.0,108.7) rotate(-90)" x="0" y="0" font-size="18.7" text-anchor="middle" fill="#111">Second Zymosan</text>
<text transform="translate(41,108.6) rotate(-90)" x="0" y="0" font-size="18.7" text-anchor="middle" fill="#111">pulse</text>
<text x="55.5" y="226" font-size="18.5" font-weight="normal" text-anchor="start" fill="#111" >First Zymosan pulse</text>
<path d="M303.0,159 L303.0,144.4 L303.4,154.2 L303.8,157.7 L304.2,157.2 L304.6,156.8 L305.0,157.4 L305.4,158.1 L305.8,157.8 L306.2,157.0 L306.6,156.6 L307.0,157.3 L307.4,158.3 L307.8,158.1 L308.2,156.5 L308.6,157.4 L309.0,158.8 L309.4,157.6 L309.8,158.2 L310.2,157.9 L310.6,157.8 L311.0,157.9 L311.4,157.2 L311.8,157.5 L312.2,157.9 L312.6,157.3 L313.0,157.0 L313.4,158.6 L313.8,157.7 L314.2,158.1 L314.6,157.6 L315.0,158.3 L315.4,157.3 L315.8,157.1 L316.2,157.1 L316.6,157.5 L317.0,156.8 L317.4,157.2 L317.8,157.3 L318.2,155.3 L318.6,156.7 L319.0,154.4 L319.4,154.6 L319.8,157.1 L320.2,154.6 L320.6,155.8 L321.0,154.4 L321.4,154.1 L321.8,156.2 L322.2,153.9 L322.6,153.7 L323.0,152.0 L323.4,152.8 L323.8,151.8 L324.2,153.9 L324.6,152.7 L325.0,153.1 L325.4,149.0 L325.8,148.7 L326.2,146.4 L326.6,146.0 L327.0,144.4 L327.4,143.1 L327.8,144.5 L328.2,139.5 L328.6,137.7 L329.0,138.8 L329.4,135.7 L329.8,133.8 L330.2,130.9 L330.6,129.2 L331.0,128.1 L331.4,123.1 L331.8,122.7 L332.2,123.5 L332.6,115.3 L333.0,119.0 L333.4,115.9 L333.8,113.3 L334.2,103.8 L334.6,109.8 L335.0,110.8 L335.4,101.3 L335.8,92.1 L336.2,88.4 L336.6,92.4 L337.0,81.6 L337.4,85.5 L337.8,78.2 L338.2,73.4 L338.6,72.6 L339.0,69.5 L339.4,66.5 L339.8,69.1 L340.2,72.3 L340.6,75.5 L341.0,68.1 L341.4,68.9 L341.8,79.3 L342.2,68.9 L342.6,69.1 L343.0,71.5 L343.4,71.7 L343.8,69.7 L344.2,77.5 L344.6,81.9 L345.0,86.9 L345.4,92.8 L345.8,96.2 L346.2,99.7 L346.6,104.0 L347.0,112.1 L347.4,110.2 L347.8,115.4 L348.2,120.6 L348.6,123.9 L349.0,128.1 L349.4,128.0 L349.8,128.2 L350.2,133.2 L350.6,132.7 L351.0,133.2 L351.4,138.3 L351.8,135.0 L352.2,135.9 L352.6,133.5 L353.0,135.6 L353.4,132.0 L353.8,129.7 L354.2,131.3 L354.6,130.6 L355.0,126.4 L355.4,126.8 L355.8,125.7 L356.2,124.7 L356.6,123.9 L357.0,121.5 L357.4,118.7 L357.8,117.3 L358.2,112.9 L358.6,116.5 L359.0,116.8 L359.4,116.8 L359.8,119.5 L360.2,121.2 L360.6,122.2 L361.0,125.7 L361.4,118.2 L361.8,117.1 L362.2,121.5 L362.6,113.9 L363.0,113.7 L363.4,115.8 L363.8,110.9 L364.2,109.1 L364.6,108.2 L365.0,115.8 L365.4,114.1 L365.8,118.9 L366.2,112.7 L366.6,111.5 L367.0,104.4 L367.4,100.1 L367.8,97.7 L368.2,101.6 L368.6,100.9 L369.0,94.6 L369.4,97.6 L369.8,92.5 L370.2,105.5 L370.6,92.0 L371.0,91.3 L371.4,95.2 L371.8,91.4 L372.2,85.1 L372.6,95.3 L373.0,94.1 L373.4,87.6 L373.8,89.1 L374.2,92.4 L374.6,95.8 L375.0,98.0 L375.4,97.7 L375.8,99.6 L376.2,105.5 L376.6,108.8 L377.0,105.3 L377.4,113.4 L377.8,127.6 L378.2,115.3 L378.6,116.6 L379.0,118.8 L379.4,121.6 L379.8,127.2 L380.2,125.1 L380.6,127.8 L381.0,128.4 L381.4,131.6 L381.8,137.6 L382.2,139.2 L382.6,135.1 L383.0,139.7 L383.4,144.5 L383.8,142.6 L384.2,142.7 L384.6,142.1 L385.0,147.2 L385.4,145.4 L385.8,145.7 L386.2,150.1 L386.6,150.5 L387.0,149.4 L387.4,150.4 L387.8,152.1 L388.2,153.6 L388.6,153.6 L389.0,156.2 L389.4,156.4 L389.8,157.7 L390.2,157.5 L390.6,157.8 L391.0,156.6 L391.4,158.3 L391.8,158.0 L392.2,158.4 L392.6,159.0 L393.0,158.7 L393.4,159.0 L393.8,159.0 L394.2,158.8 L394.6,159.0 L395.0,159.0 L395.0,159 Z" fill="#858585" stroke="#1a1a1a" stroke-width="0.9" stroke-linejoin="miter"/>
<line x1="303" y1="65" x2="303" y2="159" stroke="#777" stroke-width="1"/>
<line x1="303" y1="159" x2="472.5" y2="159" stroke="#777" stroke-width="1"/>
<path d="M303.0,159v2.5M315.8,159v1.5M323.2,159v1.5M328.5,159v1.5M332.6,159v1.5M336.0,159v1.5M338.8,159v1.5M341.3,159v1.5M343.5,159v1.5M345.4,159v2.5M358.2,159v1.5M365.6,159v1.5M370.9,159v1.5M375.0,159v1.5M378.4,159v1.5M381.2,159v1.5M383.7,159v1.5M385.9,159v1.5M387.8,159v2.5M400.6,159v1.5M408.0,159v1.5M413.3,159v1.5M417.4,159v1.5M420.8,159v1.5M423.6,159v1.5M426.1,159v1.5M428.3,159v1.5M430.2,159v2.5M443.0,159v1.5M450.4,159v1.5M455.7,159v1.5M459.8,159v1.5M463.2,159v1.5M466.0,159v1.5M468.5,159v1.5M470.7,159v1.5M472.6,159v2.5M303,65.0h-2M303,88.5h-2M303,112.0h-2M303,135.5h-2" stroke="#777" stroke-width="0.8" fill="none"/>
<line x1="357" y1="65.75" x2="472.5" y2="65.75" stroke="#666" stroke-width="1.2"/>
<line x1="472.5" y1="63.75" x2="472.5" y2="67.75" stroke="#666" stroke-width="1"/>
<text x="417" y="89" font-size="12.5" font-weight="normal" text-anchor="start" fill="#111" >#1, 45%</text>
<path d="M303.0,271.5 L303.0,271.2 L303.4,271.0 L303.8,271.5 L304.2,271.5 L304.6,271.1 L305.0,271.0 L305.4,271.2 L305.8,270.9 L306.2,271.2 L306.6,271.1 L307.0,271.2 L307.4,271.5 L307.8,271.4 L308.2,271.0 L308.6,271.3 L309.0,270.7 L309.4,270.7 L309.8,270.4 L310.2,271.0 L310.6,270.5 L311.0,271.3 L311.4,271.2 L311.8,270.9 L312.2,270.8 L312.6,271.5 L313.0,271.5 L313.4,270.7 L313.8,271.1 L314.2,270.3 L314.6,270.6 L315.0,270.6 L315.4,270.6 L315.8,270.2 L316.2,270.7 L316.6,270.1 L317.0,270.8 L317.4,270.8 L317.8,270.9 L318.2,270.2 L318.6,270.5 L319.0,270.9 L319.4,269.4 L319.8,270.6 L320.2,270.5 L320.6,270.2 L321.0,269.3 L321.4,270.4 L321.8,270.0 L322.2,270.3 L322.6,271.1 L323.0,269.8 L323.4,269.7 L323.8,270.3 L324.2,270.2 L324.6,271.1 L325.0,271.1 L325.4,270.3 L325.8,269.5 L326.2,270.1 L326.6,269.4 L327.0,268.8 L327.4,269.3 L327.8,268.8 L328.2,268.0 L328.6,269.6 L329.0,268.2 L329.4,270.1 L329.8,267.6 L330.2,267.4 L330.6,267.8 L331.0,268.0 L331.4,266.3 L331.8,266.3 L332.2,265.1 L332.6,265.6 L333.0,261.4 L333.4,262.7 L333.8,260.3 L334.2,259.3 L334.6,255.1 L335.0,258.3 L335.4,253.6 L335.8,249.8 L336.2,251.5 L336.6,251.2 L337.0,245.7 L337.4,246.2 L337.8,239.7 L338.2,242.8 L338.6,236.3 L339.0,232.4 L339.4,228.9 L339.8,230.8 L340.2,221.3 L340.6,222.6 L341.0,220.9 L341.4,214.8 L341.8,206.3 L342.2,199.8 L342.6,191.2 L343.0,190.7 L343.4,191.8 L343.8,194.1 L344.2,189.9 L344.6,200.8 L345.0,199.3 L345.4,199.3 L345.8,208.0 L346.2,218.1 L346.6,216.0 L347.0,220.7 L347.4,230.5 L347.8,223.0 L348.2,226.0 L348.6,229.1 L349.0,234.3 L349.4,233.9 L349.8,239.3 L350.2,238.2 L350.6,241.1 L351.0,239.4 L351.4,242.9 L351.8,241.3 L352.2,242.6 L352.6,244.0 L353.0,247.2 L353.4,246.6 L353.8,244.9 L354.2,251.6 L354.6,249.9 L355.0,249.5 L355.4,249.1 L355.8,246.9 L356.2,246.7 L356.6,245.9 L357.0,251.0 L357.4,243.0 L357.8,243.6 L358.2,240.9 L358.6,241.0 L359.0,238.8 L359.4,239.2 L359.8,236.5 L360.2,238.3 L360.6,242.4 L361.0,242.6 L361.4,244.8 L361.8,239.2 L362.2,240.9 L362.6,233.7 L363.0,236.5 L363.4,232.1 L363.8,227.2 L364.2,229.5 L364.6,223.5 L365.0,221.6 L365.4,219.7 L365.8,217.4 L366.2,222.1 L366.6,213.7 L367.0,209.0 L367.4,220.8 L367.8,210.2 L368.2,215.7 L368.6,213.7 L369.0,216.2 L369.4,220.6 L369.8,222.4 L370.2,216.6 L370.6,214.8 L371.0,213.1 L371.4,211.9 L371.8,211.1 L372.2,209.0 L372.6,213.7 L373.0,214.8 L373.4,218.0 L373.8,224.6 L374.2,226.4 L374.6,225.2 L375.0,225.7 L375.4,228.4 L375.8,228.2 L376.2,229.6 L376.6,233.9 L377.0,233.2 L377.4,236.4 L377.8,236.8 L378.2,238.6 L378.6,244.0 L379.0,246.5 L379.4,247.5 L379.8,250.4 L380.2,254.3 L380.6,256.3 L381.0,256.7 L381.4,259.6 L381.8,263.5 L382.2,263.5 L382.6,264.2 L383.0,266.9 L383.4,265.6 L383.8,267.7 L384.2,267.1 L384.6,269.9 L385.0,270.1 L385.4,270.7 L385.8,269.3 L386.2,269.6 L386.6,269.9 L387.0,270.3 L387.4,270.9 L387.8,271.1 L388.2,271.5 L388.6,271.3 L389.0,271.5 L389.4,271.5 L389.8,271.5 L389.8,271.5 Z" fill="#858585" stroke="#1a1a1a" stroke-width="0.9" stroke-linejoin="miter"/>
<line x1="303" y1="177" x2="303" y2="271.5" stroke="#777" stroke-width="1"/>
<line x1="303" y1="271.5" x2="472.5" y2="271.5" stroke="#777" stroke-width="1"/>
<path d="M303.0,271.5v2.5M315.8,271.5v1.5M323.2,271.5v1.5M328.5,271.5v1.5M332.6,271.5v1.5M336.0,271.5v1.5M338.8,271.5v1.5M341.3,271.5v1.5M343.5,271.5v1.5M345.4,271.5v2.5M358.2,271.5v1.5M365.6,271.5v1.5M370.9,271.5v1.5M375.0,271.5v1.5M378.4,271.5v1.5M381.2,271.5v1.5M383.7,271.5v1.5M385.9,271.5v1.5M387.8,271.5v2.5M400.6,271.5v1.5M408.0,271.5v1.5M413.3,271.5v1.5M417.4,271.5v1.5M420.8,271.5v1.5M423.6,271.5v1.5M426.1,271.5v1.5M428.3,271.5v1.5M430.2,271.5v2.5M443.0,271.5v1.5M450.4,271.5v1.5M455.7,271.5v1.5M459.8,271.5v1.5M463.2,271.5v1.5M466.0,271.5v1.5M468.5,271.5v1.5M470.7,271.5v1.5M472.6,271.5v2.5M303,177.0h-2M303,200.6h-2M303,224.2h-2M303,247.9h-2" stroke="#777" stroke-width="0.8" fill="none"/>
<line x1="357" y1="177.5" x2="472.5" y2="177.5" stroke="#666" stroke-width="1.2"/>
<line x1="472.5" y1="175.5" x2="472.5" y2="179.5" stroke="#666" stroke-width="1"/>
<text x="417" y="196.8" font-size="12.5" font-weight="normal" text-anchor="start" fill="#111" >#2, 51%</text>
<path d="M303.0,387 L303.0,387.0 L303.4,386.9 L303.8,387.0 L304.2,387.0 L304.6,386.9 L305.0,387.0 L305.4,386.7 L305.8,386.2 L306.2,386.8 L306.6,386.8 L307.0,386.4 L307.4,386.5 L307.8,386.5 L308.2,386.9 L308.6,386.6 L309.0,386.3 L309.4,387.0 L309.8,386.7 L310.2,387.0 L310.6,387.0 L311.0,387.0 L311.4,386.6 L311.8,387.0 L312.2,386.4 L312.6,386.5 L313.0,386.6 L313.4,387.0 L313.8,386.7 L314.2,386.5 L314.6,386.5 L315.0,387.0 L315.4,386.4 L315.8,386.3 L316.2,386.1 L316.6,384.6 L317.0,385.6 L317.4,384.8 L317.8,383.7 L318.2,384.3 L318.6,383.4 L319.0,384.0 L319.4,383.1 L319.8,384.2 L320.2,382.6 L320.6,380.9 L321.0,383.8 L321.4,380.6 L321.8,380.4 L322.2,381.4 L322.6,378.0 L323.0,378.4 L323.4,380.6 L323.8,378.7 L324.2,376.3 L324.6,376.6 L325.0,374.2 L325.4,374.5 L325.8,372.3 L326.2,372.8 L326.6,377.1 L327.0,376.9 L327.4,377.6 L327.8,376.5 L328.2,377.7 L328.6,375.6 L329.0,373.9 L329.4,371.8 L329.8,369.6 L330.2,373.7 L330.6,372.2 L331.0,368.7 L331.4,373.6 L331.8,369.9 L332.2,367.4 L332.6,363.1 L333.0,361.2 L333.4,361.6 L333.8,362.9 L334.2,357.2 L334.6,352.6 L335.0,353.9 L335.4,351.6 L335.8,347.7 L336.2,345.9 L336.6,342.7 L337.0,342.8 L337.4,335.5 L337.8,333.1 L338.2,325.3 L338.6,321.2 L339.0,319.2 L339.4,312.8 L339.8,312.1 L340.2,304.3 L340.6,307.9 L341.0,308.1 L341.4,319.5 L341.8,314.3 L342.2,323.0 L342.6,324.9 L343.0,317.8 L343.4,314.5 L343.8,316.4 L344.2,314.5 L344.6,320.9 L345.0,320.4 L345.4,321.4 L345.8,322.2 L346.2,329.4 L346.6,331.3 L347.0,335.8 L347.4,340.1 L347.8,347.6 L348.2,347.5 L348.6,349.1 L349.0,352.9 L349.4,351.9 L349.8,356.7 L350.2,353.8 L350.6,356.8 L351.0,359.3 L351.4,362.5 L351.8,364.2 L352.2,371.3 L352.6,372.0 L353.0,368.4 L353.4,372.2 L353.8,363.9 L354.2,369.5 L354.6,361.3 L355.0,366.5 L355.4,359.6 L355.8,359.6 L356.2,363.0 L356.6,355.9 L357.0,355.1 L357.4,356.5 L357.8,356.3 L358.2,355.2 L358.6,356.7 L359.0,353.0 L359.4,359.6 L359.8,361.3 L360.2,366.2 L360.6,365.7 L361.0,363.9 L361.4,355.6 L361.8,352.3 L362.2,349.8 L362.6,349.4 L363.0,349.3 L363.4,345.8 L363.8,344.8 L364.2,341.3 L364.6,341.0 L365.0,339.1 L365.4,343.8 L365.8,337.3 L366.2,330.6 L366.6,332.4 L367.0,336.3 L367.4,332.1 L367.8,332.3 L368.2,340.6 L368.6,337.8 L369.0,340.9 L369.4,346.4 L369.8,338.0 L370.2,337.8 L370.6,335.1 L371.0,335.8 L371.4,330.5 L371.8,335.7 L372.2,337.3 L372.6,340.1 L373.0,341.4 L373.4,335.9 L373.8,340.5 L374.2,338.1 L374.6,342.0 L375.0,348.3 L375.4,348.1 L375.8,346.9 L376.2,351.8 L376.6,353.3 L377.0,354.9 L377.4,355.1 L377.8,357.8 L378.2,361.1 L378.6,365.9 L379.0,370.4 L379.4,368.5 L379.8,371.7 L380.2,376.8 L380.6,377.8 L381.0,378.4 L381.4,379.4 L381.8,380.3 L382.2,382.7 L382.6,381.8 L383.0,385.2 L383.4,383.3 L383.8,383.9 L384.2,383.9 L384.6,383.6 L385.0,384.2 L385.4,386.2 L385.8,386.8 L386.2,385.5 L386.6,386.6 L387.0,386.3 L387.4,386.1 L387.8,387.0 L388.2,387.0 L388.6,386.8 L389.0,387.0 L389.4,387.0 L389.8,387.0 L390.2,387.0 L390.6,387.0 L391.0,387.0 L391.0,387 Z" fill="#858585" stroke="#1a1a1a" stroke-width="0.9" stroke-linejoin="miter"/>
<line x1="303" y1="292.5" x2="303" y2="387" stroke="#777" stroke-width="1"/>
<line x1="303" y1="387" x2="472.5" y2="387" stroke="#777" stroke-width="1"/>
<path d="M303.0,387v2.5M315.8,387v1.5M323.2,387v1.5M328.5,387v1.5M332.6,387v1.5M336.0,387v1.5M338.8,387v1.5M341.3,387v1.5M343.5,387v1.5M345.4,387v2.5M358.2,387v1.5M365.6,387v1.5M370.9,387v1.5M375.0,387v1.5M378.4,387v1.5M381.2,387v1.5M383.7,387v1.5M385.9,387v1.5M387.8,387v2.5M400.6,387v1.5M408.0,387v1.5M413.3,387v1.5M417.4,387v1.5M420.8,387v1.5M423.6,387v1.5M426.1,387v1.5M428.3,387v1.5M430.2,387v2.5M443.0,387v1.5M450.4,387v1.5M455.7,387v1.5M459.8,387v1.5M463.2,387v1.5M466.0,387v1.5M468.5,387v1.5M470.7,387v1.5M472.6,387v2.5M303,292.5h-2M303,316.1h-2M303,339.8h-2M303,363.4h-2" stroke="#777" stroke-width="0.8" fill="none"/>
<line x1="357" y1="293.75" x2="472.5" y2="293.75" stroke="#666" stroke-width="1.2"/>
<line x1="472.5" y1="291.75" x2="472.5" y2="295.75" stroke="#666" stroke-width="1"/>
<text x="417" y="311" font-size="12.5" font-weight="normal" text-anchor="start" fill="#111" >#3, 41%</text>
<line x1="330.8" y1="401" x2="433" y2="401" stroke="#111" stroke-width="1.7"/>
<path d="M444,401 L432,398 L432,404 Z" fill="#111"/>
<text x="330" y="421.7" font-size="18.5" font-weight="normal" text-anchor="start" fill="#111" >phospho-Syk</text>
<rect x="95.5" y="305.2" width="20.8" height="48.3" stroke="#111" stroke-width="1.6" fill="none"/>
<rect x="158.7" y="305.4" width="21.1" height="49" stroke="#111" stroke-width="1.6" fill="none"/>
<text x="73" y="296.5" font-size="18.5" font-weight="normal" text-anchor="start" fill="#111" >ROS</text>
<text x="114.6" y="292" font-size="18.5" font-weight="normal" text-anchor="start" fill="#111" >-</text>
<text x="144.3" y="299" font-size="18.5" font-weight="normal" text-anchor="start" fill="#111" >ROS</text>
<text x="183.6" y="294.3" font-size="21" fill="#111" stroke="#111" stroke-width="0.2">+</text>
<text x="75" y="270.5" font-size="6.7" font-weight="normal" text-anchor="start" fill="#111" >26.1%</text>
<text x="185" y="270.5" font-size="6.7" font-weight="normal" text-anchor="start" fill="#111" >21.7%</text>
<text x="75" y="388.5" font-size="6.7" font-weight="normal" text-anchor="start" fill="#111" >48.3%</text>
<line x1="55.7" y1="380" x2="55.7" y2="278.8" stroke="#111" stroke-width="1.7"/>
<path d="M55.7,267.8 L52.7,279.8 L58.7,279.8 Z" fill="#111"/>
<text transform="translate(19.3,322.9) rotate(-90)" x="0" y="0" font-size="18.7" text-anchor="middle" fill="#111">TRITC-Zymosan</text>
<text transform="translate(42.3,322.7) rotate(-90)" x="0" y="0" font-size="18.7" text-anchor="middle" fill="#111">Internalization</text>
<line x1="83" y1="403.8" x2="184.4" y2="403.8" stroke="#111" stroke-width="1.7"/>
<path d="M195.4,403.8 L183.4,400.8 L183.4,406.8 Z" fill="#111"/>
<text x="60.6" y="424.6" font-size="18.6" font-weight="normal" text-anchor="start" fill="#111" >APF Fluorescence</text>
<text x="63.6" y="441.5" font-size="18.75" font-weight="normal" text-anchor="start" fill="#111" >(ROS production)</text>
<text x="75.4" y="461.7" font-size="6.7" font-weight="normal" text-anchor="start" fill="#111" >34.9%</text>
<text x="204.2" y="461.7" font-size="6.7" font-weight="normal" text-anchor="end" fill="#111" >31.9%</text>
<text x="75.4" y="577.0" font-size="6.7" font-weight="normal" text-anchor="start" fill="#111" >29.6%</text>
<text x="76.2" y="602.2" font-size="6.7" font-weight="normal" text-anchor="start" fill="#111" >30.1%</text>
<text x="206.3" y="602.2" font-size="6.7" font-weight="normal" text-anchor="end" fill="#111" >21.4%</text>
<text x="76.2" y="716.8000000000001" font-size="6.7" font-weight="normal" text-anchor="start" fill="#111" >45.5%</text>
<text x="155" y="486.3" font-size="18.5" font-weight="normal" text-anchor="start" fill="#111" >ROS</text>
<text x="197.8" y="481" font-size="10" font-weight="normal" text-anchor="start" fill="#111" >-</text>
<text x="163" y="631" font-size="12" font-weight="normal" text-anchor="start" fill="#111" >ROS</text>
<text x="191" y="626" font-size="7" font-weight="normal" text-anchor="start" fill="#111" >+</text>
<line x1="55.8" y1="646.6" x2="55.8" y2="546" stroke="#111" stroke-width="1.7"/>
<path d="M55.8,535 L52.8,547 L58.8,547 Z" fill="#111"/>
<text transform="translate(19.7,586.2) rotate(-90)" x="0" y="0" font-size="18.7" text-anchor="middle" fill="#111">TRITC-Zymosan</text>
<text transform="translate(42.8,585.3) rotate(-90)" x="0" y="0" font-size="18.7" text-anchor="middle" fill="#111">Internalization</text>
<line x1="84.6" y1="731" x2="186" y2="731" stroke="#111" stroke-width="1.7"/>
<path d="M197,731 L185,728 L185,734 Z" fill="#111"/>
<text x="63" y="752.8" font-size="18.6" font-weight="normal" text-anchor="start" fill="#111" >APF Fluorescence</text>
<text x="64.4" y="768.3" font-size="18.75" font-weight="normal" text-anchor="start" fill="#111" >(ROS production)</text>
<line x1="266.4" y1="464.5" x2="266.4" y2="530.4" stroke="#888" stroke-width="1"/>
<line x1="266.4" y1="530.4" x2="378.8" y2="530.4" stroke="#333" stroke-width="1.2"/>
<path d="M266.6,530.0 L267.1,529.8 L267.6,529.8 L268.1,529.9 L268.6,529.8 L269.1,529.9 L269.6,530.0 L270.1,529.9 L270.6,529.9 L271.1,529.6 L271.6,529.7 L272.1,529.7 L272.6,529.8 L273.1,529.8 L273.6,529.8 L274.1,529.7 L274.6,529.5 L275.1,529.5 L275.6,529.6 L276.1,529.5 L276.6,529.7 L277.1,529.2 L277.6,529.6 L278.1,529.4 L278.6,529.0 L279.1,529.8 L279.6,529.6 L280.1,529.5 L280.6,529.3 L281.1,529.6 L281.6,529.3 L282.1,529.2 L282.6,529.2 L283.1,529.7 L283.6,529.0 L284.1,528.8 L284.6,529.0 L285.1,529.2 L285.6,528.4 L286.1,528.1 L286.6,526.2 L287.1,524.8 L287.6,523.2 L288.1,521.7 L288.6,516.8 L289.1,513.1 L289.6,509.9 L290.1,503.0 L290.6,499.7 L291.1,492.7 L291.6,485.2 L292.1,479.2 L292.6,477.0 L293.1,472.5 L293.6,469.9 L294.1,468.9 L294.6,463.6 L295.1,465.3 L295.6,466.3 L296.1,464.0 L296.6,463.4 L297.1,464.7 L297.6,468.9 L298.1,474.2 L298.6,481.8 L299.1,482.3 L299.6,487.9 L300.1,496.1 L300.6,498.8 L301.1,504.0 L301.6,506.5 L302.1,511.3 L302.6,515.2 L303.1,519.3 L303.6,523.5 L304.1,524.7 L304.6,524.8 L305.1,525.9 L305.6,526.8 L306.1,527.2 L306.6,527.1 L307.1,526.6 L307.6,526.6 L308.1,526.7 L308.6,527.0 L309.1,527.1 L309.6,526.7 L310.1,526.3 L310.6,525.9 L311.1,526.5 L311.6,526.1 L312.1,526.0 L312.6,525.7 L313.1,526.5 L313.6,526.1 L314.1,526.6 L314.6,527.2 L315.1,527.6 L315.6,526.6 L316.1,526.3 L316.6,525.6 L317.1,526.6 L317.6,526.1 L318.1,526.2 L318.6,527.0 L319.1,525.8 L319.6,526.0 L320.1,526.3 L320.6,525.0 L321.1,525.8 L321.6,525.3 L322.1,525.5 L322.6,525.5 L323.1,525.1 L323.6,524.5 L324.1,525.0 L324.6,525.2 L325.1,523.5 L325.6,524.0 L326.1,524.4 L326.6,523.8 L327.1,524.2 L327.6,523.2 L328.1,522.4 L328.6,523.5 L329.1,521.7 L329.6,521.4 L330.1,521.7 L330.6,521.1 L331.1,521.1 L331.6,521.2 L332.1,522.1 L332.6,520.3 L333.1,521.7 L333.6,521.5 L334.1,522.2 L334.6,522.3 L335.1,522.8 L335.6,524.0 L336.1,523.9 L336.6,524.6 L337.1,525.4 L337.6,525.0 L338.1,525.6 L338.6,526.8 L339.1,527.1 L339.6,527.8 L340.1,528.3 L340.6,528.7 L341.1,528.6 L341.6,529.2 L342.1,529.4 L342.6,529.3 L343.1,529.7 L343.6,529.7 L344.1,530.1 L344.6,530.1 L345.1,530.1 L345.6,530.3 L346.1,530.0 L346.6,530.0 L347.1,530.0 L347.6,530.1 L348.1,530.1 L348.6,530.2 L349.1,530.2 L349.6,530.3" fill="none" stroke="#111" stroke-width="1.3" stroke-linejoin="round"/>
<line x1="384.2" y1="464.2" x2="384.2" y2="530.5" stroke="#888" stroke-width="1"/>
<line x1="384.2" y1="530.5" x2="495.7" y2="530.5" stroke="#333" stroke-width="1.2"/>
<path d="M384.2,529.4 L384.7,529.2 L385.2,529.8 L385.7,529.2 L386.2,529.5 L386.7,529.6 L387.2,529.6 L387.7,529.7 L388.2,529.5 L388.7,529.3 L389.2,529.4 L389.7,529.4 L390.2,529.8 L390.7,529.8 L391.2,529.2 L391.7,529.3 L392.2,529.1 L392.7,529.3 L393.2,529.7 L393.7,529.3 L394.2,529.4 L394.7,529.5 L395.2,529.6 L395.7,529.5 L396.2,529.5 L396.7,529.3 L397.2,529.5 L397.7,529.2 L398.2,529.6 L398.7,529.4 L399.2,529.3 L399.7,529.5 L400.2,529.5 L400.7,528.9 L401.2,529.0 L401.7,529.0 L402.2,528.8 L402.7,529.0 L403.2,528.7 L403.7,528.8 L404.2,528.5 L404.7,528.3 L405.2,528.5 L405.7,527.4 L406.2,526.8 L406.7,525.2 L407.2,524.5 L407.7,522.7 L408.2,520.1 L408.7,517.7 L409.2,515.3 L409.7,511.6 L410.2,508.5 L410.7,507.2 L411.2,501.5 L411.7,500.9 L412.2,496.4 L412.7,493.5 L413.2,491.3 L413.7,490.7 L414.2,488.4 L414.7,487.9 L415.2,489.4 L415.7,489.8 L416.2,490.4 L416.7,492.7 L417.2,496.3 L417.7,499.9 L418.2,504.4 L418.7,509.3 L419.2,513.8 L419.7,515.9 L420.2,516.5 L420.7,518.7 L421.2,520.5 L421.7,521.6 L422.2,522.0 L422.7,522.1 L423.2,523.5 L423.7,524.1 L424.2,524.4 L424.7,525.4 L425.2,524.8 L425.7,524.7 L426.2,524.6 L426.7,524.7 L427.2,524.1 L427.7,523.7 L428.2,523.7 L428.7,523.8 L429.2,524.2 L429.7,522.6 L430.2,522.9 L430.7,522.8 L431.2,521.6 L431.7,521.5 L432.2,522.2 L432.7,521.1 L433.2,520.9 L433.7,519.7 L434.2,521.0 L434.7,519.6 L435.2,519.1 L435.7,517.7 L436.2,518.8 L436.7,519.6 L437.2,518.1 L437.7,516.6 L438.2,515.6 L438.7,514.3 L439.2,514.5 L439.7,514.8 L440.2,512.9 L440.7,512.9 L441.2,512.4 L441.7,511.8 L442.2,510.5 L442.7,511.9 L443.2,511.7 L443.7,510.6 L444.2,510.2 L444.7,510.5 L445.2,510.0 L445.7,508.5 L446.2,507.2 L446.7,507.2 L447.2,507.8 L447.7,508.6 L448.2,512.5 L448.7,513.3 L449.2,513.9 L449.7,515.7 L450.2,517.1 L450.7,517.9 L451.2,520.2 L451.7,521.1 L452.2,523.1 L452.7,523.8 L453.2,524.0 L453.7,526.1 L454.2,526.6 L454.7,527.1 L455.2,528.2 L455.7,528.7 L456.2,529.5 L456.7,529.4 L457.2,529.7 L457.7,529.9 L458.2,529.9 L458.7,529.9 L459.2,529.8 L459.7,530.0" fill="none" stroke="#111" stroke-width="1.3" stroke-linejoin="round"/>
<line x1="266.4" y1="533.5" x2="266.4" y2="600.2" stroke="#888" stroke-width="1"/>
<line x1="266.4" y1="600.2" x2="378.8" y2="600.2" stroke="#333" stroke-width="1.2"/>
<path d="M266.6,599.7 L267.1,599.7 L267.6,599.7 L268.1,599.6 L268.6,599.3 L269.1,599.7 L269.6,599.4 L270.1,599.3 L270.6,599.6 L271.1,599.6 L271.6,599.4 L272.1,599.3 L272.6,599.2 L273.1,599.4 L273.6,599.3 L274.1,599.6 L274.6,599.6 L275.1,599.8 L275.6,599.7 L276.1,599.6 L276.6,599.5 L277.1,599.7 L277.6,599.4 L278.1,599.5 L278.6,599.6 L279.1,599.6 L279.6,599.2 L280.1,599.5 L280.6,599.6 L281.1,599.5 L281.6,598.9 L282.1,599.2 L282.6,598.8 L283.1,598.6 L283.6,599.3 L284.1,598.4 L284.6,598.6 L285.1,598.7 L285.6,598.5 L286.1,598.1 L286.6,598.0 L287.1,597.9 L287.6,597.9 L288.1,596.9 L288.6,596.3 L289.1,595.8 L289.6,595.6 L290.1,594.8 L290.6,594.2 L291.1,593.7 L291.6,592.2 L292.1,590.8 L292.6,589.4 L293.1,587.8 L293.6,587.5 L294.1,584.6 L294.6,582.0 L295.1,582.1 L295.6,579.8 L296.1,575.9 L296.6,577.0 L297.1,575.2 L297.6,573.2 L298.1,573.7 L298.6,574.4 L299.1,574.5 L299.6,575.1 L300.1,576.5 L300.6,577.1 L301.1,577.2 L301.6,579.9 L302.1,580.7 L302.6,583.1 L303.1,584.8 L303.6,586.5 L304.1,587.8 L304.6,588.0 L305.1,588.8 L305.6,590.3 L306.1,589.9 L306.6,590.6 L307.1,591.4 L307.6,592.2 L308.1,593.6 L308.6,591.9 L309.1,593.0 L309.6,594.0 L310.1,592.5 L310.6,592.9 L311.1,592.1 L311.6,592.3 L312.1,591.1 L312.6,591.0 L313.1,590.5 L313.6,590.0 L314.1,588.8 L314.6,589.8 L315.1,587.8 L315.6,587.1 L316.1,587.0 L316.6,585.7 L317.1,585.1 L317.6,583.8 L318.1,582.2 L318.6,582.6 L319.1,580.6 L319.6,579.7 L320.1,579.1 L320.6,577.5 L321.1,578.0 L321.6,576.6 L322.1,574.3 L322.6,575.5 L323.1,574.8 L323.6,573.8 L324.1,572.5 L324.6,572.8 L325.1,571.6 L325.6,572.4 L326.1,571.4 L326.6,571.1 L327.1,571.0 L327.6,570.0 L328.1,569.1 L328.6,570.7 L329.1,572.1 L329.6,571.1 L330.1,571.6 L330.6,575.1 L331.1,575.7 L331.6,578.8 L332.1,580.4 L332.6,582.7 L333.1,584.0 L333.6,587.6 L334.1,589.8 L334.6,592.0 L335.1,593.1 L335.6,594.4 L336.1,596.5 L336.6,597.0 L337.1,598.4 L337.6,598.3 L338.1,598.5 L338.6,599.0 L339.1,599.1 L339.6,599.3 L340.1,599.3 L340.6,599.3 L341.1,599.5 L341.6,599.7 L342.1,599.3 L342.6,599.8 L343.1,599.7 L343.6,599.8" fill="none" stroke="#111" stroke-width="1.3" stroke-linejoin="round"/>
<line x1="383.5" y1="534.8" x2="383.5" y2="600.2" stroke="#888" stroke-width="1"/>
<line x1="383.5" y1="600.2" x2="495.2" y2="600.2" stroke="#333" stroke-width="1.2"/>
<path d="M383.5,599.4 L384.0,599.5 L384.5,599.5 L385.0,599.8 L385.5,599.4 L386.0,599.8 L386.5,599.3 L387.0,599.3 L387.5,599.3 L388.0,599.3 L388.5,599.3 L389.0,599.5 L389.5,599.4 L390.0,599.1 L390.5,599.5 L391.0,599.4 L391.5,599.5 L392.0,599.4 L392.5,599.4 L393.0,599.3 L393.5,599.3 L394.0,599.3 L394.5,599.4 L395.0,599.2 L395.5,599.5 L396.0,599.2 L396.5,599.0 L397.0,599.4 L397.5,599.2 L398.0,598.7 L398.5,599.4 L399.0,599.5 L399.5,599.3 L400.0,598.8 L400.5,598.8 L401.0,599.4 L401.5,599.0 L402.0,599.1 L402.5,599.2 L403.0,599.5 L403.5,598.7 L404.0,598.8 L404.5,598.2 L405.0,598.0 L405.5,597.2 L406.0,597.1 L406.5,597.6 L407.0,595.3 L407.5,592.7 L408.0,591.9 L408.5,589.4 L409.0,586.1 L409.5,583.2 L410.0,578.7 L410.5,574.9 L411.0,568.6 L411.5,564.4 L412.0,556.9 L412.5,552.1 L413.0,545.7 L413.5,543.0 L414.0,538.2 L414.5,535.8 L415.0,536.0 L415.5,532.3 L416.0,533.0 L416.5,534.0 L417.0,538.4 L417.5,543.8 L418.0,549.8 L418.5,557.6 L419.0,560.1 L419.5,565.3 L420.0,573.9 L420.5,581.9 L421.0,584.0 L421.5,589.5 L422.0,594.0 L422.5,594.6 L423.0,595.2 L423.5,595.6 L424.0,597.0 L424.5,597.1 L425.0,597.8 L425.5,597.4 L426.0,598.0 L426.5,597.3 L427.0,597.6 L427.5,597.4 L428.0,598.0 L428.5,597.6 L429.0,597.8 L429.5,598.3 L430.0,597.9 L430.5,597.9 L431.0,598.0 L431.5,597.8 L432.0,598.0 L432.5,597.6 L433.0,597.3 L433.5,597.5 L434.0,597.7 L434.5,596.9 L435.0,597.3 L435.5,597.1 L436.0,597.2 L436.5,597.2 L437.0,596.8 L437.5,597.1 L438.0,596.9 L438.5,597.4 L439.0,597.4 L439.5,597.0 L440.0,596.2 L440.5,596.7 L441.0,596.0 L441.5,596.4 L442.0,596.3 L442.5,596.6 L443.0,596.4 L443.5,595.6 L444.0,595.8 L444.5,596.3 L445.0,596.2 L445.5,595.4 L446.0,596.0 L446.5,595.4 L447.0,596.0 L447.5,595.3 L448.0,594.8 L448.5,595.2 L449.0,595.7 L449.5,595.9 L450.0,596.2 L450.5,596.4 L451.0,596.2 L451.5,596.4 L452.0,597.0 L452.5,597.8 L453.0,597.9 L453.5,598.0 L454.0,598.4 L454.5,599.1 L455.0,599.0 L455.5,598.7 L456.0,599.4 L456.5,599.2 L457.0,599.0 L457.5,599.4 L458.0,599.4 L458.5,599.4 L459.0,599.4 L459.5,599.6 L460.0,599.4 L460.5,599.8 L461.0,599.5 L461.5,599.6 L462.0,599.7 L462.5,599.7 L463.0,599.8" fill="none" stroke="#111" stroke-width="1.3" stroke-linejoin="round"/>
<text x="299.6" y="482" font-size="18.5" font-weight="normal" text-anchor="start" fill="#111" >Untreated</text>
<text x="455" y="481" font-size="17.5" font-weight="normal" text-anchor="start" fill="#111" >IL-4</text>
<text x="332.5" y="552.1" font-size="17.5" fill="#111">IFN<tspan font-family="Liberation Serif" font-size="19">γ</tspan></text>
<text x="423.9" y="551.8" font-size="18.3" fill="#111">PAM<tspan font-size="14.4" dy="4.6">3</tspan><tspan dy="-4.6">CSK</tspan><tspan font-size="14.4" dy="4.6">4</tspan></text>
<line x1="339.5" y1="611.8" x2="412" y2="611.8" stroke="#111" stroke-width="1.7"/>
<path d="M423,611.8 L411,608.8 L411,614.8 Z" fill="#111"/>
<text x="329.6" y="633.6" font-size="18.4" font-weight="normal" text-anchor="start" fill="#111" >phospho-Syk</text>
</svg>
</body></html>
